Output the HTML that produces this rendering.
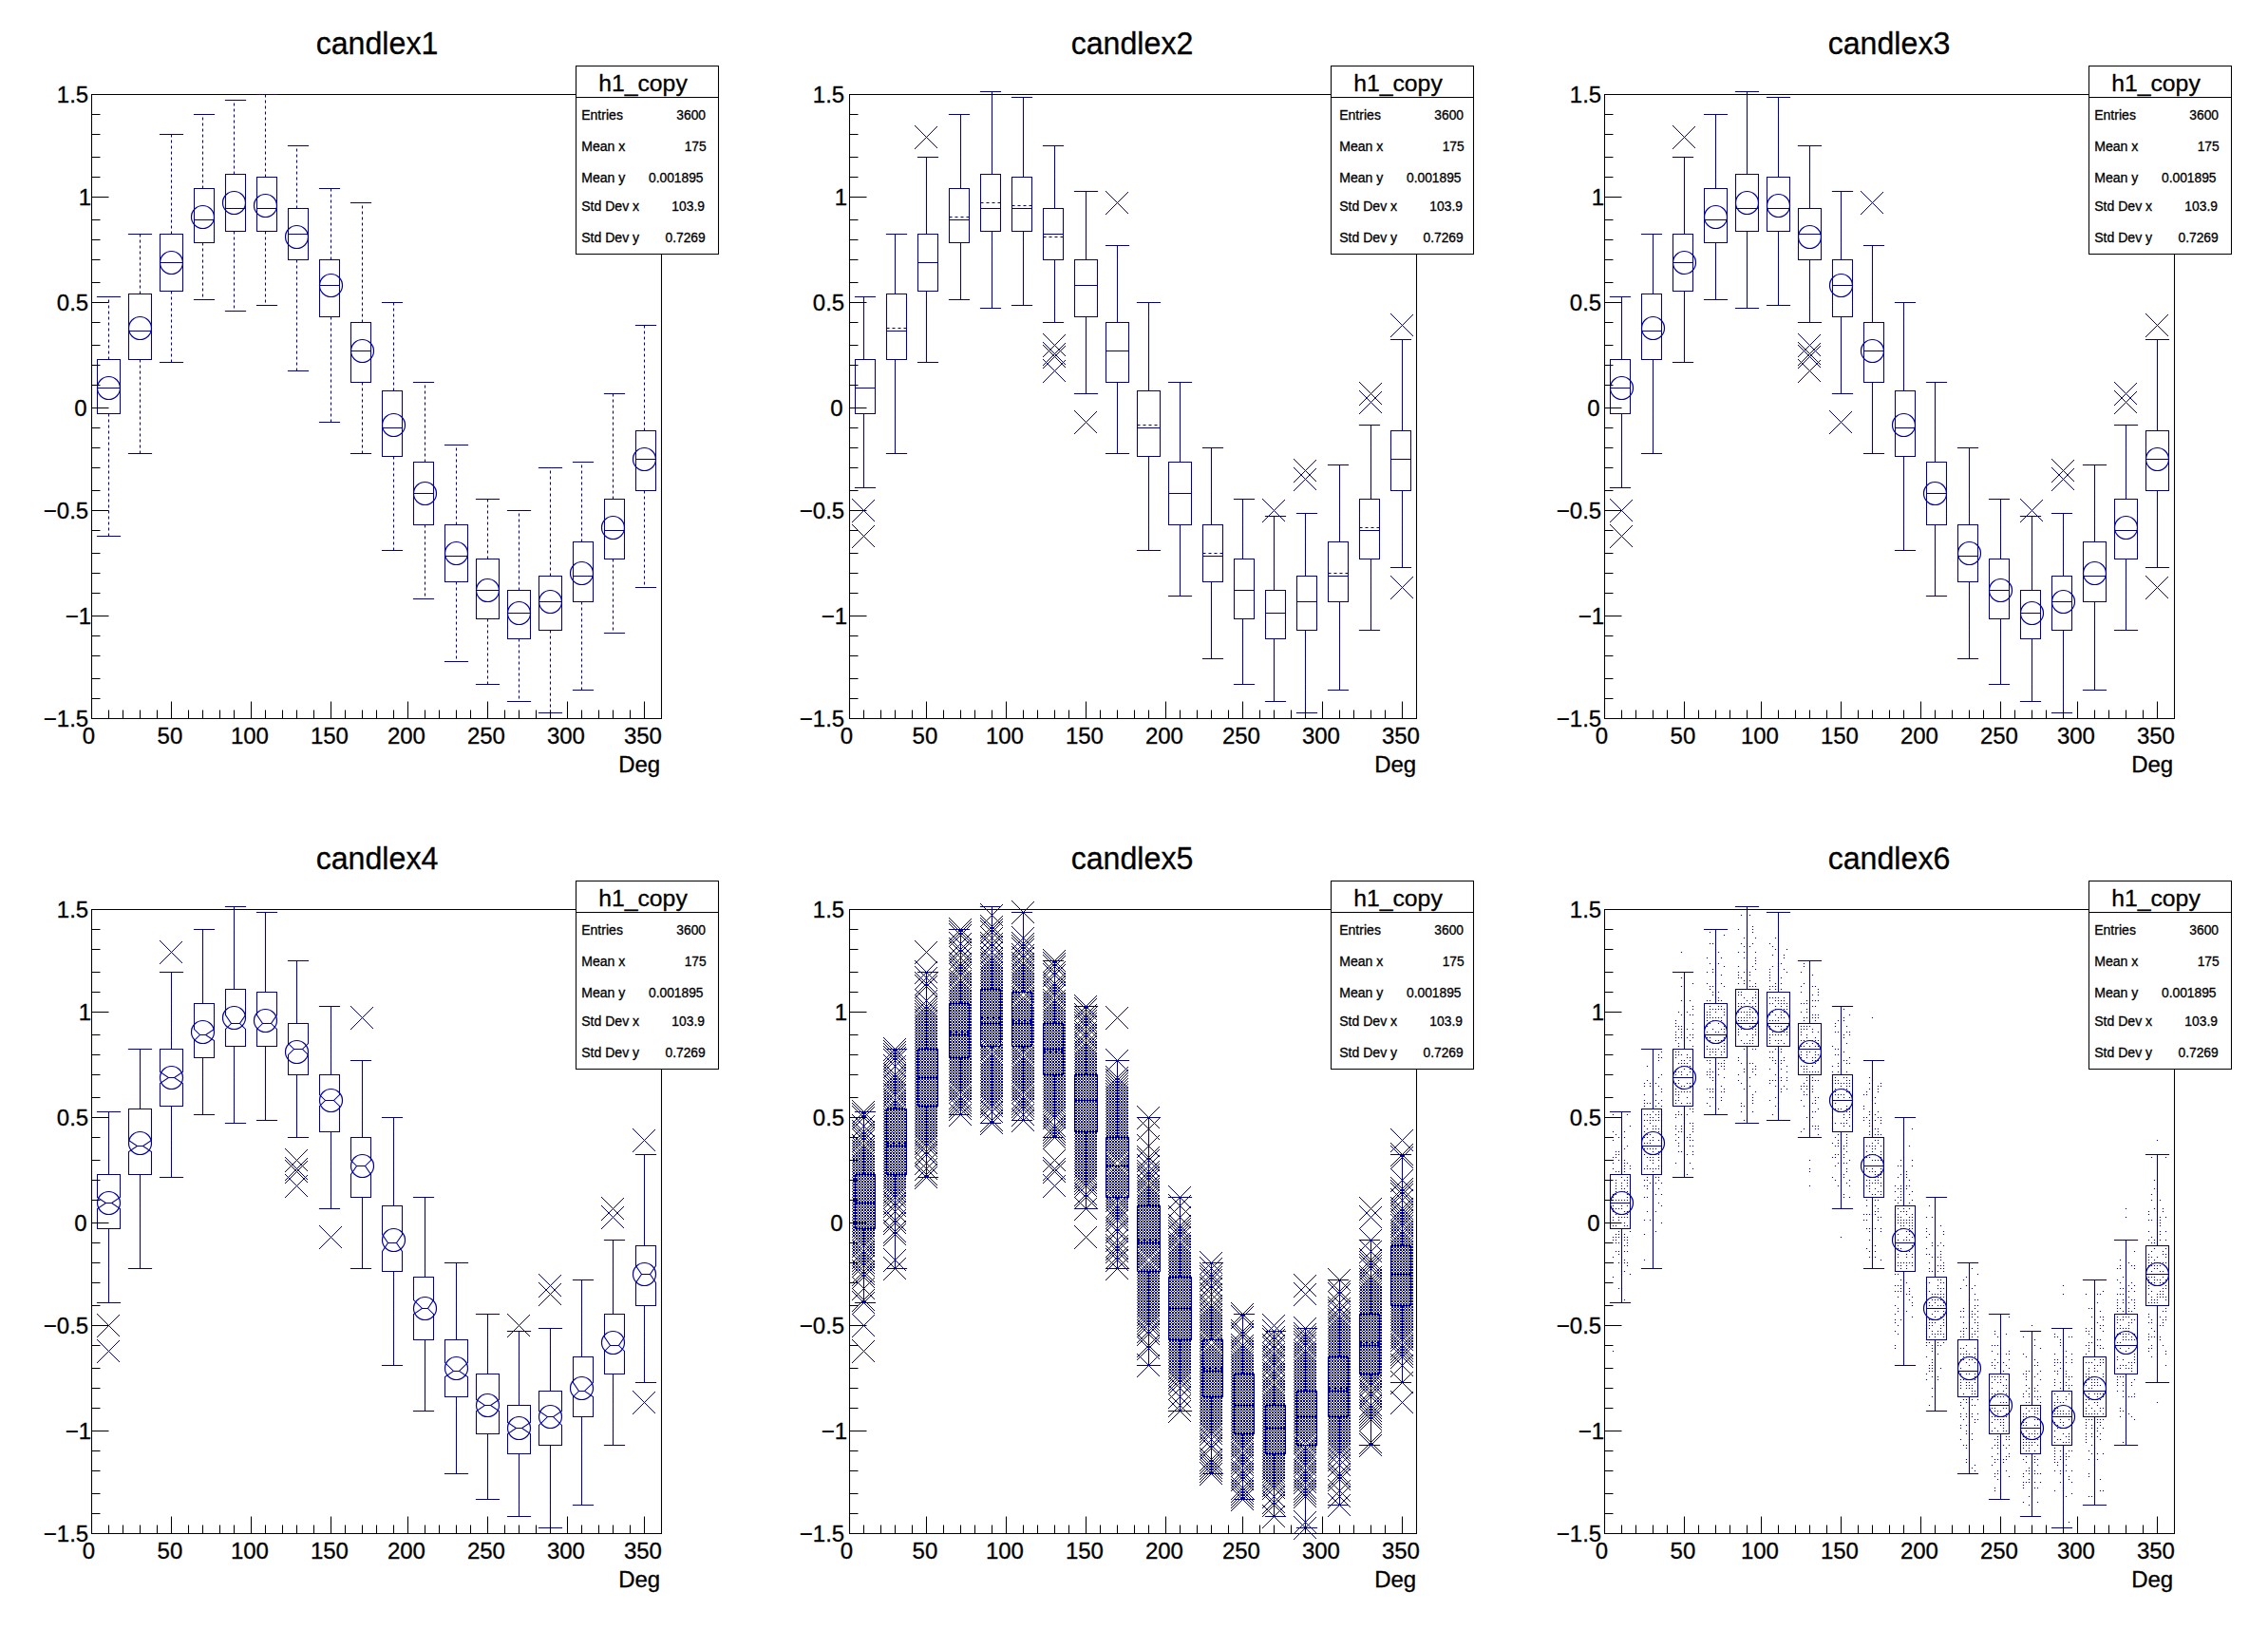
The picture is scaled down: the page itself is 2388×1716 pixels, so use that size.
<!DOCTYPE html><html><head><meta charset="utf-8"><title>candle plots</title><style>html,body{margin:0;padding:0;background:#fff}svg{display:block}text{font-family:"Liberation Sans",sans-serif;fill:#000;stroke:#000;stroke-width:.3px}</style></head><body>
<svg width="2388" height="1716" viewBox="0 0 2388 1716">
<rect width="2388" height="1716" fill="#fff"/>
<g><path d="M96.5 99.5H696.5V756.5H96.5Z" fill="none" stroke="#000" stroke-width="1.05"/><path d="M102.5 378.5H126.5V435.5H102.5ZM102.5 408.5H126.5M101.9 312.5H127.1M101.9 564.5H127.1M135.5 309.5H159.5V378.5H135.5ZM135.5 348.5H159.5M134.9 246.5H160.1M134.9 477.5H160.1M168.5 246.5H192.5V306.5H168.5ZM168.5 276.5H192.5M167.9 141.5H193.1M167.9 381.5H193.1M204.5 198.5H225.5V255.5H204.5ZM204.5 231.5H225.5M203.9 120.5H226.1M203.9 315.5H226.1M237.5 183.5H258.5V243.5H237.5ZM237.5 219.5H258.5M236.9 105.5H259.1M236.9 327.5H259.1M270.5 186.5H291.5V243.5H270.5ZM270.5 219.5H291.5M269.9 99.5H292.1M269.9 321.5H292.1M303.5 219.5H324.5V273.5H303.5ZM303.5 246.5H324.5M302.9 153.5H325.1M302.9 390.5H325.1M336.5 273.5H357.5V333.5H336.5ZM336.5 300.5H357.5M335.9 198.5H358.1M335.9 444.5H358.1M369.5 339.5H390.5V402.5H369.5ZM369.5 369.5H390.5M368.9 213.5H391.1M368.9 477.5H391.1M402.5 411.5H423.5V480.5H402.5ZM402.5 450.5H423.5M401.9 318.5H424.1M401.9 579.5H424.1M435.5 486.5H456.5V552.5H435.5ZM435.5 519.5H456.5M434.9 402.5H457.1M434.9 630.5H457.1M468.5 552.5H492.5V612.5H468.5ZM468.5 585.5H492.5M467.9 468.5H493.1M467.9 696.5H493.1M501.5 588.5H525.5V651.5H501.5ZM501.5 621.5H525.5M500.9 525.5H526.1M500.9 720.5H526.1M534.5 621.5H558.5V672.5H534.5ZM534.5 645.5H558.5M533.9 537.5H559.1M533.9 738.5H559.1M567.5 606.5H591.5V663.5H567.5ZM567.5 633.5H591.5M566.9 492.5H592.1M566.9 750.5H592.1M603.5 570.5H624.5V633.5H603.5ZM603.5 606.5H624.5M602.9 486.5H625.1M602.9 726.5H625.1M636.5 525.5H657.5V588.5H636.5ZM636.5 558.5H657.5M635.9 414.5H658.1M635.9 666.5H658.1M669.5 453.5H690.5V516.5H669.5ZM669.5 483.5H690.5M668.9 342.5H691.1M668.9 618.5H691.1" fill="none" stroke="#000099" stroke-width="1.05"/><path d="M114.5 378.5V312.5M114.5 435.5V564.5M147.5 309.5V246.5M147.5 378.5V477.5M180.5 246.5V141.5M180.5 306.5V381.5M213.5 198.5V120.5M213.5 255.5V315.5M246.5 183.5V105.5M246.5 243.5V327.5M279.5 186.5V99.5M279.5 243.5V321.5M312.5 219.5V153.5M312.5 273.5V390.5M348.5 273.5V198.5M348.5 333.5V444.5M381.5 339.5V213.5M381.5 402.5V477.5M414.5 411.5V318.5M414.5 480.5V579.5M447.5 486.5V402.5M447.5 552.5V630.5M480.5 552.5V468.5M480.5 612.5V696.5M513.5 588.5V525.5M513.5 651.5V720.5M546.5 621.5V537.5M546.5 672.5V738.5M579.5 606.5V492.5M579.5 663.5V750.5M612.5 570.5V486.5M612.5 633.5V726.5M645.5 525.5V414.5M645.5 588.5V666.5M678.5 453.5V342.5M678.5 516.5V618.5" fill="none" stroke="#000099" stroke-width="1.05" stroke-dasharray="3 3"/><g fill="none" stroke="#000099" stroke-width="1.2"><circle cx="114.5" cy="408.5" r="12"/><circle cx="147.5" cy="345.5" r="12"/><circle cx="180.5" cy="276.5" r="12"/><circle cx="213.5" cy="228.5" r="12"/><circle cx="246.5" cy="213.5" r="12"/><circle cx="279.5" cy="216.5" r="12"/><circle cx="312.5" cy="249.5" r="12"/><circle cx="348.5" cy="300.5" r="12"/><circle cx="381.5" cy="369.5" r="12"/><circle cx="414.5" cy="447.5" r="12"/><circle cx="447.5" cy="519.5" r="12"/><circle cx="480.5" cy="582.5" r="12"/><circle cx="513.5" cy="621.5" r="12"/><circle cx="546.5" cy="645.5" r="12"/><circle cx="579.5" cy="633.5" r="12"/><circle cx="612.5" cy="603.5" r="12"/><circle cx="645.5" cy="555.5" r="12"/><circle cx="678.5" cy="483.5" r="12"/></g><path d="M96.5 756.5V738.5M114.5 756.5V747.5M129.5 756.5V747.5M147.5 756.5V747.5M165.5 756.5V747.5M180.5 756.5V738.5M198.5 756.5V747.5M213.5 756.5V747.5M231.5 756.5V747.5M246.5 756.5V747.5M264.5 756.5V738.5M279.5 756.5V747.5M297.5 756.5V747.5M312.5 756.5V747.5M330.5 756.5V747.5M348.5 756.5V738.5M363.5 756.5V747.5M381.5 756.5V747.5M396.5 756.5V747.5M414.5 756.5V747.5M429.5 756.5V738.5M447.5 756.5V747.5M462.5 756.5V747.5M480.5 756.5V747.5M495.5 756.5V747.5M513.5 756.5V738.5M531.5 756.5V747.5M546.5 756.5V747.5M564.5 756.5V747.5M579.5 756.5V747.5M597.5 756.5V738.5M612.5 756.5V747.5M630.5 756.5V747.5M645.5 756.5V747.5M663.5 756.5V747.5M678.5 756.5V738.5M96.5 756.5H114.5M96.5 735.5H105.5M96.5 714.5H105.5M96.5 690.5H105.5M96.5 669.5H105.5M96.5 648.5H114.5M96.5 624.5H105.5M96.5 603.5H105.5M96.5 582.5H105.5M96.5 558.5H105.5M96.5 537.5H114.5M96.5 516.5H105.5M96.5 492.5H105.5M96.5 471.5H105.5M96.5 450.5H105.5M96.5 429.5H114.5M96.5 405.5H105.5M96.5 384.5H105.5M96.5 363.5H105.5M96.5 339.5H105.5M96.5 318.5H114.5M96.5 297.5H105.5M96.5 273.5H105.5M96.5 252.5H105.5M96.5 231.5H105.5M96.5 207.5H114.5M96.5 186.5H105.5M96.5 165.5H105.5M96.5 141.5H105.5M96.5 120.5H105.5M96.5 99.5H114.5" fill="none" stroke="#000" stroke-width="1.05"/><path d="M606.5 69.5H756.5V267.5H606.5Z" fill="#fff" stroke="#000" stroke-width="1.05"/><path d="M606.5 102.5H756.5" fill="none" stroke="#000" stroke-width="1.05"/><text x="397" y="57" font-size="33.5" text-anchor="middle" textLength="128.7" lengthAdjust="spacingAndGlyphs">candlex1</text><text x="93.2" y="108" font-size="24" text-anchor="end">1.5</text><text x="96" y="216" font-size="24" text-anchor="end">1</text><text x="93.2" y="327" font-size="24" text-anchor="end">0.5</text><text x="91.6" y="438" font-size="24" text-anchor="end">0</text><text x="93.2" y="546" font-size="24" text-anchor="end">−0.5</text><text x="96" y="657" font-size="24" text-anchor="end">−1</text><text x="93.2" y="765" font-size="24" text-anchor="end">−1.5</text><text x="93.5" y="782.7" font-size="24" text-anchor="middle">0</text><text x="178.9" y="782.7" font-size="24" text-anchor="middle">50</text><text x="262.9" y="782.7" font-size="24" text-anchor="middle">100</text><text x="346.9" y="782.7" font-size="24" text-anchor="middle">150</text><text x="427.9" y="782.7" font-size="24" text-anchor="middle">200</text><text x="511.9" y="782.7" font-size="24" text-anchor="middle">250</text><text x="595.9" y="782.7" font-size="24" text-anchor="middle">300</text><text x="676.9" y="782.7" font-size="24" text-anchor="middle">350</text><text x="695.2" y="812.7" font-size="24" text-anchor="end">Deg</text><text x="630.2" y="95.9" font-size="24.75">h1_copy</text><text x="612.2" y="125.9" font-size="14.05">Entries</text><text x="743" y="125.9" font-size="13.8" text-anchor="end">3600</text><text x="612.2" y="159" font-size="14.05">Mean x</text><text x="743.7" y="159" font-size="13.8" text-anchor="end">175</text><text x="612.2" y="191.6" font-size="14.05">Mean y</text><text x="740.5" y="191.6" font-size="13.8" text-anchor="end">0.001895</text><text x="612.2" y="221.8" font-size="14.05">Std Dev x</text><text x="741.9" y="221.8" font-size="13.8" text-anchor="end">103.9</text><text x="612.2" y="254.7" font-size="14.05">Std Dev y</text><text x="742.7" y="254.7" font-size="13.8" text-anchor="end">0.7269</text></g>
<g><path d="M894.5 99.5H1491.5V756.5H894.5Z" fill="none" stroke="#000" stroke-width="1.05"/><path d="M897.5 525.5l23.5 23.5m-24 1l24-24M897.5 552.5l23.5 23.5m-24 1l24-24M963.5 132.5l23.5 23.5m-24 1l24-24M1098.5 351.5l23.5 23.5m-24 1l24-24M1098.5 360.5l23.5 23.5m-24 1l24-24M1098.5 363.5l23.5 23.5m-24 1l24-24M1098.5 378.5l23.5 23.5m-24 1l24-24M1131.5 432.5l23.5 23.5m-24 1l24-24M1164.5 201.5l23.5 23.5m-24 1l24-24M1329.5 525.5l23.5 23.5m-24 1l24-24M1362.5 483.5l23.5 23.5m-24 1l24-24M1362.5 492.5l23.5 23.5m-24 1l24-24M1431.5 402.5l23.5 23.5m-24 1l24-24M1431.5 411.5l23.5 23.5m-24 1l24-24M1464.5 330.5l23.5 23.5m-24 1l24-24M1464.5 606.5l23.5 23.5m-24 1l24-24" fill="none" stroke="#000099" stroke-width="1" shape-rendering="crispEdges"/><path d="M900.5 378.5H921.5V435.5H900.5ZM900.5 408.5H921.5M899.9 312.5H922.1M899.9 513.5H922.1M909.5 378.5V312.5M909.5 435.5V513.5M933.5 309.5H954.5V378.5H933.5ZM933.5 348.5H954.5M932.9 246.5H955.1M932.9 477.5H955.1M942.5 309.5V246.5M942.5 378.5V477.5M966.5 246.5H987.5V306.5H966.5ZM966.5 276.5H987.5M965.9 165.5H988.1M965.9 381.5H988.1M975.5 246.5V165.5M975.5 306.5V381.5M999.5 198.5H1020.5V255.5H999.5ZM999.5 231.5H1020.5M998.9 120.5H1021.1M998.9 315.5H1021.1M1011.5 198.5V120.5M1011.5 255.5V315.5M1032.5 183.5H1053.5V243.5H1032.5ZM1032.5 219.5H1053.5M1031.9 96.5H1054.1M1031.9 324.5H1054.1M1044.5 183.5V96.5M1044.5 243.5V324.5M1065.5 186.5H1086.5V243.5H1065.5ZM1065.5 219.5H1086.5M1064.9 102.5H1087.1M1064.9 321.5H1087.1M1077.5 186.5V102.5M1077.5 243.5V321.5M1098.5 219.5H1119.5V273.5H1098.5ZM1098.5 246.5H1119.5M1097.9 153.5H1120.1M1097.9 339.5H1120.1M1110.5 219.5V153.5M1110.5 273.5V339.5M1131.5 273.5H1155.5V333.5H1131.5ZM1131.5 300.5H1155.5M1130.9 201.5H1156.1M1130.9 414.5H1156.1M1143.5 273.5V201.5M1143.5 333.5V414.5M1164.5 339.5H1188.5V402.5H1164.5ZM1164.5 369.5H1188.5M1163.9 258.5H1189.1M1163.9 477.5H1189.1M1176.5 339.5V258.5M1176.5 402.5V477.5M1197.5 411.5H1221.5V480.5H1197.5ZM1197.5 450.5H1221.5M1196.9 318.5H1222.1M1196.9 579.5H1222.1M1209.5 411.5V318.5M1209.5 480.5V579.5M1230.5 486.5H1254.5V552.5H1230.5ZM1230.5 519.5H1254.5M1229.9 402.5H1255.1M1229.9 627.5H1255.1M1242.5 486.5V402.5M1242.5 552.5V627.5M1266.5 552.5H1287.5V612.5H1266.5ZM1266.5 585.5H1287.5M1265.9 471.5H1288.1M1265.9 693.5H1288.1M1275.5 552.5V471.5M1275.5 612.5V693.5M1299.5 588.5H1320.5V651.5H1299.5ZM1299.5 621.5H1320.5M1298.9 525.5H1321.1M1298.9 720.5H1321.1M1308.5 588.5V525.5M1308.5 651.5V720.5M1332.5 621.5H1353.5V672.5H1332.5ZM1332.5 645.5H1353.5M1331.9 543.5H1354.1M1331.9 738.5H1354.1M1341.5 621.5V543.5M1341.5 672.5V738.5M1365.5 606.5H1386.5V663.5H1365.5ZM1365.5 633.5H1386.5M1364.9 540.5H1387.1M1364.9 750.5H1387.1M1374.5 606.5V540.5M1374.5 663.5V750.5M1398.5 570.5H1419.5V633.5H1398.5ZM1398.5 606.5H1419.5M1397.9 489.5H1420.1M1397.9 726.5H1420.1M1410.5 570.5V489.5M1410.5 633.5V726.5M1431.5 525.5H1452.5V588.5H1431.5ZM1431.5 558.5H1452.5M1430.9 447.5H1453.1M1430.9 663.5H1453.1M1443.5 525.5V447.5M1443.5 588.5V663.5M1464.5 453.5H1485.5V516.5H1464.5ZM1464.5 483.5H1485.5M1463.9 357.5H1486.1M1463.9 597.5H1486.1M1476.5 453.5V357.5M1476.5 516.5V597.5" fill="none" stroke="#000099" stroke-width="1.05"/><path d="M933.5 345.5H954.5M999.5 228.5H1020.5M1032.5 213.5H1053.5M1065.5 216.5H1086.5M1098.5 249.5H1119.5M1197.5 447.5H1221.5M1266.5 582.5H1287.5M1398.5 603.5H1419.5M1431.5 555.5H1452.5" fill="none" stroke="#000099" stroke-width="1.05" stroke-dasharray="3 3"/><path d="M894.5 756.5V738.5M909.5 756.5V747.5M927.5 756.5V747.5M942.5 756.5V747.5M960.5 756.5V747.5M975.5 756.5V738.5M993.5 756.5V747.5M1011.5 756.5V747.5M1026.5 756.5V747.5M1044.5 756.5V747.5M1059.5 756.5V738.5M1077.5 756.5V747.5M1092.5 756.5V747.5M1110.5 756.5V747.5M1125.5 756.5V747.5M1143.5 756.5V738.5M1158.5 756.5V747.5M1176.5 756.5V747.5M1194.5 756.5V747.5M1209.5 756.5V747.5M1227.5 756.5V738.5M1242.5 756.5V747.5M1260.5 756.5V747.5M1275.5 756.5V747.5M1293.5 756.5V747.5M1308.5 756.5V738.5M1326.5 756.5V747.5M1341.5 756.5V747.5M1359.5 756.5V747.5M1374.5 756.5V747.5M1392.5 756.5V738.5M1410.5 756.5V747.5M1425.5 756.5V747.5M1443.5 756.5V747.5M1458.5 756.5V747.5M1476.5 756.5V738.5M894.5 756.5H912.5M894.5 735.5H903.5M894.5 714.5H903.5M894.5 690.5H903.5M894.5 669.5H903.5M894.5 648.5H912.5M894.5 624.5H903.5M894.5 603.5H903.5M894.5 582.5H903.5M894.5 558.5H903.5M894.5 537.5H912.5M894.5 516.5H903.5M894.5 492.5H903.5M894.5 471.5H903.5M894.5 450.5H903.5M894.5 429.5H912.5M894.5 405.5H903.5M894.5 384.5H903.5M894.5 363.5H903.5M894.5 339.5H903.5M894.5 318.5H912.5M894.5 297.5H903.5M894.5 273.5H903.5M894.5 252.5H903.5M894.5 231.5H903.5M894.5 207.5H912.5M894.5 186.5H903.5M894.5 165.5H903.5M894.5 141.5H903.5M894.5 120.5H903.5M894.5 99.5H912.5" fill="none" stroke="#000" stroke-width="1.05"/><path d="M1401.5 69.5H1551.5V267.5H1401.5Z" fill="#fff" stroke="#000" stroke-width="1.05"/><path d="M1401.5 102.5H1551.5" fill="none" stroke="#000" stroke-width="1.05"/><text x="1192" y="57" font-size="33.5" text-anchor="middle" textLength="128.7" lengthAdjust="spacingAndGlyphs">candlex2</text><text x="889.2" y="108" font-size="24" text-anchor="end">1.5</text><text x="892" y="216" font-size="24" text-anchor="end">1</text><text x="889.2" y="327" font-size="24" text-anchor="end">0.5</text><text x="887.6" y="438" font-size="24" text-anchor="end">0</text><text x="889.2" y="546" font-size="24" text-anchor="end">−0.5</text><text x="892" y="657" font-size="24" text-anchor="end">−1</text><text x="889.2" y="765" font-size="24" text-anchor="end">−1.5</text><text x="891.5" y="782.7" font-size="24" text-anchor="middle">0</text><text x="973.9" y="782.7" font-size="24" text-anchor="middle">50</text><text x="1057.9" y="782.7" font-size="24" text-anchor="middle">100</text><text x="1141.9" y="782.7" font-size="24" text-anchor="middle">150</text><text x="1225.9" y="782.7" font-size="24" text-anchor="middle">200</text><text x="1306.9" y="782.7" font-size="24" text-anchor="middle">250</text><text x="1390.9" y="782.7" font-size="24" text-anchor="middle">300</text><text x="1474.9" y="782.7" font-size="24" text-anchor="middle">350</text><text x="1491.2" y="812.7" font-size="24" text-anchor="end">Deg</text><text x="1425.2" y="95.9" font-size="24.75">h1_copy</text><text x="1410.2" y="125.9" font-size="14.05">Entries</text><text x="1541" y="125.9" font-size="13.8" text-anchor="end">3600</text><text x="1410.2" y="159" font-size="14.05">Mean x</text><text x="1541.7" y="159" font-size="13.8" text-anchor="end">175</text><text x="1410.2" y="191.6" font-size="14.05">Mean y</text><text x="1538.5" y="191.6" font-size="13.8" text-anchor="end">0.001895</text><text x="1410.2" y="221.8" font-size="14.05">Std Dev x</text><text x="1539.9" y="221.8" font-size="13.8" text-anchor="end">103.9</text><text x="1410.2" y="254.7" font-size="14.05">Std Dev y</text><text x="1540.7" y="254.7" font-size="13.8" text-anchor="end">0.7269</text></g>
<g><path d="M1689.5 99.5H2289.5V756.5H1689.5Z" fill="none" stroke="#000" stroke-width="1.05"/><path d="M1695.5 525.5l23.5 23.5m-24 1l24-24M1695.5 552.5l23.5 23.5m-24 1l24-24M1761.5 132.5l23.5 23.5m-24 1l24-24M1893.5 351.5l23.5 23.5m-24 1l24-24M1893.5 360.5l23.5 23.5m-24 1l24-24M1893.5 363.5l23.5 23.5m-24 1l24-24M1893.5 378.5l23.5 23.5m-24 1l24-24M1926.5 432.5l23.5 23.5m-24 1l24-24M1959.5 201.5l23.5 23.5m-24 1l24-24M2127.5 525.5l23.5 23.5m-24 1l24-24M2160.5 483.5l23.5 23.5m-24 1l24-24M2160.5 492.5l23.5 23.5m-24 1l24-24M2226.5 402.5l23.5 23.5m-24 1l24-24M2226.5 411.5l23.5 23.5m-24 1l24-24M2259.5 330.5l23.5 23.5m-24 1l24-24M2259.5 606.5l23.5 23.5m-24 1l24-24" fill="none" stroke="#000099" stroke-width="1" shape-rendering="crispEdges"/><path d="M1695.5 378.5H1716.5V435.5H1695.5ZM1695.5 408.5H1716.5M1694.9 312.5H1717.1M1694.9 513.5H1717.1M1707.5 378.5V312.5M1707.5 435.5V513.5M1728.5 309.5H1749.5V378.5H1728.5ZM1728.5 348.5H1749.5M1727.9 246.5H1750.1M1727.9 477.5H1750.1M1740.5 309.5V246.5M1740.5 378.5V477.5M1761.5 246.5H1782.5V306.5H1761.5ZM1761.5 276.5H1782.5M1760.9 165.5H1783.1M1760.9 381.5H1783.1M1773.5 246.5V165.5M1773.5 306.5V381.5M1794.5 198.5H1818.5V255.5H1794.5ZM1794.5 231.5H1818.5M1793.9 120.5H1819.1M1793.9 315.5H1819.1M1806.5 198.5V120.5M1806.5 255.5V315.5M1827.5 183.5H1851.5V243.5H1827.5ZM1827.5 219.5H1851.5M1826.9 96.5H1852.1M1826.9 324.5H1852.1M1839.5 183.5V96.5M1839.5 243.5V324.5M1860.5 186.5H1884.5V243.5H1860.5ZM1860.5 219.5H1884.5M1859.9 102.5H1885.1M1859.9 321.5H1885.1M1872.5 186.5V102.5M1872.5 243.5V321.5M1893.5 219.5H1917.5V273.5H1893.5ZM1893.5 246.5H1917.5M1892.9 153.5H1918.1M1892.9 339.5H1918.1M1905.5 219.5V153.5M1905.5 273.5V339.5M1929.5 273.5H1950.5V333.5H1929.5ZM1929.5 300.5H1950.5M1928.9 201.5H1951.1M1928.9 414.5H1951.1M1938.5 273.5V201.5M1938.5 333.5V414.5M1962.5 339.5H1983.5V402.5H1962.5ZM1962.5 369.5H1983.5M1961.9 258.5H1984.1M1961.9 477.5H1984.1M1971.5 339.5V258.5M1971.5 402.5V477.5M1995.5 411.5H2016.5V480.5H1995.5ZM1995.5 450.5H2016.5M1994.9 318.5H2017.1M1994.9 579.5H2017.1M2004.5 411.5V318.5M2004.5 480.5V579.5M2028.5 486.5H2049.5V552.5H2028.5ZM2028.5 519.5H2049.5M2027.9 402.5H2050.1M2027.9 627.5H2050.1M2037.5 486.5V402.5M2037.5 552.5V627.5M2061.5 552.5H2082.5V612.5H2061.5ZM2061.5 585.5H2082.5M2060.9 471.5H2083.1M2060.9 693.5H2083.1M2073.5 552.5V471.5M2073.5 612.5V693.5M2094.5 588.5H2115.5V651.5H2094.5ZM2094.5 621.5H2115.5M2093.9 525.5H2116.1M2093.9 720.5H2116.1M2106.5 588.5V525.5M2106.5 651.5V720.5M2127.5 621.5H2148.5V672.5H2127.5ZM2127.5 645.5H2148.5M2126.9 543.5H2149.1M2126.9 738.5H2149.1M2139.5 621.5V543.5M2139.5 672.5V738.5M2160.5 606.5H2181.5V663.5H2160.5ZM2160.5 633.5H2181.5M2159.9 540.5H2182.1M2159.9 750.5H2182.1M2172.5 606.5V540.5M2172.5 663.5V750.5M2193.5 570.5H2217.5V633.5H2193.5ZM2193.5 606.5H2217.5M2192.9 489.5H2218.1M2192.9 726.5H2218.1M2205.5 570.5V489.5M2205.5 633.5V726.5M2226.5 525.5H2250.5V588.5H2226.5ZM2226.5 558.5H2250.5M2225.9 447.5H2251.1M2225.9 663.5H2251.1M2238.5 525.5V447.5M2238.5 588.5V663.5M2259.5 453.5H2283.5V516.5H2259.5ZM2259.5 483.5H2283.5M2258.9 357.5H2284.1M2258.9 597.5H2284.1M2271.5 453.5V357.5M2271.5 516.5V597.5" fill="none" stroke="#000099" stroke-width="1.05"/><g fill="none" stroke="#000099" stroke-width="1.2"><circle cx="1707.5" cy="408.5" r="12"/><circle cx="1740.5" cy="345.5" r="12"/><circle cx="1773.5" cy="276.5" r="12"/><circle cx="1806.5" cy="228.5" r="12"/><circle cx="1839.5" cy="213.5" r="12"/><circle cx="1872.5" cy="216.5" r="12"/><circle cx="1905.5" cy="249.5" r="12"/><circle cx="1938.5" cy="300.5" r="12"/><circle cx="1971.5" cy="369.5" r="12"/><circle cx="2004.5" cy="447.5" r="12"/><circle cx="2037.5" cy="519.5" r="12"/><circle cx="2073.5" cy="582.5" r="12"/><circle cx="2106.5" cy="621.5" r="12"/><circle cx="2139.5" cy="645.5" r="12"/><circle cx="2172.5" cy="633.5" r="12"/><circle cx="2205.5" cy="603.5" r="12"/><circle cx="2238.5" cy="555.5" r="12"/><circle cx="2271.5" cy="483.5" r="12"/></g><path d="M1689.5 756.5V738.5M1707.5 756.5V747.5M1722.5 756.5V747.5M1740.5 756.5V747.5M1755.5 756.5V747.5M1773.5 756.5V738.5M1788.5 756.5V747.5M1806.5 756.5V747.5M1821.5 756.5V747.5M1839.5 756.5V747.5M1854.5 756.5V738.5M1872.5 756.5V747.5M1890.5 756.5V747.5M1905.5 756.5V747.5M1923.5 756.5V747.5M1938.5 756.5V738.5M1956.5 756.5V747.5M1971.5 756.5V747.5M1989.5 756.5V747.5M2004.5 756.5V747.5M2022.5 756.5V738.5M2037.5 756.5V747.5M2055.5 756.5V747.5M2073.5 756.5V747.5M2088.5 756.5V747.5M2106.5 756.5V738.5M2121.5 756.5V747.5M2139.5 756.5V747.5M2154.5 756.5V747.5M2172.5 756.5V747.5M2187.5 756.5V738.5M2205.5 756.5V747.5M2220.5 756.5V747.5M2238.5 756.5V747.5M2256.5 756.5V747.5M2271.5 756.5V738.5M1689.5 756.5H1707.5M1689.5 735.5H1698.5M1689.5 714.5H1698.5M1689.5 690.5H1698.5M1689.5 669.5H1698.5M1689.5 648.5H1707.5M1689.5 624.5H1698.5M1689.5 603.5H1698.5M1689.5 582.5H1698.5M1689.5 558.5H1698.5M1689.5 537.5H1707.5M1689.5 516.5H1698.5M1689.5 492.5H1698.5M1689.5 471.5H1698.5M1689.5 450.5H1698.5M1689.5 429.5H1707.5M1689.5 405.5H1698.5M1689.5 384.5H1698.5M1689.5 363.5H1698.5M1689.5 339.5H1698.5M1689.5 318.5H1707.5M1689.5 297.5H1698.5M1689.5 273.5H1698.5M1689.5 252.5H1698.5M1689.5 231.5H1698.5M1689.5 207.5H1707.5M1689.5 186.5H1698.5M1689.5 165.5H1698.5M1689.5 141.5H1698.5M1689.5 120.5H1698.5M1689.5 99.5H1707.5" fill="none" stroke="#000" stroke-width="1.05"/><path d="M2199.5 69.5H2349.5V267.5H2199.5Z" fill="#fff" stroke="#000" stroke-width="1.05"/><path d="M2199.5 102.5H2349.5" fill="none" stroke="#000" stroke-width="1.05"/><text x="1989" y="57" font-size="33.5" text-anchor="middle" textLength="128.7" lengthAdjust="spacingAndGlyphs">candlex3</text><text x="1686.2" y="108" font-size="24" text-anchor="end">1.5</text><text x="1689" y="216" font-size="24" text-anchor="end">1</text><text x="1686.2" y="327" font-size="24" text-anchor="end">0.5</text><text x="1684.6" y="438" font-size="24" text-anchor="end">0</text><text x="1686.2" y="546" font-size="24" text-anchor="end">−0.5</text><text x="1689" y="657" font-size="24" text-anchor="end">−1</text><text x="1686.2" y="765" font-size="24" text-anchor="end">−1.5</text><text x="1686.5" y="782.7" font-size="24" text-anchor="middle">0</text><text x="1771.9" y="782.7" font-size="24" text-anchor="middle">50</text><text x="1852.9" y="782.7" font-size="24" text-anchor="middle">100</text><text x="1936.9" y="782.7" font-size="24" text-anchor="middle">150</text><text x="2020.9" y="782.7" font-size="24" text-anchor="middle">200</text><text x="2104.9" y="782.7" font-size="24" text-anchor="middle">250</text><text x="2185.9" y="782.7" font-size="24" text-anchor="middle">300</text><text x="2269.9" y="782.7" font-size="24" text-anchor="middle">350</text><text x="2288.2" y="812.7" font-size="24" text-anchor="end">Deg</text><text x="2223.2" y="95.9" font-size="24.75">h1_copy</text><text x="2205.2" y="125.9" font-size="14.05">Entries</text><text x="2336" y="125.9" font-size="13.8" text-anchor="end">3600</text><text x="2205.2" y="159" font-size="14.05">Mean x</text><text x="2336.7" y="159" font-size="13.8" text-anchor="end">175</text><text x="2205.2" y="191.6" font-size="14.05">Mean y</text><text x="2333.5" y="191.6" font-size="13.8" text-anchor="end">0.001895</text><text x="2205.2" y="221.8" font-size="14.05">Std Dev x</text><text x="2334.9" y="221.8" font-size="13.8" text-anchor="end">103.9</text><text x="2205.2" y="254.7" font-size="14.05">Std Dev y</text><text x="2335.7" y="254.7" font-size="13.8" text-anchor="end">0.7269</text></g>
<g><path d="M96.5 957.5H696.5V1614.5H96.5Z" fill="none" stroke="#000" stroke-width="1.05"/><path d="M102.5 1383.5l23.5 23.5m-24 1l24-24M102.5 1410.5l23.5 23.5m-24 1l24-24M168.5 990.5l23.5 23.5m-24 1l24-24M300.5 1209.5l23.5 23.5m-24 1l24-24M300.5 1218.5l23.5 23.5m-24 1l24-24M300.5 1221.5l23.5 23.5m-24 1l24-24M300.5 1236.5l23.5 23.5m-24 1l24-24M336.5 1290.5l23.5 23.5m-24 1l24-24M369.5 1059.5l23.5 23.5m-24 1l24-24M534.5 1383.5l23.5 23.5m-24 1l24-24M567.5 1341.5l23.5 23.5m-24 1l24-24M567.5 1350.5l23.5 23.5m-24 1l24-24M633.5 1260.5l23.5 23.5m-24 1l24-24M633.5 1269.5l23.5 23.5m-24 1l24-24M666.5 1188.5l23.5 23.5m-24 1l24-24M666.5 1464.5l23.5 23.5m-24 1l24-24" fill="none" stroke="#000099" stroke-width="1" shape-rendering="crispEdges"/><path d="M102.5 1293.5L102.5 1272.5L111.5 1266.5L102.5 1260.5L102.5 1236.5L126.5 1236.5L126.5 1260.5L117.5 1266.5L126.5 1272.5L126.5 1293.5ZM111.5 1266.5H117.5M101.9 1170.5H127.1M101.9 1371.5H127.1M114.5 1236.5V1170.5M114.5 1293.5V1371.5M135.5 1236.5L135.5 1212.5L144.5 1206.5L135.5 1200.5L135.5 1167.5L159.5 1167.5L159.5 1200.5L150.5 1206.5L159.5 1212.5L159.5 1236.5ZM144.5 1206.5H150.5M134.9 1104.5H160.1M134.9 1335.5H160.1M147.5 1167.5V1104.5M147.5 1236.5V1335.5M168.5 1164.5L168.5 1140.5L177.5 1134.5L168.5 1128.5L168.5 1104.5L192.5 1104.5L192.5 1128.5L183.5 1134.5L192.5 1140.5L192.5 1164.5ZM177.5 1134.5H183.5M167.9 1023.5H193.1M167.9 1239.5H193.1M180.5 1104.5V1023.5M180.5 1164.5V1239.5M204.5 1113.5L204.5 1095.5L210.5 1089.5L204.5 1083.5L204.5 1056.5L225.5 1056.5L225.5 1083.5L216.5 1089.5L225.5 1095.5L225.5 1113.5ZM210.5 1089.5H216.5M203.9 978.5H226.1M203.9 1173.5H226.1M213.5 1056.5V978.5M213.5 1113.5V1173.5M237.5 1101.5L237.5 1083.5L243.5 1077.5L237.5 1068.5L237.5 1041.5L258.5 1041.5L258.5 1068.5L252.5 1077.5L258.5 1083.5L258.5 1101.5ZM243.5 1077.5H252.5M236.9 954.5H259.1M236.9 1182.5H259.1M246.5 1041.5V954.5M246.5 1101.5V1182.5M270.5 1101.5L270.5 1083.5L276.5 1077.5L270.5 1068.5L270.5 1044.5L291.5 1044.5L291.5 1068.5L285.5 1077.5L291.5 1083.5L291.5 1101.5ZM276.5 1077.5H285.5M269.9 960.5H292.1M269.9 1179.5H292.1M279.5 1044.5V960.5M279.5 1101.5V1179.5M303.5 1131.5L303.5 1110.5L309.5 1104.5L303.5 1098.5L303.5 1077.5L324.5 1077.5L324.5 1098.5L318.5 1104.5L324.5 1110.5L324.5 1131.5ZM309.5 1104.5H318.5M302.9 1011.5H325.1M302.9 1197.5H325.1M312.5 1077.5V1011.5M312.5 1131.5V1197.5M336.5 1191.5L336.5 1164.5L342.5 1158.5L336.5 1152.5L336.5 1131.5L357.5 1131.5L357.5 1152.5L351.5 1158.5L357.5 1164.5L357.5 1191.5ZM342.5 1158.5H351.5M335.9 1059.5H358.1M335.9 1272.5H358.1M348.5 1131.5V1059.5M348.5 1191.5V1272.5M369.5 1260.5L369.5 1236.5L375.5 1227.5L369.5 1221.5L369.5 1197.5L390.5 1197.5L390.5 1221.5L384.5 1227.5L390.5 1236.5L390.5 1260.5ZM375.5 1227.5H384.5M368.9 1116.5H391.1M368.9 1335.5H391.1M381.5 1197.5V1116.5M381.5 1260.5V1335.5M402.5 1338.5L402.5 1317.5L408.5 1308.5L402.5 1299.5L402.5 1269.5L423.5 1269.5L423.5 1299.5L417.5 1308.5L423.5 1317.5L423.5 1338.5ZM408.5 1308.5H417.5M401.9 1176.5H424.1M401.9 1437.5H424.1M414.5 1269.5V1176.5M414.5 1338.5V1437.5M435.5 1410.5L435.5 1383.5L444.5 1377.5L435.5 1368.5L435.5 1344.5L456.5 1344.5L456.5 1368.5L450.5 1377.5L456.5 1383.5L456.5 1410.5ZM444.5 1377.5H450.5M434.9 1260.5H457.1M434.9 1485.5H457.1M447.5 1344.5V1260.5M447.5 1410.5V1485.5M468.5 1470.5L468.5 1449.5L477.5 1443.5L468.5 1434.5L468.5 1410.5L492.5 1410.5L492.5 1434.5L483.5 1443.5L492.5 1449.5L492.5 1470.5ZM477.5 1443.5H483.5M467.9 1329.5H493.1M467.9 1551.5H493.1M480.5 1410.5V1329.5M480.5 1470.5V1551.5M501.5 1509.5L501.5 1485.5L510.5 1479.5L501.5 1473.5L501.5 1446.5L525.5 1446.5L525.5 1473.5L516.5 1479.5L525.5 1485.5L525.5 1509.5ZM510.5 1479.5H516.5M500.9 1383.5H526.1M500.9 1578.5H526.1M513.5 1446.5V1383.5M513.5 1509.5V1578.5M534.5 1530.5L534.5 1509.5L543.5 1503.5L534.5 1497.5L534.5 1479.5L558.5 1479.5L558.5 1497.5L549.5 1503.5L558.5 1509.5L558.5 1530.5ZM543.5 1503.5H549.5M533.9 1401.5H559.1M533.9 1596.5H559.1M546.5 1479.5V1401.5M546.5 1530.5V1596.5M567.5 1521.5L567.5 1500.5L576.5 1491.5L567.5 1485.5L567.5 1464.5L591.5 1464.5L591.5 1485.5L582.5 1491.5L591.5 1500.5L591.5 1521.5ZM576.5 1491.5H582.5M566.9 1398.5H592.1M566.9 1608.5H592.1M579.5 1464.5V1398.5M579.5 1521.5V1608.5M603.5 1491.5L603.5 1470.5L609.5 1464.5L603.5 1455.5L603.5 1428.5L624.5 1428.5L624.5 1455.5L615.5 1464.5L624.5 1470.5L624.5 1491.5ZM609.5 1464.5H615.5M602.9 1347.5H625.1M602.9 1584.5H625.1M612.5 1428.5V1347.5M612.5 1491.5V1584.5M636.5 1446.5L636.5 1422.5L642.5 1416.5L636.5 1407.5L636.5 1383.5L657.5 1383.5L657.5 1407.5L651.5 1416.5L657.5 1422.5L657.5 1446.5ZM642.5 1416.5H651.5M635.9 1305.5H658.1M635.9 1521.5H658.1M645.5 1383.5V1305.5M645.5 1446.5V1521.5M669.5 1374.5L669.5 1350.5L675.5 1341.5L669.5 1332.5L669.5 1311.5L690.5 1311.5L690.5 1332.5L684.5 1341.5L690.5 1350.5L690.5 1374.5ZM675.5 1341.5H684.5M668.9 1215.5H691.1M668.9 1455.5H691.1M678.5 1311.5V1215.5M678.5 1374.5V1455.5" fill="none" stroke="#000099" stroke-width="1.05"/><g fill="none" stroke="#000099" stroke-width="1.2"><circle cx="114.5" cy="1266.5" r="12"/><circle cx="147.5" cy="1203.5" r="12"/><circle cx="180.5" cy="1134.5" r="12"/><circle cx="213.5" cy="1086.5" r="12"/><circle cx="246.5" cy="1071.5" r="12"/><circle cx="279.5" cy="1074.5" r="12"/><circle cx="312.5" cy="1107.5" r="12"/><circle cx="348.5" cy="1158.5" r="12"/><circle cx="381.5" cy="1227.5" r="12"/><circle cx="414.5" cy="1305.5" r="12"/><circle cx="447.5" cy="1377.5" r="12"/><circle cx="480.5" cy="1440.5" r="12"/><circle cx="513.5" cy="1479.5" r="12"/><circle cx="546.5" cy="1503.5" r="12"/><circle cx="579.5" cy="1491.5" r="12"/><circle cx="612.5" cy="1461.5" r="12"/><circle cx="645.5" cy="1413.5" r="12"/><circle cx="678.5" cy="1341.5" r="12"/></g><path d="M96.5 1614.5V1596.5M114.5 1614.5V1605.5M129.5 1614.5V1605.5M147.5 1614.5V1605.5M165.5 1614.5V1605.5M180.5 1614.5V1596.5M198.5 1614.5V1605.5M213.5 1614.5V1605.5M231.5 1614.5V1605.5M246.5 1614.5V1605.5M264.5 1614.5V1596.5M279.5 1614.5V1605.5M297.5 1614.5V1605.5M312.5 1614.5V1605.5M330.5 1614.5V1605.5M348.5 1614.5V1596.5M363.5 1614.5V1605.5M381.5 1614.5V1605.5M396.5 1614.5V1605.5M414.5 1614.5V1605.5M429.5 1614.5V1596.5M447.5 1614.5V1605.5M462.5 1614.5V1605.5M480.5 1614.5V1605.5M495.5 1614.5V1605.5M513.5 1614.5V1596.5M531.5 1614.5V1605.5M546.5 1614.5V1605.5M564.5 1614.5V1605.5M579.5 1614.5V1605.5M597.5 1614.5V1596.5M612.5 1614.5V1605.5M630.5 1614.5V1605.5M645.5 1614.5V1605.5M663.5 1614.5V1605.5M678.5 1614.5V1596.5M96.5 1614.5H114.5M96.5 1593.5H105.5M96.5 1572.5H105.5M96.5 1548.5H105.5M96.5 1527.5H105.5M96.5 1506.5H114.5M96.5 1482.5H105.5M96.5 1461.5H105.5M96.5 1440.5H105.5M96.5 1416.5H105.5M96.5 1395.5H114.5M96.5 1374.5H105.5M96.5 1350.5H105.5M96.5 1329.5H105.5M96.5 1308.5H105.5M96.5 1287.5H114.5M96.5 1263.5H105.5M96.5 1242.5H105.5M96.5 1221.5H105.5M96.5 1197.5H105.5M96.5 1176.5H114.5M96.5 1155.5H105.5M96.5 1131.5H105.5M96.5 1110.5H105.5M96.5 1089.5H105.5M96.5 1065.5H114.5M96.5 1044.5H105.5M96.5 1023.5H105.5M96.5 999.5H105.5M96.5 978.5H105.5M96.5 957.5H114.5" fill="none" stroke="#000" stroke-width="1.05"/><path d="M606.5 927.5H756.5V1125.5H606.5Z" fill="#fff" stroke="#000" stroke-width="1.05"/><path d="M606.5 960.5H756.5" fill="none" stroke="#000" stroke-width="1.05"/><text x="397" y="915" font-size="33.5" text-anchor="middle" textLength="128.7" lengthAdjust="spacingAndGlyphs">candlex4</text><text x="93.2" y="966" font-size="24" text-anchor="end">1.5</text><text x="96" y="1074" font-size="24" text-anchor="end">1</text><text x="93.2" y="1185" font-size="24" text-anchor="end">0.5</text><text x="91.6" y="1296" font-size="24" text-anchor="end">0</text><text x="93.2" y="1404" font-size="24" text-anchor="end">−0.5</text><text x="96" y="1515" font-size="24" text-anchor="end">−1</text><text x="93.2" y="1623" font-size="24" text-anchor="end">−1.5</text><text x="93.5" y="1640.7" font-size="24" text-anchor="middle">0</text><text x="178.9" y="1640.7" font-size="24" text-anchor="middle">50</text><text x="262.9" y="1640.7" font-size="24" text-anchor="middle">100</text><text x="346.9" y="1640.7" font-size="24" text-anchor="middle">150</text><text x="427.9" y="1640.7" font-size="24" text-anchor="middle">200</text><text x="511.9" y="1640.7" font-size="24" text-anchor="middle">250</text><text x="595.9" y="1640.7" font-size="24" text-anchor="middle">300</text><text x="676.9" y="1640.7" font-size="24" text-anchor="middle">350</text><text x="695.2" y="1670.7" font-size="24" text-anchor="end">Deg</text><text x="630.2" y="953.9" font-size="24.75">h1_copy</text><text x="612.2" y="983.9" font-size="14.05">Entries</text><text x="743" y="983.9" font-size="13.8" text-anchor="end">3600</text><text x="612.2" y="1017" font-size="14.05">Mean x</text><text x="743.7" y="1017" font-size="13.8" text-anchor="end">175</text><text x="612.2" y="1049.6" font-size="14.05">Mean y</text><text x="740.5" y="1049.6" font-size="13.8" text-anchor="end">0.001895</text><text x="612.2" y="1079.8" font-size="14.05">Std Dev x</text><text x="741.9" y="1079.8" font-size="13.8" text-anchor="end">103.9</text><text x="612.2" y="1112.7" font-size="14.05">Std Dev y</text><text x="742.7" y="1112.7" font-size="13.8" text-anchor="end">0.7269</text></g>
<g><path d="M894.5 957.5H1491.5V1614.5H894.5Z" fill="none" stroke="#000" stroke-width="1.05"/><path d="M897.5 1158.5l23.5 23.5m-24 1l24-24M897.5 1161.5l23.5 23.5m-24 1l24-24M897.5 1164.5l23.5 23.5m-24 1l24-24M897.5 1173.5l23.5 23.5m-24 1l24-24M897.5 1179.5l23.5 23.5m-24 1l24-24M897.5 1182.5l23.5 23.5m-24 1l24-24M897.5 1185.5l23.5 23.5m-24 1l24-24M897.5 1188.5l23.5 23.5m-24 1l24-24M897.5 1194.5l23.5 23.5m-24 1l24-24M897.5 1197.5l23.5 23.5m-24 1l24-24M897.5 1200.5l23.5 23.5m-24 1l24-24M897.5 1203.5l23.5 23.5m-24 1l24-24M897.5 1206.5l23.5 23.5m-24 1l24-24M897.5 1209.5l23.5 23.5m-24 1l24-24M897.5 1212.5l23.5 23.5m-24 1l24-24M897.5 1215.5l23.5 23.5m-24 1l24-24M897.5 1218.5l23.5 23.5m-24 1l24-24M897.5 1221.5l23.5 23.5m-24 1l24-24M897.5 1224.5l23.5 23.5m-24 1l24-24M897.5 1227.5l23.5 23.5m-24 1l24-24M897.5 1230.5l23.5 23.5m-24 1l24-24M897.5 1233.5l23.5 23.5m-24 1l24-24M897.5 1236.5l23.5 23.5m-24 1l24-24M897.5 1239.5l23.5 23.5m-24 1l24-24M897.5 1242.5l23.5 23.5m-24 1l24-24M897.5 1245.5l23.5 23.5m-24 1l24-24M897.5 1248.5l23.5 23.5m-24 1l24-24M897.5 1251.5l23.5 23.5m-24 1l24-24M897.5 1254.5l23.5 23.5m-24 1l24-24M897.5 1257.5l23.5 23.5m-24 1l24-24M897.5 1260.5l23.5 23.5m-24 1l24-24M897.5 1263.5l23.5 23.5m-24 1l24-24M897.5 1266.5l23.5 23.5m-24 1l24-24M897.5 1269.5l23.5 23.5m-24 1l24-24M897.5 1272.5l23.5 23.5m-24 1l24-24M897.5 1275.5l23.5 23.5m-24 1l24-24M897.5 1278.5l23.5 23.5m-24 1l24-24M897.5 1281.5l23.5 23.5m-24 1l24-24M897.5 1284.5l23.5 23.5m-24 1l24-24M897.5 1287.5l23.5 23.5m-24 1l24-24M897.5 1290.5l23.5 23.5m-24 1l24-24M897.5 1293.5l23.5 23.5m-24 1l24-24M897.5 1296.5l23.5 23.5m-24 1l24-24M897.5 1299.5l23.5 23.5m-24 1l24-24M897.5 1305.5l23.5 23.5m-24 1l24-24M897.5 1308.5l23.5 23.5m-24 1l24-24M897.5 1311.5l23.5 23.5m-24 1l24-24M897.5 1314.5l23.5 23.5m-24 1l24-24M897.5 1317.5l23.5 23.5m-24 1l24-24M897.5 1320.5l23.5 23.5m-24 1l24-24M897.5 1326.5l23.5 23.5m-24 1l24-24M897.5 1329.5l23.5 23.5m-24 1l24-24M897.5 1332.5l23.5 23.5m-24 1l24-24M897.5 1344.5l23.5 23.5m-24 1l24-24M897.5 1356.5l23.5 23.5m-24 1l24-24M897.5 1359.5l23.5 23.5m-24 1l24-24M897.5 1383.5l23.5 23.5m-24 1l24-24M897.5 1410.5l23.5 23.5m-24 1l24-24M930.5 1092.5l23.5 23.5m-24 1l24-24M930.5 1095.5l23.5 23.5m-24 1l24-24M930.5 1098.5l23.5 23.5m-24 1l24-24M930.5 1101.5l23.5 23.5m-24 1l24-24M930.5 1104.5l23.5 23.5m-24 1l24-24M930.5 1110.5l23.5 23.5m-24 1l24-24M930.5 1119.5l23.5 23.5m-24 1l24-24M930.5 1122.5l23.5 23.5m-24 1l24-24M930.5 1125.5l23.5 23.5m-24 1l24-24M930.5 1128.5l23.5 23.5m-24 1l24-24M930.5 1131.5l23.5 23.5m-24 1l24-24M930.5 1134.5l23.5 23.5m-24 1l24-24M930.5 1137.5l23.5 23.5m-24 1l24-24M930.5 1140.5l23.5 23.5m-24 1l24-24M930.5 1146.5l23.5 23.5m-24 1l24-24M930.5 1149.5l23.5 23.5m-24 1l24-24M930.5 1152.5l23.5 23.5m-24 1l24-24M930.5 1155.5l23.5 23.5m-24 1l24-24M930.5 1158.5l23.5 23.5m-24 1l24-24M930.5 1161.5l23.5 23.5m-24 1l24-24M930.5 1164.5l23.5 23.5m-24 1l24-24M930.5 1167.5l23.5 23.5m-24 1l24-24M930.5 1170.5l23.5 23.5m-24 1l24-24M930.5 1173.5l23.5 23.5m-24 1l24-24M930.5 1176.5l23.5 23.5m-24 1l24-24M930.5 1179.5l23.5 23.5m-24 1l24-24M930.5 1182.5l23.5 23.5m-24 1l24-24M930.5 1185.5l23.5 23.5m-24 1l24-24M930.5 1188.5l23.5 23.5m-24 1l24-24M930.5 1191.5l23.5 23.5m-24 1l24-24M930.5 1194.5l23.5 23.5m-24 1l24-24M930.5 1197.5l23.5 23.5m-24 1l24-24M930.5 1200.5l23.5 23.5m-24 1l24-24M930.5 1203.5l23.5 23.5m-24 1l24-24M930.5 1206.5l23.5 23.5m-24 1l24-24M930.5 1209.5l23.5 23.5m-24 1l24-24M930.5 1212.5l23.5 23.5m-24 1l24-24M930.5 1215.5l23.5 23.5m-24 1l24-24M930.5 1218.5l23.5 23.5m-24 1l24-24M930.5 1221.5l23.5 23.5m-24 1l24-24M930.5 1224.5l23.5 23.5m-24 1l24-24M930.5 1227.5l23.5 23.5m-24 1l24-24M930.5 1230.5l23.5 23.5m-24 1l24-24M930.5 1233.5l23.5 23.5m-24 1l24-24M930.5 1236.5l23.5 23.5m-24 1l24-24M930.5 1239.5l23.5 23.5m-24 1l24-24M930.5 1242.5l23.5 23.5m-24 1l24-24M930.5 1245.5l23.5 23.5m-24 1l24-24M930.5 1248.5l23.5 23.5m-24 1l24-24M930.5 1254.5l23.5 23.5m-24 1l24-24M930.5 1257.5l23.5 23.5m-24 1l24-24M930.5 1263.5l23.5 23.5m-24 1l24-24M930.5 1272.5l23.5 23.5m-24 1l24-24M930.5 1275.5l23.5 23.5m-24 1l24-24M930.5 1284.5l23.5 23.5m-24 1l24-24M930.5 1287.5l23.5 23.5m-24 1l24-24M930.5 1314.5l23.5 23.5m-24 1l24-24M930.5 1323.5l23.5 23.5m-24 1l24-24M963.5 990.5l23.5 23.5m-24 1l24-24M963.5 1011.5l23.5 23.5m-24 1l24-24M963.5 1017.5l23.5 23.5m-24 1l24-24M963.5 1023.5l23.5 23.5m-24 1l24-24M963.5 1026.5l23.5 23.5m-24 1l24-24M963.5 1041.5l23.5 23.5m-24 1l24-24M963.5 1047.5l23.5 23.5m-24 1l24-24M963.5 1050.5l23.5 23.5m-24 1l24-24M963.5 1053.5l23.5 23.5m-24 1l24-24M963.5 1056.5l23.5 23.5m-24 1l24-24M963.5 1059.5l23.5 23.5m-24 1l24-24M963.5 1062.5l23.5 23.5m-24 1l24-24M963.5 1065.5l23.5 23.5m-24 1l24-24M963.5 1068.5l23.5 23.5m-24 1l24-24M963.5 1071.5l23.5 23.5m-24 1l24-24M963.5 1074.5l23.5 23.5m-24 1l24-24M963.5 1077.5l23.5 23.5m-24 1l24-24M963.5 1080.5l23.5 23.5m-24 1l24-24M963.5 1083.5l23.5 23.5m-24 1l24-24M963.5 1086.5l23.5 23.5m-24 1l24-24M963.5 1089.5l23.5 23.5m-24 1l24-24M963.5 1092.5l23.5 23.5m-24 1l24-24M963.5 1095.5l23.5 23.5m-24 1l24-24M963.5 1098.5l23.5 23.5m-24 1l24-24M963.5 1101.5l23.5 23.5m-24 1l24-24M963.5 1104.5l23.5 23.5m-24 1l24-24M963.5 1107.5l23.5 23.5m-24 1l24-24M963.5 1110.5l23.5 23.5m-24 1l24-24M963.5 1113.5l23.5 23.5m-24 1l24-24M963.5 1116.5l23.5 23.5m-24 1l24-24M963.5 1119.5l23.5 23.5m-24 1l24-24M963.5 1122.5l23.5 23.5m-24 1l24-24M963.5 1125.5l23.5 23.5m-24 1l24-24M963.5 1128.5l23.5 23.5m-24 1l24-24M963.5 1131.5l23.5 23.5m-24 1l24-24M963.5 1134.5l23.5 23.5m-24 1l24-24M963.5 1137.5l23.5 23.5m-24 1l24-24M963.5 1140.5l23.5 23.5m-24 1l24-24M963.5 1143.5l23.5 23.5m-24 1l24-24M963.5 1146.5l23.5 23.5m-24 1l24-24M963.5 1149.5l23.5 23.5m-24 1l24-24M963.5 1152.5l23.5 23.5m-24 1l24-24M963.5 1155.5l23.5 23.5m-24 1l24-24M963.5 1158.5l23.5 23.5m-24 1l24-24M963.5 1161.5l23.5 23.5m-24 1l24-24M963.5 1164.5l23.5 23.5m-24 1l24-24M963.5 1167.5l23.5 23.5m-24 1l24-24M963.5 1170.5l23.5 23.5m-24 1l24-24M963.5 1173.5l23.5 23.5m-24 1l24-24M963.5 1176.5l23.5 23.5m-24 1l24-24M963.5 1179.5l23.5 23.5m-24 1l24-24M963.5 1182.5l23.5 23.5m-24 1l24-24M963.5 1185.5l23.5 23.5m-24 1l24-24M963.5 1188.5l23.5 23.5m-24 1l24-24M963.5 1191.5l23.5 23.5m-24 1l24-24M963.5 1194.5l23.5 23.5m-24 1l24-24M963.5 1200.5l23.5 23.5m-24 1l24-24M963.5 1203.5l23.5 23.5m-24 1l24-24M963.5 1212.5l23.5 23.5m-24 1l24-24M963.5 1218.5l23.5 23.5m-24 1l24-24M963.5 1224.5l23.5 23.5m-24 1l24-24M963.5 1227.5l23.5 23.5m-24 1l24-24M999.5 966.5l23.5 23.5m-24 1l24-24M999.5 969.5l23.5 23.5m-24 1l24-24M999.5 972.5l23.5 23.5m-24 1l24-24M999.5 981.5l23.5 23.5m-24 1l24-24M999.5 987.5l23.5 23.5m-24 1l24-24M999.5 990.5l23.5 23.5m-24 1l24-24M999.5 996.5l23.5 23.5m-24 1l24-24M999.5 1002.5l23.5 23.5m-24 1l24-24M999.5 1005.5l23.5 23.5m-24 1l24-24M999.5 1008.5l23.5 23.5m-24 1l24-24M999.5 1011.5l23.5 23.5m-24 1l24-24M999.5 1014.5l23.5 23.5m-24 1l24-24M999.5 1020.5l23.5 23.5m-24 1l24-24M999.5 1023.5l23.5 23.5m-24 1l24-24M999.5 1026.5l23.5 23.5m-24 1l24-24M999.5 1029.5l23.5 23.5m-24 1l24-24M999.5 1032.5l23.5 23.5m-24 1l24-24M999.5 1035.5l23.5 23.5m-24 1l24-24M999.5 1038.5l23.5 23.5m-24 1l24-24M999.5 1041.5l23.5 23.5m-24 1l24-24M999.5 1044.5l23.5 23.5m-24 1l24-24M999.5 1047.5l23.5 23.5m-24 1l24-24M999.5 1050.5l23.5 23.5m-24 1l24-24M999.5 1053.5l23.5 23.5m-24 1l24-24M999.5 1056.5l23.5 23.5m-24 1l24-24M999.5 1059.5l23.5 23.5m-24 1l24-24M999.5 1062.5l23.5 23.5m-24 1l24-24M999.5 1065.5l23.5 23.5m-24 1l24-24M999.5 1068.5l23.5 23.5m-24 1l24-24M999.5 1071.5l23.5 23.5m-24 1l24-24M999.5 1074.5l23.5 23.5m-24 1l24-24M999.5 1077.5l23.5 23.5m-24 1l24-24M999.5 1080.5l23.5 23.5m-24 1l24-24M999.5 1083.5l23.5 23.5m-24 1l24-24M999.5 1086.5l23.5 23.5m-24 1l24-24M999.5 1089.5l23.5 23.5m-24 1l24-24M999.5 1092.5l23.5 23.5m-24 1l24-24M999.5 1095.5l23.5 23.5m-24 1l24-24M999.5 1098.5l23.5 23.5m-24 1l24-24M999.5 1101.5l23.5 23.5m-24 1l24-24M999.5 1104.5l23.5 23.5m-24 1l24-24M999.5 1107.5l23.5 23.5m-24 1l24-24M999.5 1110.5l23.5 23.5m-24 1l24-24M999.5 1113.5l23.5 23.5m-24 1l24-24M999.5 1116.5l23.5 23.5m-24 1l24-24M999.5 1119.5l23.5 23.5m-24 1l24-24M999.5 1122.5l23.5 23.5m-24 1l24-24M999.5 1125.5l23.5 23.5m-24 1l24-24M999.5 1128.5l23.5 23.5m-24 1l24-24M999.5 1131.5l23.5 23.5m-24 1l24-24M999.5 1134.5l23.5 23.5m-24 1l24-24M999.5 1137.5l23.5 23.5m-24 1l24-24M999.5 1143.5l23.5 23.5m-24 1l24-24M999.5 1146.5l23.5 23.5m-24 1l24-24M999.5 1149.5l23.5 23.5m-24 1l24-24M999.5 1152.5l23.5 23.5m-24 1l24-24M999.5 1155.5l23.5 23.5m-24 1l24-24M999.5 1161.5l23.5 23.5m-24 1l24-24M1032.5 951.5l23.5 23.5m-24 1l24-24M1032.5 963.5l23.5 23.5m-24 1l24-24M1032.5 966.5l23.5 23.5m-24 1l24-24M1032.5 969.5l23.5 23.5m-24 1l24-24M1032.5 975.5l23.5 23.5m-24 1l24-24M1032.5 981.5l23.5 23.5m-24 1l24-24M1032.5 984.5l23.5 23.5m-24 1l24-24M1032.5 990.5l23.5 23.5m-24 1l24-24M1032.5 996.5l23.5 23.5m-24 1l24-24M1032.5 999.5l23.5 23.5m-24 1l24-24M1032.5 1002.5l23.5 23.5m-24 1l24-24M1032.5 1005.5l23.5 23.5m-24 1l24-24M1032.5 1008.5l23.5 23.5m-24 1l24-24M1032.5 1011.5l23.5 23.5m-24 1l24-24M1032.5 1014.5l23.5 23.5m-24 1l24-24M1032.5 1017.5l23.5 23.5m-24 1l24-24M1032.5 1020.5l23.5 23.5m-24 1l24-24M1032.5 1023.5l23.5 23.5m-24 1l24-24M1032.5 1026.5l23.5 23.5m-24 1l24-24M1032.5 1029.5l23.5 23.5m-24 1l24-24M1032.5 1032.5l23.5 23.5m-24 1l24-24M1032.5 1035.5l23.5 23.5m-24 1l24-24M1032.5 1038.5l23.5 23.5m-24 1l24-24M1032.5 1041.5l23.5 23.5m-24 1l24-24M1032.5 1044.5l23.5 23.5m-24 1l24-24M1032.5 1047.5l23.5 23.5m-24 1l24-24M1032.5 1050.5l23.5 23.5m-24 1l24-24M1032.5 1053.5l23.5 23.5m-24 1l24-24M1032.5 1056.5l23.5 23.5m-24 1l24-24M1032.5 1059.5l23.5 23.5m-24 1l24-24M1032.5 1062.5l23.5 23.5m-24 1l24-24M1032.5 1065.5l23.5 23.5m-24 1l24-24M1032.5 1068.5l23.5 23.5m-24 1l24-24M1032.5 1071.5l23.5 23.5m-24 1l24-24M1032.5 1074.5l23.5 23.5m-24 1l24-24M1032.5 1077.5l23.5 23.5m-24 1l24-24M1032.5 1080.5l23.5 23.5m-24 1l24-24M1032.5 1083.5l23.5 23.5m-24 1l24-24M1032.5 1086.5l23.5 23.5m-24 1l24-24M1032.5 1089.5l23.5 23.5m-24 1l24-24M1032.5 1092.5l23.5 23.5m-24 1l24-24M1032.5 1098.5l23.5 23.5m-24 1l24-24M1032.5 1101.5l23.5 23.5m-24 1l24-24M1032.5 1104.5l23.5 23.5m-24 1l24-24M1032.5 1107.5l23.5 23.5m-24 1l24-24M1032.5 1110.5l23.5 23.5m-24 1l24-24M1032.5 1113.5l23.5 23.5m-24 1l24-24M1032.5 1116.5l23.5 23.5m-24 1l24-24M1032.5 1119.5l23.5 23.5m-24 1l24-24M1032.5 1122.5l23.5 23.5m-24 1l24-24M1032.5 1125.5l23.5 23.5m-24 1l24-24M1032.5 1128.5l23.5 23.5m-24 1l24-24M1032.5 1131.5l23.5 23.5m-24 1l24-24M1032.5 1134.5l23.5 23.5m-24 1l24-24M1032.5 1137.5l23.5 23.5m-24 1l24-24M1032.5 1140.5l23.5 23.5m-24 1l24-24M1032.5 1143.5l23.5 23.5m-24 1l24-24M1032.5 1146.5l23.5 23.5m-24 1l24-24M1032.5 1149.5l23.5 23.5m-24 1l24-24M1032.5 1152.5l23.5 23.5m-24 1l24-24M1032.5 1158.5l23.5 23.5m-24 1l24-24M1032.5 1167.5l23.5 23.5m-24 1l24-24M1032.5 1170.5l23.5 23.5m-24 1l24-24M1065.5 948.5l23.5 23.5m-24 1l24-24M1065.5 975.5l23.5 23.5m-24 1l24-24M1065.5 981.5l23.5 23.5m-24 1l24-24M1065.5 984.5l23.5 23.5m-24 1l24-24M1065.5 987.5l23.5 23.5m-24 1l24-24M1065.5 993.5l23.5 23.5m-24 1l24-24M1065.5 996.5l23.5 23.5m-24 1l24-24M1065.5 1002.5l23.5 23.5m-24 1l24-24M1065.5 1005.5l23.5 23.5m-24 1l24-24M1065.5 1008.5l23.5 23.5m-24 1l24-24M1065.5 1011.5l23.5 23.5m-24 1l24-24M1065.5 1014.5l23.5 23.5m-24 1l24-24M1065.5 1017.5l23.5 23.5m-24 1l24-24M1065.5 1020.5l23.5 23.5m-24 1l24-24M1065.5 1023.5l23.5 23.5m-24 1l24-24M1065.5 1026.5l23.5 23.5m-24 1l24-24M1065.5 1029.5l23.5 23.5m-24 1l24-24M1065.5 1032.5l23.5 23.5m-24 1l24-24M1065.5 1038.5l23.5 23.5m-24 1l24-24M1065.5 1041.5l23.5 23.5m-24 1l24-24M1065.5 1044.5l23.5 23.5m-24 1l24-24M1065.5 1047.5l23.5 23.5m-24 1l24-24M1065.5 1050.5l23.5 23.5m-24 1l24-24M1065.5 1053.5l23.5 23.5m-24 1l24-24M1065.5 1056.5l23.5 23.5m-24 1l24-24M1065.5 1059.5l23.5 23.5m-24 1l24-24M1065.5 1062.5l23.5 23.5m-24 1l24-24M1065.5 1065.5l23.5 23.5m-24 1l24-24M1065.5 1068.5l23.5 23.5m-24 1l24-24M1065.5 1071.5l23.5 23.5m-24 1l24-24M1065.5 1074.5l23.5 23.5m-24 1l24-24M1065.5 1077.5l23.5 23.5m-24 1l24-24M1065.5 1080.5l23.5 23.5m-24 1l24-24M1065.5 1083.5l23.5 23.5m-24 1l24-24M1065.5 1086.5l23.5 23.5m-24 1l24-24M1065.5 1089.5l23.5 23.5m-24 1l24-24M1065.5 1092.5l23.5 23.5m-24 1l24-24M1065.5 1095.5l23.5 23.5m-24 1l24-24M1065.5 1101.5l23.5 23.5m-24 1l24-24M1065.5 1104.5l23.5 23.5m-24 1l24-24M1065.5 1107.5l23.5 23.5m-24 1l24-24M1065.5 1110.5l23.5 23.5m-24 1l24-24M1065.5 1113.5l23.5 23.5m-24 1l24-24M1065.5 1116.5l23.5 23.5m-24 1l24-24M1065.5 1119.5l23.5 23.5m-24 1l24-24M1065.5 1122.5l23.5 23.5m-24 1l24-24M1065.5 1125.5l23.5 23.5m-24 1l24-24M1065.5 1128.5l23.5 23.5m-24 1l24-24M1065.5 1131.5l23.5 23.5m-24 1l24-24M1065.5 1134.5l23.5 23.5m-24 1l24-24M1065.5 1137.5l23.5 23.5m-24 1l24-24M1065.5 1143.5l23.5 23.5m-24 1l24-24M1065.5 1146.5l23.5 23.5m-24 1l24-24M1065.5 1149.5l23.5 23.5m-24 1l24-24M1065.5 1152.5l23.5 23.5m-24 1l24-24M1065.5 1155.5l23.5 23.5m-24 1l24-24M1065.5 1161.5l23.5 23.5m-24 1l24-24M1065.5 1167.5l23.5 23.5m-24 1l24-24M1098.5 999.5l23.5 23.5m-24 1l24-24M1098.5 1002.5l23.5 23.5m-24 1l24-24M1098.5 1005.5l23.5 23.5m-24 1l24-24M1098.5 1011.5l23.5 23.5m-24 1l24-24M1098.5 1014.5l23.5 23.5m-24 1l24-24M1098.5 1023.5l23.5 23.5m-24 1l24-24M1098.5 1026.5l23.5 23.5m-24 1l24-24M1098.5 1029.5l23.5 23.5m-24 1l24-24M1098.5 1032.5l23.5 23.5m-24 1l24-24M1098.5 1035.5l23.5 23.5m-24 1l24-24M1098.5 1041.5l23.5 23.5m-24 1l24-24M1098.5 1044.5l23.5 23.5m-24 1l24-24M1098.5 1047.5l23.5 23.5m-24 1l24-24M1098.5 1050.5l23.5 23.5m-24 1l24-24M1098.5 1053.5l23.5 23.5m-24 1l24-24M1098.5 1056.5l23.5 23.5m-24 1l24-24M1098.5 1059.5l23.5 23.5m-24 1l24-24M1098.5 1062.5l23.5 23.5m-24 1l24-24M1098.5 1065.5l23.5 23.5m-24 1l24-24M1098.5 1068.5l23.5 23.5m-24 1l24-24M1098.5 1071.5l23.5 23.5m-24 1l24-24M1098.5 1074.5l23.5 23.5m-24 1l24-24M1098.5 1077.5l23.5 23.5m-24 1l24-24M1098.5 1080.5l23.5 23.5m-24 1l24-24M1098.5 1083.5l23.5 23.5m-24 1l24-24M1098.5 1086.5l23.5 23.5m-24 1l24-24M1098.5 1089.5l23.5 23.5m-24 1l24-24M1098.5 1092.5l23.5 23.5m-24 1l24-24M1098.5 1095.5l23.5 23.5m-24 1l24-24M1098.5 1098.5l23.5 23.5m-24 1l24-24M1098.5 1101.5l23.5 23.5m-24 1l24-24M1098.5 1104.5l23.5 23.5m-24 1l24-24M1098.5 1107.5l23.5 23.5m-24 1l24-24M1098.5 1110.5l23.5 23.5m-24 1l24-24M1098.5 1113.5l23.5 23.5m-24 1l24-24M1098.5 1116.5l23.5 23.5m-24 1l24-24M1098.5 1119.5l23.5 23.5m-24 1l24-24M1098.5 1122.5l23.5 23.5m-24 1l24-24M1098.5 1125.5l23.5 23.5m-24 1l24-24M1098.5 1128.5l23.5 23.5m-24 1l24-24M1098.5 1131.5l23.5 23.5m-24 1l24-24M1098.5 1134.5l23.5 23.5m-24 1l24-24M1098.5 1137.5l23.5 23.5m-24 1l24-24M1098.5 1140.5l23.5 23.5m-24 1l24-24M1098.5 1143.5l23.5 23.5m-24 1l24-24M1098.5 1146.5l23.5 23.5m-24 1l24-24M1098.5 1149.5l23.5 23.5m-24 1l24-24M1098.5 1152.5l23.5 23.5m-24 1l24-24M1098.5 1155.5l23.5 23.5m-24 1l24-24M1098.5 1158.5l23.5 23.5m-24 1l24-24M1098.5 1161.5l23.5 23.5m-24 1l24-24M1098.5 1164.5l23.5 23.5m-24 1l24-24M1098.5 1173.5l23.5 23.5m-24 1l24-24M1098.5 1176.5l23.5 23.5m-24 1l24-24M1098.5 1179.5l23.5 23.5m-24 1l24-24M1098.5 1182.5l23.5 23.5m-24 1l24-24M1098.5 1185.5l23.5 23.5m-24 1l24-24M1098.5 1209.5l23.5 23.5m-24 1l24-24M1098.5 1218.5l23.5 23.5m-24 1l24-24M1098.5 1221.5l23.5 23.5m-24 1l24-24M1098.5 1236.5l23.5 23.5m-24 1l24-24M1131.5 1047.5l23.5 23.5m-24 1l24-24M1131.5 1050.5l23.5 23.5m-24 1l24-24M1131.5 1056.5l23.5 23.5m-24 1l24-24M1131.5 1059.5l23.5 23.5m-24 1l24-24M1131.5 1062.5l23.5 23.5m-24 1l24-24M1131.5 1065.5l23.5 23.5m-24 1l24-24M1131.5 1068.5l23.5 23.5m-24 1l24-24M1131.5 1074.5l23.5 23.5m-24 1l24-24M1131.5 1077.5l23.5 23.5m-24 1l24-24M1131.5 1080.5l23.5 23.5m-24 1l24-24M1131.5 1086.5l23.5 23.5m-24 1l24-24M1131.5 1089.5l23.5 23.5m-24 1l24-24M1131.5 1092.5l23.5 23.5m-24 1l24-24M1131.5 1095.5l23.5 23.5m-24 1l24-24M1131.5 1098.5l23.5 23.5m-24 1l24-24M1131.5 1101.5l23.5 23.5m-24 1l24-24M1131.5 1104.5l23.5 23.5m-24 1l24-24M1131.5 1107.5l23.5 23.5m-24 1l24-24M1131.5 1110.5l23.5 23.5m-24 1l24-24M1131.5 1113.5l23.5 23.5m-24 1l24-24M1131.5 1116.5l23.5 23.5m-24 1l24-24M1131.5 1119.5l23.5 23.5m-24 1l24-24M1131.5 1122.5l23.5 23.5m-24 1l24-24M1131.5 1125.5l23.5 23.5m-24 1l24-24M1131.5 1128.5l23.5 23.5m-24 1l24-24M1131.5 1131.5l23.5 23.5m-24 1l24-24M1131.5 1134.5l23.5 23.5m-24 1l24-24M1131.5 1137.5l23.5 23.5m-24 1l24-24M1131.5 1140.5l23.5 23.5m-24 1l24-24M1131.5 1143.5l23.5 23.5m-24 1l24-24M1131.5 1146.5l23.5 23.5m-24 1l24-24M1131.5 1149.5l23.5 23.5m-24 1l24-24M1131.5 1152.5l23.5 23.5m-24 1l24-24M1131.5 1155.5l23.5 23.5m-24 1l24-24M1131.5 1158.5l23.5 23.5m-24 1l24-24M1131.5 1161.5l23.5 23.5m-24 1l24-24M1131.5 1164.5l23.5 23.5m-24 1l24-24M1131.5 1167.5l23.5 23.5m-24 1l24-24M1131.5 1170.5l23.5 23.5m-24 1l24-24M1131.5 1173.5l23.5 23.5m-24 1l24-24M1131.5 1176.5l23.5 23.5m-24 1l24-24M1131.5 1179.5l23.5 23.5m-24 1l24-24M1131.5 1182.5l23.5 23.5m-24 1l24-24M1131.5 1185.5l23.5 23.5m-24 1l24-24M1131.5 1188.5l23.5 23.5m-24 1l24-24M1131.5 1191.5l23.5 23.5m-24 1l24-24M1131.5 1194.5l23.5 23.5m-24 1l24-24M1131.5 1197.5l23.5 23.5m-24 1l24-24M1131.5 1200.5l23.5 23.5m-24 1l24-24M1131.5 1203.5l23.5 23.5m-24 1l24-24M1131.5 1206.5l23.5 23.5m-24 1l24-24M1131.5 1209.5l23.5 23.5m-24 1l24-24M1131.5 1212.5l23.5 23.5m-24 1l24-24M1131.5 1215.5l23.5 23.5m-24 1l24-24M1131.5 1218.5l23.5 23.5m-24 1l24-24M1131.5 1221.5l23.5 23.5m-24 1l24-24M1131.5 1224.5l23.5 23.5m-24 1l24-24M1131.5 1227.5l23.5 23.5m-24 1l24-24M1131.5 1230.5l23.5 23.5m-24 1l24-24M1131.5 1233.5l23.5 23.5m-24 1l24-24M1131.5 1236.5l23.5 23.5m-24 1l24-24M1131.5 1245.5l23.5 23.5m-24 1l24-24M1131.5 1248.5l23.5 23.5m-24 1l24-24M1131.5 1260.5l23.5 23.5m-24 1l24-24M1131.5 1290.5l23.5 23.5m-24 1l24-24M1164.5 1059.5l23.5 23.5m-24 1l24-24M1164.5 1104.5l23.5 23.5m-24 1l24-24M1164.5 1122.5l23.5 23.5m-24 1l24-24M1164.5 1125.5l23.5 23.5m-24 1l24-24M1164.5 1128.5l23.5 23.5m-24 1l24-24M1164.5 1131.5l23.5 23.5m-24 1l24-24M1164.5 1134.5l23.5 23.5m-24 1l24-24M1164.5 1137.5l23.5 23.5m-24 1l24-24M1164.5 1140.5l23.5 23.5m-24 1l24-24M1164.5 1143.5l23.5 23.5m-24 1l24-24M1164.5 1146.5l23.5 23.5m-24 1l24-24M1164.5 1149.5l23.5 23.5m-24 1l24-24M1164.5 1152.5l23.5 23.5m-24 1l24-24M1164.5 1155.5l23.5 23.5m-24 1l24-24M1164.5 1158.5l23.5 23.5m-24 1l24-24M1164.5 1161.5l23.5 23.5m-24 1l24-24M1164.5 1164.5l23.5 23.5m-24 1l24-24M1164.5 1167.5l23.5 23.5m-24 1l24-24M1164.5 1170.5l23.5 23.5m-24 1l24-24M1164.5 1173.5l23.5 23.5m-24 1l24-24M1164.5 1176.5l23.5 23.5m-24 1l24-24M1164.5 1179.5l23.5 23.5m-24 1l24-24M1164.5 1182.5l23.5 23.5m-24 1l24-24M1164.5 1185.5l23.5 23.5m-24 1l24-24M1164.5 1188.5l23.5 23.5m-24 1l24-24M1164.5 1191.5l23.5 23.5m-24 1l24-24M1164.5 1194.5l23.5 23.5m-24 1l24-24M1164.5 1197.5l23.5 23.5m-24 1l24-24M1164.5 1200.5l23.5 23.5m-24 1l24-24M1164.5 1203.5l23.5 23.5m-24 1l24-24M1164.5 1206.5l23.5 23.5m-24 1l24-24M1164.5 1209.5l23.5 23.5m-24 1l24-24M1164.5 1215.5l23.5 23.5m-24 1l24-24M1164.5 1218.5l23.5 23.5m-24 1l24-24M1164.5 1221.5l23.5 23.5m-24 1l24-24M1164.5 1224.5l23.5 23.5m-24 1l24-24M1164.5 1227.5l23.5 23.5m-24 1l24-24M1164.5 1230.5l23.5 23.5m-24 1l24-24M1164.5 1233.5l23.5 23.5m-24 1l24-24M1164.5 1236.5l23.5 23.5m-24 1l24-24M1164.5 1239.5l23.5 23.5m-24 1l24-24M1164.5 1242.5l23.5 23.5m-24 1l24-24M1164.5 1245.5l23.5 23.5m-24 1l24-24M1164.5 1248.5l23.5 23.5m-24 1l24-24M1164.5 1251.5l23.5 23.5m-24 1l24-24M1164.5 1257.5l23.5 23.5m-24 1l24-24M1164.5 1260.5l23.5 23.5m-24 1l24-24M1164.5 1263.5l23.5 23.5m-24 1l24-24M1164.5 1266.5l23.5 23.5m-24 1l24-24M1164.5 1269.5l23.5 23.5m-24 1l24-24M1164.5 1272.5l23.5 23.5m-24 1l24-24M1164.5 1281.5l23.5 23.5m-24 1l24-24M1164.5 1284.5l23.5 23.5m-24 1l24-24M1164.5 1293.5l23.5 23.5m-24 1l24-24M1164.5 1299.5l23.5 23.5m-24 1l24-24M1164.5 1302.5l23.5 23.5m-24 1l24-24M1164.5 1305.5l23.5 23.5m-24 1l24-24M1164.5 1311.5l23.5 23.5m-24 1l24-24M1164.5 1314.5l23.5 23.5m-24 1l24-24M1164.5 1323.5l23.5 23.5m-24 1l24-24M1197.5 1164.5l23.5 23.5m-24 1l24-24M1197.5 1176.5l23.5 23.5m-24 1l24-24M1197.5 1194.5l23.5 23.5m-24 1l24-24M1197.5 1206.5l23.5 23.5m-24 1l24-24M1197.5 1209.5l23.5 23.5m-24 1l24-24M1197.5 1215.5l23.5 23.5m-24 1l24-24M1197.5 1221.5l23.5 23.5m-24 1l24-24M1197.5 1224.5l23.5 23.5m-24 1l24-24M1197.5 1227.5l23.5 23.5m-24 1l24-24M1197.5 1230.5l23.5 23.5m-24 1l24-24M1197.5 1236.5l23.5 23.5m-24 1l24-24M1197.5 1239.5l23.5 23.5m-24 1l24-24M1197.5 1242.5l23.5 23.5m-24 1l24-24M1197.5 1245.5l23.5 23.5m-24 1l24-24M1197.5 1248.5l23.5 23.5m-24 1l24-24M1197.5 1251.5l23.5 23.5m-24 1l24-24M1197.5 1254.5l23.5 23.5m-24 1l24-24M1197.5 1257.5l23.5 23.5m-24 1l24-24M1197.5 1260.5l23.5 23.5m-24 1l24-24M1197.5 1263.5l23.5 23.5m-24 1l24-24M1197.5 1266.5l23.5 23.5m-24 1l24-24M1197.5 1269.5l23.5 23.5m-24 1l24-24M1197.5 1272.5l23.5 23.5m-24 1l24-24M1197.5 1275.5l23.5 23.5m-24 1l24-24M1197.5 1278.5l23.5 23.5m-24 1l24-24M1197.5 1281.5l23.5 23.5m-24 1l24-24M1197.5 1284.5l23.5 23.5m-24 1l24-24M1197.5 1287.5l23.5 23.5m-24 1l24-24M1197.5 1290.5l23.5 23.5m-24 1l24-24M1197.5 1293.5l23.5 23.5m-24 1l24-24M1197.5 1296.5l23.5 23.5m-24 1l24-24M1197.5 1299.5l23.5 23.5m-24 1l24-24M1197.5 1302.5l23.5 23.5m-24 1l24-24M1197.5 1305.5l23.5 23.5m-24 1l24-24M1197.5 1308.5l23.5 23.5m-24 1l24-24M1197.5 1311.5l23.5 23.5m-24 1l24-24M1197.5 1317.5l23.5 23.5m-24 1l24-24M1197.5 1320.5l23.5 23.5m-24 1l24-24M1197.5 1323.5l23.5 23.5m-24 1l24-24M1197.5 1326.5l23.5 23.5m-24 1l24-24M1197.5 1329.5l23.5 23.5m-24 1l24-24M1197.5 1332.5l23.5 23.5m-24 1l24-24M1197.5 1335.5l23.5 23.5m-24 1l24-24M1197.5 1338.5l23.5 23.5m-24 1l24-24M1197.5 1341.5l23.5 23.5m-24 1l24-24M1197.5 1344.5l23.5 23.5m-24 1l24-24M1197.5 1347.5l23.5 23.5m-24 1l24-24M1197.5 1350.5l23.5 23.5m-24 1l24-24M1197.5 1353.5l23.5 23.5m-24 1l24-24M1197.5 1356.5l23.5 23.5m-24 1l24-24M1197.5 1359.5l23.5 23.5m-24 1l24-24M1197.5 1362.5l23.5 23.5m-24 1l24-24M1197.5 1365.5l23.5 23.5m-24 1l24-24M1197.5 1368.5l23.5 23.5m-24 1l24-24M1197.5 1371.5l23.5 23.5m-24 1l24-24M1197.5 1374.5l23.5 23.5m-24 1l24-24M1197.5 1377.5l23.5 23.5m-24 1l24-24M1197.5 1380.5l23.5 23.5m-24 1l24-24M1197.5 1383.5l23.5 23.5m-24 1l24-24M1197.5 1389.5l23.5 23.5m-24 1l24-24M1197.5 1392.5l23.5 23.5m-24 1l24-24M1197.5 1404.5l23.5 23.5m-24 1l24-24M1197.5 1407.5l23.5 23.5m-24 1l24-24M1197.5 1425.5l23.5 23.5m-24 1l24-24M1230.5 1248.5l23.5 23.5m-24 1l24-24M1230.5 1257.5l23.5 23.5m-24 1l24-24M1230.5 1269.5l23.5 23.5m-24 1l24-24M1230.5 1278.5l23.5 23.5m-24 1l24-24M1230.5 1281.5l23.5 23.5m-24 1l24-24M1230.5 1284.5l23.5 23.5m-24 1l24-24M1230.5 1287.5l23.5 23.5m-24 1l24-24M1230.5 1290.5l23.5 23.5m-24 1l24-24M1230.5 1296.5l23.5 23.5m-24 1l24-24M1230.5 1299.5l23.5 23.5m-24 1l24-24M1230.5 1302.5l23.5 23.5m-24 1l24-24M1230.5 1305.5l23.5 23.5m-24 1l24-24M1230.5 1308.5l23.5 23.5m-24 1l24-24M1230.5 1311.5l23.5 23.5m-24 1l24-24M1230.5 1314.5l23.5 23.5m-24 1l24-24M1230.5 1317.5l23.5 23.5m-24 1l24-24M1230.5 1320.5l23.5 23.5m-24 1l24-24M1230.5 1323.5l23.5 23.5m-24 1l24-24M1230.5 1326.5l23.5 23.5m-24 1l24-24M1230.5 1329.5l23.5 23.5m-24 1l24-24M1230.5 1332.5l23.5 23.5m-24 1l24-24M1230.5 1335.5l23.5 23.5m-24 1l24-24M1230.5 1338.5l23.5 23.5m-24 1l24-24M1230.5 1341.5l23.5 23.5m-24 1l24-24M1230.5 1344.5l23.5 23.5m-24 1l24-24M1230.5 1347.5l23.5 23.5m-24 1l24-24M1230.5 1350.5l23.5 23.5m-24 1l24-24M1230.5 1353.5l23.5 23.5m-24 1l24-24M1230.5 1356.5l23.5 23.5m-24 1l24-24M1230.5 1359.5l23.5 23.5m-24 1l24-24M1230.5 1362.5l23.5 23.5m-24 1l24-24M1230.5 1365.5l23.5 23.5m-24 1l24-24M1230.5 1368.5l23.5 23.5m-24 1l24-24M1230.5 1371.5l23.5 23.5m-24 1l24-24M1230.5 1374.5l23.5 23.5m-24 1l24-24M1230.5 1377.5l23.5 23.5m-24 1l24-24M1230.5 1380.5l23.5 23.5m-24 1l24-24M1230.5 1383.5l23.5 23.5m-24 1l24-24M1230.5 1386.5l23.5 23.5m-24 1l24-24M1230.5 1389.5l23.5 23.5m-24 1l24-24M1230.5 1392.5l23.5 23.5m-24 1l24-24M1230.5 1395.5l23.5 23.5m-24 1l24-24M1230.5 1398.5l23.5 23.5m-24 1l24-24M1230.5 1401.5l23.5 23.5m-24 1l24-24M1230.5 1404.5l23.5 23.5m-24 1l24-24M1230.5 1407.5l23.5 23.5m-24 1l24-24M1230.5 1410.5l23.5 23.5m-24 1l24-24M1230.5 1413.5l23.5 23.5m-24 1l24-24M1230.5 1416.5l23.5 23.5m-24 1l24-24M1230.5 1419.5l23.5 23.5m-24 1l24-24M1230.5 1422.5l23.5 23.5m-24 1l24-24M1230.5 1425.5l23.5 23.5m-24 1l24-24M1230.5 1428.5l23.5 23.5m-24 1l24-24M1230.5 1431.5l23.5 23.5m-24 1l24-24M1230.5 1434.5l23.5 23.5m-24 1l24-24M1230.5 1437.5l23.5 23.5m-24 1l24-24M1230.5 1440.5l23.5 23.5m-24 1l24-24M1230.5 1443.5l23.5 23.5m-24 1l24-24M1230.5 1449.5l23.5 23.5m-24 1l24-24M1230.5 1458.5l23.5 23.5m-24 1l24-24M1230.5 1467.5l23.5 23.5m-24 1l24-24M1230.5 1473.5l23.5 23.5m-24 1l24-24M1263.5 1317.5l23.5 23.5m-24 1l24-24M1263.5 1323.5l23.5 23.5m-24 1l24-24M1263.5 1329.5l23.5 23.5m-24 1l24-24M1263.5 1332.5l23.5 23.5m-24 1l24-24M1263.5 1335.5l23.5 23.5m-24 1l24-24M1263.5 1341.5l23.5 23.5m-24 1l24-24M1263.5 1344.5l23.5 23.5m-24 1l24-24M1263.5 1350.5l23.5 23.5m-24 1l24-24M1263.5 1356.5l23.5 23.5m-24 1l24-24M1263.5 1362.5l23.5 23.5m-24 1l24-24M1263.5 1365.5l23.5 23.5m-24 1l24-24M1263.5 1368.5l23.5 23.5m-24 1l24-24M1263.5 1371.5l23.5 23.5m-24 1l24-24M1263.5 1374.5l23.5 23.5m-24 1l24-24M1263.5 1377.5l23.5 23.5m-24 1l24-24M1263.5 1380.5l23.5 23.5m-24 1l24-24M1263.5 1383.5l23.5 23.5m-24 1l24-24M1263.5 1386.5l23.5 23.5m-24 1l24-24M1263.5 1389.5l23.5 23.5m-24 1l24-24M1263.5 1392.5l23.5 23.5m-24 1l24-24M1263.5 1395.5l23.5 23.5m-24 1l24-24M1263.5 1398.5l23.5 23.5m-24 1l24-24M1263.5 1404.5l23.5 23.5m-24 1l24-24M1263.5 1407.5l23.5 23.5m-24 1l24-24M1263.5 1410.5l23.5 23.5m-24 1l24-24M1263.5 1413.5l23.5 23.5m-24 1l24-24M1263.5 1416.5l23.5 23.5m-24 1l24-24M1263.5 1419.5l23.5 23.5m-24 1l24-24M1263.5 1422.5l23.5 23.5m-24 1l24-24M1263.5 1425.5l23.5 23.5m-24 1l24-24M1263.5 1428.5l23.5 23.5m-24 1l24-24M1263.5 1431.5l23.5 23.5m-24 1l24-24M1263.5 1434.5l23.5 23.5m-24 1l24-24M1263.5 1437.5l23.5 23.5m-24 1l24-24M1263.5 1440.5l23.5 23.5m-24 1l24-24M1263.5 1443.5l23.5 23.5m-24 1l24-24M1263.5 1446.5l23.5 23.5m-24 1l24-24M1263.5 1449.5l23.5 23.5m-24 1l24-24M1263.5 1452.5l23.5 23.5m-24 1l24-24M1263.5 1455.5l23.5 23.5m-24 1l24-24M1263.5 1458.5l23.5 23.5m-24 1l24-24M1263.5 1461.5l23.5 23.5m-24 1l24-24M1263.5 1464.5l23.5 23.5m-24 1l24-24M1263.5 1467.5l23.5 23.5m-24 1l24-24M1263.5 1470.5l23.5 23.5m-24 1l24-24M1263.5 1473.5l23.5 23.5m-24 1l24-24M1263.5 1476.5l23.5 23.5m-24 1l24-24M1263.5 1479.5l23.5 23.5m-24 1l24-24M1263.5 1482.5l23.5 23.5m-24 1l24-24M1263.5 1485.5l23.5 23.5m-24 1l24-24M1263.5 1488.5l23.5 23.5m-24 1l24-24M1263.5 1491.5l23.5 23.5m-24 1l24-24M1263.5 1494.5l23.5 23.5m-24 1l24-24M1263.5 1497.5l23.5 23.5m-24 1l24-24M1263.5 1503.5l23.5 23.5m-24 1l24-24M1263.5 1509.5l23.5 23.5m-24 1l24-24M1263.5 1512.5l23.5 23.5m-24 1l24-24M1263.5 1524.5l23.5 23.5m-24 1l24-24M1263.5 1527.5l23.5 23.5m-24 1l24-24M1263.5 1530.5l23.5 23.5m-24 1l24-24M1263.5 1533.5l23.5 23.5m-24 1l24-24M1263.5 1536.5l23.5 23.5m-24 1l24-24M1263.5 1539.5l23.5 23.5m-24 1l24-24M1296.5 1371.5l23.5 23.5m-24 1l24-24M1296.5 1374.5l23.5 23.5m-24 1l24-24M1296.5 1389.5l23.5 23.5m-24 1l24-24M1296.5 1392.5l23.5 23.5m-24 1l24-24M1296.5 1395.5l23.5 23.5m-24 1l24-24M1296.5 1404.5l23.5 23.5m-24 1l24-24M1296.5 1407.5l23.5 23.5m-24 1l24-24M1296.5 1410.5l23.5 23.5m-24 1l24-24M1296.5 1413.5l23.5 23.5m-24 1l24-24M1296.5 1416.5l23.5 23.5m-24 1l24-24M1296.5 1419.5l23.5 23.5m-24 1l24-24M1296.5 1422.5l23.5 23.5m-24 1l24-24M1296.5 1425.5l23.5 23.5m-24 1l24-24M1296.5 1428.5l23.5 23.5m-24 1l24-24M1296.5 1431.5l23.5 23.5m-24 1l24-24M1296.5 1434.5l23.5 23.5m-24 1l24-24M1296.5 1437.5l23.5 23.5m-24 1l24-24M1296.5 1440.5l23.5 23.5m-24 1l24-24M1296.5 1443.5l23.5 23.5m-24 1l24-24M1296.5 1446.5l23.5 23.5m-24 1l24-24M1296.5 1449.5l23.5 23.5m-24 1l24-24M1296.5 1452.5l23.5 23.5m-24 1l24-24M1296.5 1455.5l23.5 23.5m-24 1l24-24M1296.5 1458.5l23.5 23.5m-24 1l24-24M1296.5 1461.5l23.5 23.5m-24 1l24-24M1296.5 1464.5l23.5 23.5m-24 1l24-24M1296.5 1467.5l23.5 23.5m-24 1l24-24M1296.5 1470.5l23.5 23.5m-24 1l24-24M1296.5 1473.5l23.5 23.5m-24 1l24-24M1296.5 1476.5l23.5 23.5m-24 1l24-24M1296.5 1479.5l23.5 23.5m-24 1l24-24M1296.5 1482.5l23.5 23.5m-24 1l24-24M1296.5 1485.5l23.5 23.5m-24 1l24-24M1296.5 1488.5l23.5 23.5m-24 1l24-24M1296.5 1491.5l23.5 23.5m-24 1l24-24M1296.5 1494.5l23.5 23.5m-24 1l24-24M1296.5 1497.5l23.5 23.5m-24 1l24-24M1296.5 1500.5l23.5 23.5m-24 1l24-24M1296.5 1503.5l23.5 23.5m-24 1l24-24M1296.5 1506.5l23.5 23.5m-24 1l24-24M1296.5 1509.5l23.5 23.5m-24 1l24-24M1296.5 1512.5l23.5 23.5m-24 1l24-24M1296.5 1518.5l23.5 23.5m-24 1l24-24M1296.5 1521.5l23.5 23.5m-24 1l24-24M1296.5 1524.5l23.5 23.5m-24 1l24-24M1296.5 1527.5l23.5 23.5m-24 1l24-24M1296.5 1530.5l23.5 23.5m-24 1l24-24M1296.5 1536.5l23.5 23.5m-24 1l24-24M1296.5 1539.5l23.5 23.5m-24 1l24-24M1296.5 1542.5l23.5 23.5m-24 1l24-24M1296.5 1545.5l23.5 23.5m-24 1l24-24M1296.5 1554.5l23.5 23.5m-24 1l24-24M1296.5 1557.5l23.5 23.5m-24 1l24-24M1296.5 1560.5l23.5 23.5m-24 1l24-24M1296.5 1563.5l23.5 23.5m-24 1l24-24M1296.5 1566.5l23.5 23.5m-24 1l24-24M1329.5 1383.5l23.5 23.5m-24 1l24-24M1329.5 1389.5l23.5 23.5m-24 1l24-24M1329.5 1395.5l23.5 23.5m-24 1l24-24M1329.5 1398.5l23.5 23.5m-24 1l24-24M1329.5 1404.5l23.5 23.5m-24 1l24-24M1329.5 1407.5l23.5 23.5m-24 1l24-24M1329.5 1413.5l23.5 23.5m-24 1l24-24M1329.5 1416.5l23.5 23.5m-24 1l24-24M1329.5 1419.5l23.5 23.5m-24 1l24-24M1329.5 1422.5l23.5 23.5m-24 1l24-24M1329.5 1425.5l23.5 23.5m-24 1l24-24M1329.5 1431.5l23.5 23.5m-24 1l24-24M1329.5 1434.5l23.5 23.5m-24 1l24-24M1329.5 1437.5l23.5 23.5m-24 1l24-24M1329.5 1440.5l23.5 23.5m-24 1l24-24M1329.5 1446.5l23.5 23.5m-24 1l24-24M1329.5 1449.5l23.5 23.5m-24 1l24-24M1329.5 1452.5l23.5 23.5m-24 1l24-24M1329.5 1455.5l23.5 23.5m-24 1l24-24M1329.5 1458.5l23.5 23.5m-24 1l24-24M1329.5 1461.5l23.5 23.5m-24 1l24-24M1329.5 1464.5l23.5 23.5m-24 1l24-24M1329.5 1467.5l23.5 23.5m-24 1l24-24M1329.5 1470.5l23.5 23.5m-24 1l24-24M1329.5 1473.5l23.5 23.5m-24 1l24-24M1329.5 1476.5l23.5 23.5m-24 1l24-24M1329.5 1479.5l23.5 23.5m-24 1l24-24M1329.5 1482.5l23.5 23.5m-24 1l24-24M1329.5 1485.5l23.5 23.5m-24 1l24-24M1329.5 1488.5l23.5 23.5m-24 1l24-24M1329.5 1491.5l23.5 23.5m-24 1l24-24M1329.5 1494.5l23.5 23.5m-24 1l24-24M1329.5 1497.5l23.5 23.5m-24 1l24-24M1329.5 1500.5l23.5 23.5m-24 1l24-24M1329.5 1503.5l23.5 23.5m-24 1l24-24M1329.5 1506.5l23.5 23.5m-24 1l24-24M1329.5 1509.5l23.5 23.5m-24 1l24-24M1329.5 1512.5l23.5 23.5m-24 1l24-24M1329.5 1515.5l23.5 23.5m-24 1l24-24M1329.5 1518.5l23.5 23.5m-24 1l24-24M1329.5 1521.5l23.5 23.5m-24 1l24-24M1329.5 1524.5l23.5 23.5m-24 1l24-24M1329.5 1527.5l23.5 23.5m-24 1l24-24M1329.5 1530.5l23.5 23.5m-24 1l24-24M1329.5 1533.5l23.5 23.5m-24 1l24-24M1329.5 1536.5l23.5 23.5m-24 1l24-24M1329.5 1539.5l23.5 23.5m-24 1l24-24M1329.5 1542.5l23.5 23.5m-24 1l24-24M1329.5 1545.5l23.5 23.5m-24 1l24-24M1329.5 1548.5l23.5 23.5m-24 1l24-24M1329.5 1551.5l23.5 23.5m-24 1l24-24M1329.5 1554.5l23.5 23.5m-24 1l24-24M1329.5 1563.5l23.5 23.5m-24 1l24-24M1329.5 1569.5l23.5 23.5m-24 1l24-24M1329.5 1572.5l23.5 23.5m-24 1l24-24M1329.5 1584.5l23.5 23.5m-24 1l24-24M1362.5 1341.5l23.5 23.5m-24 1l24-24M1362.5 1350.5l23.5 23.5m-24 1l24-24M1362.5 1386.5l23.5 23.5m-24 1l24-24M1362.5 1392.5l23.5 23.5m-24 1l24-24M1362.5 1395.5l23.5 23.5m-24 1l24-24M1362.5 1398.5l23.5 23.5m-24 1l24-24M1362.5 1401.5l23.5 23.5m-24 1l24-24M1362.5 1404.5l23.5 23.5m-24 1l24-24M1362.5 1410.5l23.5 23.5m-24 1l24-24M1362.5 1413.5l23.5 23.5m-24 1l24-24M1362.5 1416.5l23.5 23.5m-24 1l24-24M1362.5 1419.5l23.5 23.5m-24 1l24-24M1362.5 1422.5l23.5 23.5m-24 1l24-24M1362.5 1425.5l23.5 23.5m-24 1l24-24M1362.5 1428.5l23.5 23.5m-24 1l24-24M1362.5 1431.5l23.5 23.5m-24 1l24-24M1362.5 1434.5l23.5 23.5m-24 1l24-24M1362.5 1437.5l23.5 23.5m-24 1l24-24M1362.5 1440.5l23.5 23.5m-24 1l24-24M1362.5 1443.5l23.5 23.5m-24 1l24-24M1362.5 1446.5l23.5 23.5m-24 1l24-24M1362.5 1449.5l23.5 23.5m-24 1l24-24M1362.5 1452.5l23.5 23.5m-24 1l24-24M1362.5 1455.5l23.5 23.5m-24 1l24-24M1362.5 1458.5l23.5 23.5m-24 1l24-24M1362.5 1461.5l23.5 23.5m-24 1l24-24M1362.5 1464.5l23.5 23.5m-24 1l24-24M1362.5 1467.5l23.5 23.5m-24 1l24-24M1362.5 1470.5l23.5 23.5m-24 1l24-24M1362.5 1473.5l23.5 23.5m-24 1l24-24M1362.5 1476.5l23.5 23.5m-24 1l24-24M1362.5 1479.5l23.5 23.5m-24 1l24-24M1362.5 1482.5l23.5 23.5m-24 1l24-24M1362.5 1485.5l23.5 23.5m-24 1l24-24M1362.5 1488.5l23.5 23.5m-24 1l24-24M1362.5 1491.5l23.5 23.5m-24 1l24-24M1362.5 1494.5l23.5 23.5m-24 1l24-24M1362.5 1497.5l23.5 23.5m-24 1l24-24M1362.5 1500.5l23.5 23.5m-24 1l24-24M1362.5 1503.5l23.5 23.5m-24 1l24-24M1362.5 1506.5l23.5 23.5m-24 1l24-24M1362.5 1512.5l23.5 23.5m-24 1l24-24M1362.5 1515.5l23.5 23.5m-24 1l24-24M1362.5 1518.5l23.5 23.5m-24 1l24-24M1362.5 1521.5l23.5 23.5m-24 1l24-24M1362.5 1524.5l23.5 23.5m-24 1l24-24M1362.5 1527.5l23.5 23.5m-24 1l24-24M1362.5 1530.5l23.5 23.5m-24 1l24-24M1362.5 1536.5l23.5 23.5m-24 1l24-24M1362.5 1539.5l23.5 23.5m-24 1l24-24M1362.5 1542.5l23.5 23.5m-24 1l24-24M1362.5 1545.5l23.5 23.5m-24 1l24-24M1362.5 1548.5l23.5 23.5m-24 1l24-24M1362.5 1554.5l23.5 23.5m-24 1l24-24M1362.5 1557.5l23.5 23.5m-24 1l24-24M1362.5 1560.5l23.5 23.5m-24 1l24-24M1362.5 1563.5l23.5 23.5m-24 1l24-24M1362.5 1590.5l23.5 23.5m-24 1l24-24M1362.5 1596.5l23.5 23.5m-24 1l24-24M1398.5 1335.5l23.5 23.5m-24 1l24-24M1398.5 1347.5l23.5 23.5m-24 1l24-24M1398.5 1350.5l23.5 23.5m-24 1l24-24M1398.5 1359.5l23.5 23.5m-24 1l24-24M1398.5 1365.5l23.5 23.5m-24 1l24-24M1398.5 1368.5l23.5 23.5m-24 1l24-24M1398.5 1374.5l23.5 23.5m-24 1l24-24M1398.5 1377.5l23.5 23.5m-24 1l24-24M1398.5 1380.5l23.5 23.5m-24 1l24-24M1398.5 1383.5l23.5 23.5m-24 1l24-24M1398.5 1386.5l23.5 23.5m-24 1l24-24M1398.5 1389.5l23.5 23.5m-24 1l24-24M1398.5 1392.5l23.5 23.5m-24 1l24-24M1398.5 1395.5l23.5 23.5m-24 1l24-24M1398.5 1398.5l23.5 23.5m-24 1l24-24M1398.5 1401.5l23.5 23.5m-24 1l24-24M1398.5 1404.5l23.5 23.5m-24 1l24-24M1398.5 1407.5l23.5 23.5m-24 1l24-24M1398.5 1410.5l23.5 23.5m-24 1l24-24M1398.5 1413.5l23.5 23.5m-24 1l24-24M1398.5 1416.5l23.5 23.5m-24 1l24-24M1398.5 1419.5l23.5 23.5m-24 1l24-24M1398.5 1422.5l23.5 23.5m-24 1l24-24M1398.5 1425.5l23.5 23.5m-24 1l24-24M1398.5 1428.5l23.5 23.5m-24 1l24-24M1398.5 1431.5l23.5 23.5m-24 1l24-24M1398.5 1434.5l23.5 23.5m-24 1l24-24M1398.5 1437.5l23.5 23.5m-24 1l24-24M1398.5 1440.5l23.5 23.5m-24 1l24-24M1398.5 1443.5l23.5 23.5m-24 1l24-24M1398.5 1446.5l23.5 23.5m-24 1l24-24M1398.5 1449.5l23.5 23.5m-24 1l24-24M1398.5 1452.5l23.5 23.5m-24 1l24-24M1398.5 1455.5l23.5 23.5m-24 1l24-24M1398.5 1458.5l23.5 23.5m-24 1l24-24M1398.5 1461.5l23.5 23.5m-24 1l24-24M1398.5 1464.5l23.5 23.5m-24 1l24-24M1398.5 1467.5l23.5 23.5m-24 1l24-24M1398.5 1470.5l23.5 23.5m-24 1l24-24M1398.5 1473.5l23.5 23.5m-24 1l24-24M1398.5 1476.5l23.5 23.5m-24 1l24-24M1398.5 1479.5l23.5 23.5m-24 1l24-24M1398.5 1482.5l23.5 23.5m-24 1l24-24M1398.5 1485.5l23.5 23.5m-24 1l24-24M1398.5 1488.5l23.5 23.5m-24 1l24-24M1398.5 1491.5l23.5 23.5m-24 1l24-24M1398.5 1494.5l23.5 23.5m-24 1l24-24M1398.5 1497.5l23.5 23.5m-24 1l24-24M1398.5 1500.5l23.5 23.5m-24 1l24-24M1398.5 1503.5l23.5 23.5m-24 1l24-24M1398.5 1506.5l23.5 23.5m-24 1l24-24M1398.5 1509.5l23.5 23.5m-24 1l24-24M1398.5 1512.5l23.5 23.5m-24 1l24-24M1398.5 1515.5l23.5 23.5m-24 1l24-24M1398.5 1518.5l23.5 23.5m-24 1l24-24M1398.5 1524.5l23.5 23.5m-24 1l24-24M1398.5 1530.5l23.5 23.5m-24 1l24-24M1398.5 1539.5l23.5 23.5m-24 1l24-24M1398.5 1542.5l23.5 23.5m-24 1l24-24M1398.5 1545.5l23.5 23.5m-24 1l24-24M1398.5 1557.5l23.5 23.5m-24 1l24-24M1398.5 1563.5l23.5 23.5m-24 1l24-24M1398.5 1572.5l23.5 23.5m-24 1l24-24M1431.5 1260.5l23.5 23.5m-24 1l24-24M1431.5 1269.5l23.5 23.5m-24 1l24-24M1431.5 1293.5l23.5 23.5m-24 1l24-24M1431.5 1305.5l23.5 23.5m-24 1l24-24M1431.5 1314.5l23.5 23.5m-24 1l24-24M1431.5 1317.5l23.5 23.5m-24 1l24-24M1431.5 1320.5l23.5 23.5m-24 1l24-24M1431.5 1323.5l23.5 23.5m-24 1l24-24M1431.5 1332.5l23.5 23.5m-24 1l24-24M1431.5 1335.5l23.5 23.5m-24 1l24-24M1431.5 1338.5l23.5 23.5m-24 1l24-24M1431.5 1341.5l23.5 23.5m-24 1l24-24M1431.5 1344.5l23.5 23.5m-24 1l24-24M1431.5 1347.5l23.5 23.5m-24 1l24-24M1431.5 1350.5l23.5 23.5m-24 1l24-24M1431.5 1353.5l23.5 23.5m-24 1l24-24M1431.5 1356.5l23.5 23.5m-24 1l24-24M1431.5 1359.5l23.5 23.5m-24 1l24-24M1431.5 1362.5l23.5 23.5m-24 1l24-24M1431.5 1365.5l23.5 23.5m-24 1l24-24M1431.5 1368.5l23.5 23.5m-24 1l24-24M1431.5 1371.5l23.5 23.5m-24 1l24-24M1431.5 1374.5l23.5 23.5m-24 1l24-24M1431.5 1377.5l23.5 23.5m-24 1l24-24M1431.5 1380.5l23.5 23.5m-24 1l24-24M1431.5 1383.5l23.5 23.5m-24 1l24-24M1431.5 1386.5l23.5 23.5m-24 1l24-24M1431.5 1389.5l23.5 23.5m-24 1l24-24M1431.5 1392.5l23.5 23.5m-24 1l24-24M1431.5 1395.5l23.5 23.5m-24 1l24-24M1431.5 1398.5l23.5 23.5m-24 1l24-24M1431.5 1401.5l23.5 23.5m-24 1l24-24M1431.5 1404.5l23.5 23.5m-24 1l24-24M1431.5 1407.5l23.5 23.5m-24 1l24-24M1431.5 1410.5l23.5 23.5m-24 1l24-24M1431.5 1413.5l23.5 23.5m-24 1l24-24M1431.5 1416.5l23.5 23.5m-24 1l24-24M1431.5 1419.5l23.5 23.5m-24 1l24-24M1431.5 1422.5l23.5 23.5m-24 1l24-24M1431.5 1425.5l23.5 23.5m-24 1l24-24M1431.5 1428.5l23.5 23.5m-24 1l24-24M1431.5 1431.5l23.5 23.5m-24 1l24-24M1431.5 1434.5l23.5 23.5m-24 1l24-24M1431.5 1437.5l23.5 23.5m-24 1l24-24M1431.5 1440.5l23.5 23.5m-24 1l24-24M1431.5 1443.5l23.5 23.5m-24 1l24-24M1431.5 1446.5l23.5 23.5m-24 1l24-24M1431.5 1452.5l23.5 23.5m-24 1l24-24M1431.5 1455.5l23.5 23.5m-24 1l24-24M1431.5 1458.5l23.5 23.5m-24 1l24-24M1431.5 1467.5l23.5 23.5m-24 1l24-24M1431.5 1470.5l23.5 23.5m-24 1l24-24M1431.5 1473.5l23.5 23.5m-24 1l24-24M1431.5 1476.5l23.5 23.5m-24 1l24-24M1431.5 1479.5l23.5 23.5m-24 1l24-24M1431.5 1482.5l23.5 23.5m-24 1l24-24M1431.5 1506.5l23.5 23.5m-24 1l24-24M1431.5 1509.5l23.5 23.5m-24 1l24-24M1464.5 1188.5l23.5 23.5m-24 1l24-24M1464.5 1203.5l23.5 23.5m-24 1l24-24M1464.5 1206.5l23.5 23.5m-24 1l24-24M1464.5 1230.5l23.5 23.5m-24 1l24-24M1464.5 1239.5l23.5 23.5m-24 1l24-24M1464.5 1242.5l23.5 23.5m-24 1l24-24M1464.5 1245.5l23.5 23.5m-24 1l24-24M1464.5 1251.5l23.5 23.5m-24 1l24-24M1464.5 1260.5l23.5 23.5m-24 1l24-24M1464.5 1263.5l23.5 23.5m-24 1l24-24M1464.5 1266.5l23.5 23.5m-24 1l24-24M1464.5 1269.5l23.5 23.5m-24 1l24-24M1464.5 1272.5l23.5 23.5m-24 1l24-24M1464.5 1275.5l23.5 23.5m-24 1l24-24M1464.5 1278.5l23.5 23.5m-24 1l24-24M1464.5 1284.5l23.5 23.5m-24 1l24-24M1464.5 1287.5l23.5 23.5m-24 1l24-24M1464.5 1290.5l23.5 23.5m-24 1l24-24M1464.5 1293.5l23.5 23.5m-24 1l24-24M1464.5 1296.5l23.5 23.5m-24 1l24-24M1464.5 1299.5l23.5 23.5m-24 1l24-24M1464.5 1302.5l23.5 23.5m-24 1l24-24M1464.5 1305.5l23.5 23.5m-24 1l24-24M1464.5 1308.5l23.5 23.5m-24 1l24-24M1464.5 1311.5l23.5 23.5m-24 1l24-24M1464.5 1314.5l23.5 23.5m-24 1l24-24M1464.5 1317.5l23.5 23.5m-24 1l24-24M1464.5 1320.5l23.5 23.5m-24 1l24-24M1464.5 1323.5l23.5 23.5m-24 1l24-24M1464.5 1326.5l23.5 23.5m-24 1l24-24M1464.5 1329.5l23.5 23.5m-24 1l24-24M1464.5 1332.5l23.5 23.5m-24 1l24-24M1464.5 1335.5l23.5 23.5m-24 1l24-24M1464.5 1338.5l23.5 23.5m-24 1l24-24M1464.5 1341.5l23.5 23.5m-24 1l24-24M1464.5 1344.5l23.5 23.5m-24 1l24-24M1464.5 1347.5l23.5 23.5m-24 1l24-24M1464.5 1350.5l23.5 23.5m-24 1l24-24M1464.5 1353.5l23.5 23.5m-24 1l24-24M1464.5 1356.5l23.5 23.5m-24 1l24-24M1464.5 1359.5l23.5 23.5m-24 1l24-24M1464.5 1362.5l23.5 23.5m-24 1l24-24M1464.5 1365.5l23.5 23.5m-24 1l24-24M1464.5 1368.5l23.5 23.5m-24 1l24-24M1464.5 1371.5l23.5 23.5m-24 1l24-24M1464.5 1374.5l23.5 23.5m-24 1l24-24M1464.5 1377.5l23.5 23.5m-24 1l24-24M1464.5 1380.5l23.5 23.5m-24 1l24-24M1464.5 1383.5l23.5 23.5m-24 1l24-24M1464.5 1386.5l23.5 23.5m-24 1l24-24M1464.5 1389.5l23.5 23.5m-24 1l24-24M1464.5 1392.5l23.5 23.5m-24 1l24-24M1464.5 1395.5l23.5 23.5m-24 1l24-24M1464.5 1398.5l23.5 23.5m-24 1l24-24M1464.5 1404.5l23.5 23.5m-24 1l24-24M1464.5 1407.5l23.5 23.5m-24 1l24-24M1464.5 1410.5l23.5 23.5m-24 1l24-24M1464.5 1413.5l23.5 23.5m-24 1l24-24M1464.5 1416.5l23.5 23.5m-24 1l24-24M1464.5 1425.5l23.5 23.5m-24 1l24-24M1464.5 1443.5l23.5 23.5m-24 1l24-24M1464.5 1464.5l23.5 23.5m-24 1l24-24" fill="none" stroke="#000099" stroke-width="1" shape-rendering="crispEdges"/><path d="M900.5 1236.5H921.5V1293.5H900.5ZM900.5 1266.5H921.5M899.9 1170.5H922.1M899.9 1371.5H922.1M909.5 1236.5V1170.5M909.5 1293.5V1371.5M933.5 1167.5H954.5V1236.5H933.5ZM933.5 1206.5H954.5M932.9 1104.5H955.1M932.9 1335.5H955.1M942.5 1167.5V1104.5M942.5 1236.5V1335.5M966.5 1104.5H987.5V1164.5H966.5ZM966.5 1134.5H987.5M965.9 1023.5H988.1M965.9 1239.5H988.1M975.5 1104.5V1023.5M975.5 1164.5V1239.5M999.5 1056.5H1020.5V1113.5H999.5ZM999.5 1089.5H1020.5M998.9 978.5H1021.1M998.9 1173.5H1021.1M1011.5 1056.5V978.5M1011.5 1113.5V1173.5M1032.5 1041.5H1053.5V1101.5H1032.5ZM1032.5 1077.5H1053.5M1031.9 954.5H1054.1M1031.9 1182.5H1054.1M1044.5 1041.5V954.5M1044.5 1101.5V1182.5M1065.5 1044.5H1086.5V1101.5H1065.5ZM1065.5 1077.5H1086.5M1064.9 960.5H1087.1M1064.9 1179.5H1087.1M1077.5 1044.5V960.5M1077.5 1101.5V1179.5M1098.5 1077.5H1119.5V1131.5H1098.5ZM1098.5 1104.5H1119.5M1097.9 1011.5H1120.1M1097.9 1197.5H1120.1M1110.5 1077.5V1011.5M1110.5 1131.5V1197.5M1131.5 1131.5H1155.5V1191.5H1131.5ZM1131.5 1158.5H1155.5M1130.9 1059.5H1156.1M1130.9 1272.5H1156.1M1143.5 1131.5V1059.5M1143.5 1191.5V1272.5M1164.5 1197.5H1188.5V1260.5H1164.5ZM1164.5 1227.5H1188.5M1163.9 1116.5H1189.1M1163.9 1335.5H1189.1M1176.5 1197.5V1116.5M1176.5 1260.5V1335.5M1197.5 1269.5H1221.5V1338.5H1197.5ZM1197.5 1308.5H1221.5M1196.9 1176.5H1222.1M1196.9 1437.5H1222.1M1209.5 1269.5V1176.5M1209.5 1338.5V1437.5M1230.5 1344.5H1254.5V1410.5H1230.5ZM1230.5 1377.5H1254.5M1229.9 1260.5H1255.1M1229.9 1485.5H1255.1M1242.5 1344.5V1260.5M1242.5 1410.5V1485.5M1266.5 1410.5H1287.5V1470.5H1266.5ZM1266.5 1443.5H1287.5M1265.9 1329.5H1288.1M1265.9 1551.5H1288.1M1275.5 1410.5V1329.5M1275.5 1470.5V1551.5M1299.5 1446.5H1320.5V1509.5H1299.5ZM1299.5 1479.5H1320.5M1298.9 1383.5H1321.1M1298.9 1578.5H1321.1M1308.5 1446.5V1383.5M1308.5 1509.5V1578.5M1332.5 1479.5H1353.5V1530.5H1332.5ZM1332.5 1503.5H1353.5M1331.9 1401.5H1354.1M1331.9 1596.5H1354.1M1341.5 1479.5V1401.5M1341.5 1530.5V1596.5M1365.5 1464.5H1386.5V1521.5H1365.5ZM1365.5 1491.5H1386.5M1364.9 1398.5H1387.1M1364.9 1608.5H1387.1M1374.5 1464.5V1398.5M1374.5 1521.5V1608.5M1398.5 1428.5H1419.5V1491.5H1398.5ZM1398.5 1464.5H1419.5M1397.9 1347.5H1420.1M1397.9 1584.5H1420.1M1410.5 1428.5V1347.5M1410.5 1491.5V1584.5M1431.5 1383.5H1452.5V1446.5H1431.5ZM1431.5 1416.5H1452.5M1430.9 1305.5H1453.1M1430.9 1521.5H1453.1M1443.5 1383.5V1305.5M1443.5 1446.5V1521.5M1464.5 1311.5H1485.5V1374.5H1464.5ZM1464.5 1341.5H1485.5M1463.9 1215.5H1486.1M1463.9 1455.5H1486.1M1476.5 1311.5V1215.5M1476.5 1374.5V1455.5" fill="none" stroke="#000099" stroke-width="1.05"/><path d="M933.5 1203.5H954.5M999.5 1086.5H1020.5M1032.5 1071.5H1053.5M1065.5 1074.5H1086.5M1098.5 1107.5H1119.5M1197.5 1305.5H1221.5M1266.5 1440.5H1287.5M1398.5 1461.5H1419.5M1431.5 1413.5H1452.5" fill="none" stroke="#000099" stroke-width="1.05" stroke-dasharray="3 3"/><path d="M894.5 1614.5V1596.5M909.5 1614.5V1605.5M927.5 1614.5V1605.5M942.5 1614.5V1605.5M960.5 1614.5V1605.5M975.5 1614.5V1596.5M993.5 1614.5V1605.5M1011.5 1614.5V1605.5M1026.5 1614.5V1605.5M1044.5 1614.5V1605.5M1059.5 1614.5V1596.5M1077.5 1614.5V1605.5M1092.5 1614.5V1605.5M1110.5 1614.5V1605.5M1125.5 1614.5V1605.5M1143.5 1614.5V1596.5M1158.5 1614.5V1605.5M1176.5 1614.5V1605.5M1194.5 1614.5V1605.5M1209.5 1614.5V1605.5M1227.5 1614.5V1596.5M1242.5 1614.5V1605.5M1260.5 1614.5V1605.5M1275.5 1614.5V1605.5M1293.5 1614.5V1605.5M1308.5 1614.5V1596.5M1326.5 1614.5V1605.5M1341.5 1614.5V1605.5M1359.5 1614.5V1605.5M1374.5 1614.5V1605.5M1392.5 1614.5V1596.5M1410.5 1614.5V1605.5M1425.5 1614.5V1605.5M1443.5 1614.5V1605.5M1458.5 1614.5V1605.5M1476.5 1614.5V1596.5M894.5 1614.5H912.5M894.5 1593.5H903.5M894.5 1572.5H903.5M894.5 1548.5H903.5M894.5 1527.5H903.5M894.5 1506.5H912.5M894.5 1482.5H903.5M894.5 1461.5H903.5M894.5 1440.5H903.5M894.5 1416.5H903.5M894.5 1395.5H912.5M894.5 1374.5H903.5M894.5 1350.5H903.5M894.5 1329.5H903.5M894.5 1308.5H903.5M894.5 1287.5H912.5M894.5 1263.5H903.5M894.5 1242.5H903.5M894.5 1221.5H903.5M894.5 1197.5H903.5M894.5 1176.5H912.5M894.5 1155.5H903.5M894.5 1131.5H903.5M894.5 1110.5H903.5M894.5 1089.5H903.5M894.5 1065.5H912.5M894.5 1044.5H903.5M894.5 1023.5H903.5M894.5 999.5H903.5M894.5 978.5H903.5M894.5 957.5H912.5" fill="none" stroke="#000" stroke-width="1.05"/><path d="M1401.5 927.5H1551.5V1125.5H1401.5Z" fill="#fff" stroke="#000" stroke-width="1.05"/><path d="M1401.5 960.5H1551.5" fill="none" stroke="#000" stroke-width="1.05"/><text x="1192" y="915" font-size="33.5" text-anchor="middle" textLength="128.7" lengthAdjust="spacingAndGlyphs">candlex5</text><text x="889.2" y="966" font-size="24" text-anchor="end">1.5</text><text x="892" y="1074" font-size="24" text-anchor="end">1</text><text x="889.2" y="1185" font-size="24" text-anchor="end">0.5</text><text x="887.6" y="1296" font-size="24" text-anchor="end">0</text><text x="889.2" y="1404" font-size="24" text-anchor="end">−0.5</text><text x="892" y="1515" font-size="24" text-anchor="end">−1</text><text x="889.2" y="1623" font-size="24" text-anchor="end">−1.5</text><text x="891.5" y="1640.7" font-size="24" text-anchor="middle">0</text><text x="973.9" y="1640.7" font-size="24" text-anchor="middle">50</text><text x="1057.9" y="1640.7" font-size="24" text-anchor="middle">100</text><text x="1141.9" y="1640.7" font-size="24" text-anchor="middle">150</text><text x="1225.9" y="1640.7" font-size="24" text-anchor="middle">200</text><text x="1306.9" y="1640.7" font-size="24" text-anchor="middle">250</text><text x="1390.9" y="1640.7" font-size="24" text-anchor="middle">300</text><text x="1474.9" y="1640.7" font-size="24" text-anchor="middle">350</text><text x="1491.2" y="1670.7" font-size="24" text-anchor="end">Deg</text><text x="1425.2" y="953.9" font-size="24.75">h1_copy</text><text x="1410.2" y="983.9" font-size="14.05">Entries</text><text x="1541" y="983.9" font-size="13.8" text-anchor="end">3600</text><text x="1410.2" y="1017" font-size="14.05">Mean x</text><text x="1541.7" y="1017" font-size="13.8" text-anchor="end">175</text><text x="1410.2" y="1049.6" font-size="14.05">Mean y</text><text x="1538.5" y="1049.6" font-size="13.8" text-anchor="end">0.001895</text><text x="1410.2" y="1079.8" font-size="14.05">Std Dev x</text><text x="1539.9" y="1079.8" font-size="13.8" text-anchor="end">103.9</text><text x="1410.2" y="1112.7" font-size="14.05">Std Dev y</text><text x="1540.7" y="1112.7" font-size="13.8" text-anchor="end">0.7269</text></g>
<g><path d="M1689.5 957.5H2289.5V1614.5H1689.5Z" fill="none" stroke="#000" stroke-width="1.05"/><path d="M1713.5 1281.5h0M1710.5 1251.5h0M1698.5 1302.5h0M1704.5 1215.5h0M1707.5 1266.5h0M1707.5 1269.5h0M1698.5 1260.5h0M1704.5 1236.5h0M1704.5 1317.5h0M1707.5 1281.5h0M1716.5 1260.5h0M1701.5 1245.5h0M1707.5 1233.5h0M1710.5 1305.5h0M1710.5 1242.5h0M1698.5 1329.5h0M1707.5 1245.5h0M1698.5 1281.5h0M1698.5 1218.5h0M1710.5 1281.5h0M1701.5 1254.5h0M1698.5 1224.5h0M1698.5 1344.5h0M1704.5 1356.5h0M1716.5 1236.5h0M1701.5 1248.5h0M1710.5 1338.5h0M1698.5 1191.5h0M1707.5 1293.5h0M1707.5 1206.5h0M1698.5 1293.5h0M1707.5 1221.5h0M1701.5 1212.5h0M1701.5 1290.5h0M1704.5 1299.5h0M1713.5 1263.5h0M1716.5 1296.5h0M1701.5 1218.5h0M1707.5 1308.5h0M1710.5 1224.5h0M1710.5 1302.5h0M1701.5 1194.5h0M1713.5 1308.5h0M1707.5 1302.5h0M1701.5 1176.5h0M1701.5 1233.5h0M1710.5 1311.5h0M1710.5 1254.5h0M1710.5 1368.5h0M1713.5 1239.5h0M1701.5 1305.5h0M1701.5 1272.5h0M1713.5 1260.5h0M1713.5 1242.5h0M1707.5 1278.5h0M1716.5 1281.5h0M1698.5 1230.5h0M1713.5 1245.5h0M1701.5 1302.5h0M1698.5 1173.5h0M1716.5 1239.5h0M1698.5 1290.5h0M1710.5 1197.5h0M1716.5 1341.5h0M1698.5 1269.5h0M1698.5 1257.5h0M1704.5 1302.5h0M1710.5 1191.5h0M1701.5 1299.5h0M1701.5 1308.5h0M1704.5 1320.5h0M1701.5 1266.5h0M1707.5 1194.5h0M1704.5 1308.5h0M1713.5 1317.5h0M1707.5 1239.5h0M1713.5 1305.5h0M1710.5 1233.5h0M1701.5 1236.5h0M1713.5 1290.5h0M1707.5 1248.5h0M1716.5 1257.5h0M1716.5 1248.5h0M1698.5 1197.5h0M1710.5 1329.5h0M1698.5 1275.5h0M1710.5 1221.5h0M1710.5 1290.5h0M1713.5 1329.5h0M1704.5 1233.5h0M1707.5 1338.5h0M1707.5 1323.5h0M1713.5 1254.5h0M1698.5 1263.5h0M1707.5 1263.5h0M1698.5 1200.5h0M1704.5 1284.5h0M1701.5 1293.5h0M1707.5 1272.5h0M1704.5 1212.5h0M1707.5 1329.5h0M1710.5 1266.5h0M1698.5 1305.5h0M1713.5 1269.5h0M1710.5 1317.5h0M1707.5 1224.5h0M1704.5 1272.5h0M1710.5 1299.5h0M1716.5 1185.5h0M1701.5 1215.5h0M1713.5 1248.5h0M1698.5 1266.5h0M1710.5 1227.5h0M1713.5 1275.5h0M1698.5 1236.5h0M1707.5 1356.5h0M1704.5 1263.5h0M1713.5 1206.5h0M1701.5 1251.5h0M1704.5 1197.5h0M1698.5 1284.5h0M1713.5 1257.5h0M1707.5 1230.5h0M1704.5 1329.5h0M1701.5 1257.5h0M1704.5 1296.5h0M1701.5 1242.5h0M1716.5 1230.5h0M1701.5 1263.5h0M1710.5 1230.5h0M1698.5 1323.5h0M1698.5 1272.5h0M1701.5 1317.5h0M1710.5 1263.5h0M1710.5 1287.5h0M1716.5 1293.5h0M1701.5 1278.5h0M1716.5 1251.5h0M1710.5 1326.5h0M1710.5 1209.5h0M1704.5 1281.5h0M1713.5 1302.5h0M1707.5 1341.5h0M1716.5 1266.5h0M1713.5 1332.5h0M1713.5 1224.5h0M1716.5 1227.5h0M1710.5 1275.5h0M1704.5 1221.5h0M1698.5 1221.5h0M1713.5 1278.5h0M1707.5 1251.5h0M1713.5 1173.5h0M1707.5 1236.5h0M1713.5 1311.5h0M1701.5 1170.5h0M1707.5 1371.5h0M1698.5 1395.5h0M1698.5 1422.5h0M1740.5 1239.5h0M1746.5 1191.5h0M1746.5 1239.5h0M1734.5 1173.5h0M1746.5 1173.5h0M1749.5 1107.5h0M1743.5 1215.5h0M1740.5 1137.5h0M1749.5 1287.5h0M1734.5 1179.5h0M1740.5 1254.5h0M1749.5 1218.5h0M1734.5 1227.5h0M1740.5 1185.5h0M1746.5 1161.5h0M1749.5 1200.5h0M1737.5 1167.5h0M1746.5 1251.5h0M1734.5 1218.5h0M1740.5 1209.5h0M1731.5 1242.5h0M1740.5 1218.5h0M1737.5 1182.5h0M1731.5 1158.5h0M1746.5 1179.5h0M1749.5 1227.5h0M1737.5 1179.5h0M1731.5 1197.5h0M1743.5 1140.5h0M1737.5 1161.5h0M1731.5 1140.5h0M1743.5 1275.5h0M1734.5 1122.5h0M1731.5 1236.5h0M1731.5 1152.5h0M1740.5 1170.5h0M1746.5 1170.5h0M1737.5 1203.5h0M1740.5 1191.5h0M1746.5 1218.5h0M1734.5 1161.5h0M1734.5 1197.5h0M1746.5 1200.5h0M1737.5 1218.5h0M1740.5 1251.5h0M1731.5 1179.5h0M1734.5 1137.5h0M1734.5 1251.5h0M1740.5 1230.5h0M1734.5 1230.5h0M1746.5 1188.5h0M1740.5 1212.5h0M1746.5 1230.5h0M1731.5 1215.5h0M1734.5 1248.5h0M1743.5 1206.5h0M1740.5 1221.5h0M1743.5 1209.5h0M1737.5 1245.5h0M1743.5 1185.5h0M1740.5 1167.5h0M1740.5 1176.5h0M1737.5 1221.5h0M1740.5 1179.5h0M1731.5 1161.5h0M1734.5 1206.5h0M1737.5 1194.5h0M1740.5 1152.5h0M1731.5 1173.5h0M1737.5 1230.5h0M1731.5 1209.5h0M1740.5 1200.5h0M1746.5 1212.5h0M1743.5 1164.5h0M1749.5 1215.5h0M1746.5 1116.5h0M1731.5 1299.5h0M1749.5 1209.5h0M1749.5 1245.5h0M1743.5 1188.5h0M1740.5 1206.5h0M1749.5 1233.5h0M1734.5 1209.5h0M1731.5 1185.5h0M1734.5 1239.5h0M1749.5 1149.5h0M1734.5 1242.5h0M1740.5 1197.5h0M1743.5 1296.5h0M1740.5 1224.5h0M1731.5 1248.5h0M1737.5 1215.5h0M1749.5 1257.5h0M1737.5 1176.5h0M1749.5 1173.5h0M1740.5 1215.5h0M1743.5 1245.5h0M1743.5 1173.5h0M1737.5 1143.5h0M1746.5 1134.5h0M1731.5 1260.5h0M1734.5 1260.5h0M1749.5 1158.5h0M1743.5 1158.5h0M1743.5 1179.5h0M1737.5 1236.5h0M1737.5 1173.5h0M1749.5 1203.5h0M1749.5 1185.5h0M1743.5 1239.5h0M1749.5 1191.5h0M1743.5 1152.5h0M1737.5 1209.5h0M1734.5 1236.5h0M1737.5 1284.5h0M1731.5 1230.5h0M1731.5 1203.5h0M1749.5 1212.5h0M1740.5 1248.5h0M1749.5 1131.5h0M1746.5 1215.5h0M1746.5 1110.5h0M1743.5 1230.5h0M1740.5 1188.5h0M1734.5 1275.5h0M1746.5 1143.5h0M1749.5 1179.5h0M1734.5 1203.5h0M1749.5 1269.5h0M1737.5 1200.5h0M1740.5 1233.5h0M1740.5 1236.5h0M1743.5 1257.5h0M1731.5 1326.5h0M1749.5 1113.5h0M1731.5 1143.5h0M1746.5 1176.5h0M1746.5 1221.5h0M1749.5 1236.5h0M1749.5 1170.5h0M1731.5 1284.5h0M1749.5 1146.5h0M1746.5 1242.5h0M1734.5 1194.5h0M1746.5 1113.5h0M1731.5 1164.5h0M1737.5 1140.5h0M1749.5 1164.5h0M1746.5 1227.5h0M1731.5 1191.5h0M1734.5 1188.5h0M1749.5 1206.5h0M1746.5 1266.5h0M1743.5 1104.5h0M1746.5 1335.5h0M1773.5 1176.5h0M1782.5 1182.5h0M1767.5 1107.5h0M1764.5 1194.5h0M1773.5 1119.5h0M1782.5 1137.5h0M1770.5 1164.5h0M1779.5 1167.5h0M1767.5 1164.5h0M1776.5 1092.5h0M1782.5 1212.5h0M1779.5 1068.5h0M1779.5 1161.5h0M1764.5 1074.5h0M1782.5 1152.5h0M1782.5 1131.5h0M1764.5 1224.5h0M1779.5 1089.5h0M1767.5 1170.5h0M1776.5 1110.5h0M1770.5 1083.5h0M1782.5 1134.5h0M1779.5 1128.5h0M1773.5 1146.5h0M1764.5 1173.5h0M1773.5 1125.5h0M1782.5 1200.5h0M1776.5 1065.5h0M1782.5 1191.5h0M1782.5 1161.5h0M1782.5 1068.5h0M1773.5 1077.5h0M1782.5 1155.5h0M1770.5 1068.5h0M1764.5 1152.5h0M1764.5 1140.5h0M1764.5 1158.5h0M1764.5 1149.5h0M1779.5 1143.5h0M1782.5 1092.5h0M1764.5 1176.5h0M1767.5 1191.5h0M1782.5 1164.5h0M1767.5 1212.5h0M1764.5 1200.5h0M1782.5 1206.5h0M1767.5 1197.5h0M1767.5 1110.5h0M1779.5 1182.5h0M1767.5 1128.5h0M1782.5 1146.5h0M1770.5 1122.5h0M1779.5 1113.5h0M1770.5 1185.5h0M1764.5 1092.5h0M1767.5 1119.5h0M1764.5 1146.5h0M1782.5 1059.5h0M1773.5 1149.5h0M1770.5 1110.5h0M1773.5 1095.5h0M1767.5 1155.5h0M1770.5 1161.5h0M1776.5 1134.5h0M1773.5 1167.5h0M1779.5 1224.5h0M1764.5 1089.5h0M1767.5 1158.5h0M1782.5 1167.5h0M1773.5 1200.5h0M1782.5 1116.5h0M1776.5 1122.5h0M1770.5 1188.5h0M1773.5 1074.5h0M1767.5 1140.5h0M1773.5 1143.5h0M1782.5 1035.5h0M1770.5 1053.5h0M1782.5 1215.5h0M1776.5 1119.5h0M1770.5 1149.5h0M1779.5 1125.5h0M1776.5 1161.5h0M1776.5 1215.5h0M1779.5 1194.5h0M1764.5 1077.5h0M1770.5 1089.5h0M1782.5 1188.5h0M1764.5 1086.5h0M1770.5 1146.5h0M1782.5 1083.5h0M1776.5 1140.5h0M1779.5 1206.5h0M1776.5 1173.5h0M1782.5 1089.5h0M1779.5 1116.5h0M1779.5 1140.5h0M1773.5 1071.5h0M1782.5 1128.5h0M1779.5 1053.5h0M1770.5 1131.5h0M1764.5 1110.5h0M1773.5 1182.5h0M1770.5 1143.5h0M1770.5 1119.5h0M1782.5 1170.5h0M1773.5 1059.5h0M1764.5 1128.5h0M1776.5 1083.5h0M1770.5 1080.5h0M1773.5 1116.5h0M1770.5 1092.5h0M1767.5 1137.5h0M1770.5 1191.5h0M1776.5 1113.5h0M1767.5 1206.5h0M1767.5 1083.5h0M1767.5 1080.5h0M1782.5 1140.5h0M1764.5 1095.5h0M1770.5 1212.5h0M1767.5 1134.5h0M1767.5 1098.5h0M1773.5 1236.5h0M1776.5 1149.5h0M1767.5 1203.5h0M1770.5 1128.5h0M1782.5 1062.5h0M1764.5 1161.5h0M1779.5 1200.5h0M1776.5 1164.5h0M1770.5 1173.5h0M1779.5 1134.5h0M1764.5 1080.5h0M1776.5 1131.5h0M1779.5 1197.5h0M1764.5 1185.5h0M1779.5 1149.5h0M1779.5 1122.5h0M1773.5 1191.5h0M1764.5 1188.5h0M1782.5 1113.5h0M1770.5 1086.5h0M1776.5 1197.5h0M1767.5 1101.5h0M1779.5 1095.5h0M1782.5 1125.5h0M1779.5 1104.5h0M1776.5 1155.5h0M1770.5 1029.5h0M1767.5 1149.5h0M1770.5 1038.5h0M1782.5 1101.5h0M1767.5 1065.5h0M1776.5 1236.5h0M1773.5 1179.5h0M1767.5 1173.5h0M1782.5 1077.5h0M1764.5 1104.5h0M1770.5 1116.5h0M1782.5 1230.5h0M1764.5 1107.5h0M1767.5 1092.5h0M1767.5 1152.5h0M1782.5 1185.5h0M1764.5 1113.5h0M1764.5 1131.5h0M1779.5 1023.5h0M1779.5 1239.5h0M1770.5 1002.5h0M1800.5 1062.5h0M1815.5 1038.5h0M1800.5 1089.5h0M1812.5 1122.5h0M1812.5 1053.5h0M1803.5 1071.5h0M1812.5 1110.5h0M1800.5 1146.5h0M1812.5 1101.5h0M1806.5 1071.5h0M1797.5 1116.5h0M1809.5 1062.5h0M1806.5 1140.5h0M1800.5 1107.5h0M1809.5 1053.5h0M1800.5 1134.5h0M1803.5 1155.5h0M1809.5 1044.5h0M1815.5 1113.5h0M1797.5 1068.5h0M1815.5 1068.5h0M1800.5 1104.5h0M1809.5 1056.5h0M1806.5 1035.5h0M1812.5 1083.5h0M1800.5 1092.5h0M1800.5 1038.5h0M1812.5 1119.5h0M1800.5 1068.5h0M1815.5 1083.5h0M1800.5 1053.5h0M1815.5 1065.5h0M1809.5 1002.5h0M1809.5 1131.5h0M1797.5 1092.5h0M1806.5 1146.5h0M1812.5 1071.5h0M1800.5 1155.5h0M1806.5 1014.5h0M1800.5 1077.5h0M1800.5 1128.5h0M1797.5 1128.5h0M1815.5 1080.5h0M1806.5 1161.5h0M1809.5 1077.5h0M1803.5 1098.5h0M1803.5 1020.5h0M1800.5 981.5h0M1800.5 1095.5h0M1809.5 1119.5h0M1815.5 1095.5h0M1815.5 1092.5h0M1812.5 1008.5h0M1806.5 999.5h0M1806.5 1113.5h0M1803.5 1137.5h0M1806.5 1104.5h0M1803.5 1074.5h0M1806.5 1095.5h0M1797.5 1161.5h0M1812.5 1107.5h0M1803.5 993.5h0M1809.5 1071.5h0M1803.5 1083.5h0M1803.5 1062.5h0M1800.5 1014.5h0M1803.5 1134.5h0M1806.5 1086.5h0M1800.5 1110.5h0M1806.5 1137.5h0M1797.5 1008.5h0M1815.5 1134.5h0M1800.5 1131.5h0M1815.5 1101.5h0M1812.5 1095.5h0M1800.5 1125.5h0M1806.5 1050.5h0M1797.5 1113.5h0M1797.5 1131.5h0M1815.5 1086.5h0M1800.5 1119.5h0M1803.5 1173.5h0M1815.5 1119.5h0M1803.5 1107.5h0M1806.5 1131.5h0M1797.5 1053.5h0M1803.5 1047.5h0M1812.5 1074.5h0M1806.5 1065.5h0M1815.5 1125.5h0M1809.5 1059.5h0M1806.5 1032.5h0M1800.5 1056.5h0M1809.5 1098.5h0M1815.5 1104.5h0M1806.5 1128.5h0M1815.5 1122.5h0M1812.5 1155.5h0M1812.5 1026.5h0M1812.5 1035.5h0M1797.5 1023.5h0M1797.5 1080.5h0M1815.5 1107.5h0M1803.5 1128.5h0M1800.5 1041.5h0M1797.5 1086.5h0M1815.5 1017.5h0M1815.5 984.5h0M1803.5 1149.5h0M1797.5 1104.5h0M1806.5 1026.5h0M1809.5 1167.5h0M1800.5 1059.5h0M1797.5 1065.5h0M1812.5 1089.5h0M1797.5 1035.5h0M1815.5 1116.5h0M1815.5 1098.5h0M1815.5 1146.5h0M1806.5 1062.5h0M1809.5 1104.5h0M1812.5 1158.5h0M1800.5 1164.5h0M1803.5 1146.5h0M1800.5 1116.5h0M1815.5 1149.5h0M1797.5 1146.5h0M1797.5 1101.5h0M1809.5 1050.5h0M1815.5 1062.5h0M1800.5 1113.5h0M1812.5 1059.5h0M1806.5 1110.5h0M1803.5 1044.5h0M1806.5 1056.5h0M1809.5 1125.5h0M1812.5 1062.5h0M1809.5 1089.5h0M1806.5 1107.5h0M1803.5 1104.5h0M1812.5 1143.5h0M1809.5 1086.5h0M1800.5 1149.5h0M1803.5 1023.5h0M1812.5 1149.5h0M1800.5 993.5h0M1800.5 1071.5h0M1806.5 1098.5h0M1809.5 1095.5h0M1806.5 1119.5h0M1803.5 1113.5h0M1809.5 1014.5h0M1800.5 1065.5h0M1797.5 1074.5h0M1797.5 1071.5h0M1806.5 1023.5h0M1803.5 1038.5h0M1806.5 978.5h0M1809.5 1173.5h0M1833.5 963.5h0M1848.5 1008.5h0M1830.5 1056.5h0M1830.5 1071.5h0M1848.5 1077.5h0M1839.5 1053.5h0M1836.5 1074.5h0M1845.5 1098.5h0M1845.5 1074.5h0M1848.5 1044.5h0M1836.5 1056.5h0M1845.5 1152.5h0M1839.5 1002.5h0M1830.5 1029.5h0M1836.5 1128.5h0M1845.5 1083.5h0M1845.5 1170.5h0M1845.5 1155.5h0M1839.5 1113.5h0M1839.5 1098.5h0M1848.5 1125.5h0M1848.5 1041.5h0M1845.5 1059.5h0M1833.5 1164.5h0M1836.5 1146.5h0M1848.5 1059.5h0M1830.5 1077.5h0M1833.5 1080.5h0M1845.5 1053.5h0M1836.5 1065.5h0M1839.5 1038.5h0M1845.5 1161.5h0M1848.5 1071.5h0M1836.5 1032.5h0M1833.5 1059.5h0M1848.5 1020.5h0M1848.5 1122.5h0M1833.5 1074.5h0M1848.5 1089.5h0M1833.5 1071.5h0M1839.5 1110.5h0M1836.5 1098.5h0M1842.5 1062.5h0M1830.5 1026.5h0M1836.5 1041.5h0M1830.5 1086.5h0M1839.5 1074.5h0M1830.5 1137.5h0M1842.5 1095.5h0M1839.5 1023.5h0M1830.5 1065.5h0M1848.5 1011.5h0M1830.5 1101.5h0M1848.5 1038.5h0M1839.5 1020.5h0M1830.5 1059.5h0M1839.5 1179.5h0M1845.5 1125.5h0M1830.5 1131.5h0M1842.5 1134.5h0M1836.5 1125.5h0M1842.5 1119.5h0M1839.5 1089.5h0M1839.5 1008.5h0M1845.5 981.5h0M1839.5 978.5h0M1833.5 1029.5h0M1842.5 1056.5h0M1833.5 1083.5h0M1845.5 1041.5h0M1845.5 1050.5h0M1845.5 975.5h0M1833.5 1056.5h0M1836.5 1104.5h0M1839.5 1068.5h0M1848.5 1050.5h0M1845.5 1017.5h0M1845.5 1071.5h0M1836.5 1008.5h0M1833.5 1095.5h0M1842.5 1071.5h0M1830.5 978.5h0M1830.5 1083.5h0M1845.5 978.5h0M1839.5 1119.5h0M1830.5 1023.5h0M1830.5 1089.5h0M1833.5 993.5h0M1848.5 1080.5h0M1836.5 1101.5h0M1842.5 1041.5h0M1836.5 1071.5h0M1842.5 1023.5h0M1830.5 1041.5h0M1830.5 1047.5h0M1833.5 1047.5h0M1833.5 1044.5h0M1842.5 1098.5h0M1830.5 1044.5h0M1836.5 1050.5h0M1845.5 1104.5h0M1830.5 1116.5h0M1836.5 1035.5h0M1830.5 1035.5h0M1845.5 1158.5h0M1845.5 993.5h0M1845.5 1080.5h0M1845.5 1128.5h0M1848.5 1086.5h0M1848.5 1002.5h0M1848.5 987.5h0M1830.5 1074.5h0M1839.5 1065.5h0M1845.5 1065.5h0M1839.5 1137.5h0M1830.5 1113.5h0M1848.5 1104.5h0M1830.5 1017.5h0M1845.5 1119.5h0M1848.5 1047.5h0M1845.5 1038.5h0M1836.5 1083.5h0M1836.5 1002.5h0M1845.5 1092.5h0M1833.5 1140.5h0M1833.5 1065.5h0M1836.5 1179.5h0M1842.5 1032.5h0M1842.5 996.5h0M1848.5 1131.5h0M1848.5 1083.5h0M1833.5 1161.5h0M1842.5 1143.5h0M1830.5 1002.5h0M1842.5 1038.5h0M1848.5 1056.5h0M1839.5 1101.5h0M1848.5 1035.5h0M1842.5 1080.5h0M1842.5 1026.5h0M1836.5 1023.5h0M1839.5 1149.5h0M1839.5 1071.5h0M1845.5 1089.5h0M1836.5 1164.5h0M1833.5 1170.5h0M1842.5 1068.5h0M1848.5 1149.5h0M1836.5 996.5h0M1845.5 1077.5h0M1836.5 987.5h0M1848.5 1014.5h0M1845.5 1095.5h0M1839.5 993.5h0M1833.5 1119.5h0M1842.5 1065.5h0M1848.5 1065.5h0M1842.5 963.5h0M1830.5 1182.5h0M1866.5 1056.5h0M1881.5 1056.5h0M1863.5 1101.5h0M1875.5 1134.5h0M1878.5 1116.5h0M1863.5 1113.5h0M1866.5 1137.5h0M1869.5 1062.5h0M1869.5 1116.5h0M1863.5 1050.5h0M1881.5 1089.5h0M1875.5 1125.5h0M1872.5 1014.5h0M1863.5 1140.5h0M1875.5 1053.5h0M1875.5 1149.5h0M1866.5 1173.5h0M1875.5 1080.5h0M1863.5 1083.5h0M1863.5 1089.5h0M1881.5 999.5h0M1875.5 1041.5h0M1869.5 1041.5h0M1863.5 1080.5h0M1866.5 1044.5h0M1866.5 1116.5h0M1875.5 1035.5h0M1878.5 1044.5h0M1872.5 1041.5h0M1878.5 1086.5h0M1872.5 1107.5h0M1863.5 1125.5h0M1881.5 1101.5h0M1875.5 1086.5h0M1869.5 1095.5h0M1875.5 1095.5h0M1872.5 1095.5h0M1872.5 1167.5h0M1875.5 1146.5h0M1872.5 1089.5h0M1881.5 1128.5h0M1869.5 1131.5h0M1863.5 1077.5h0M1872.5 1134.5h0M1881.5 1122.5h0M1878.5 1065.5h0M1878.5 1005.5h0M1866.5 1005.5h0M1872.5 1017.5h0M1875.5 1083.5h0M1869.5 1089.5h0M1863.5 1038.5h0M1863.5 1095.5h0M1878.5 1083.5h0M1881.5 1023.5h0M1863.5 1023.5h0M1878.5 1008.5h0M1863.5 1041.5h0M1878.5 1077.5h0M1872.5 1053.5h0M1878.5 1053.5h0M1866.5 1107.5h0M1872.5 1161.5h0M1872.5 1155.5h0M1869.5 1164.5h0M1875.5 1071.5h0M1863.5 1020.5h0M1875.5 1014.5h0M1875.5 1101.5h0M1866.5 1017.5h0M1875.5 1077.5h0M1881.5 1062.5h0M1866.5 1077.5h0M1863.5 1026.5h0M1869.5 987.5h0M1878.5 1098.5h0M1866.5 996.5h0M1863.5 1107.5h0M1872.5 1071.5h0M1875.5 1107.5h0M1872.5 1122.5h0M1872.5 1143.5h0M1872.5 1056.5h0M1875.5 1059.5h0M1866.5 1086.5h0M1866.5 1038.5h0M1875.5 1068.5h0M1881.5 1083.5h0M1869.5 1053.5h0M1878.5 1062.5h0M1881.5 1137.5h0M1872.5 1074.5h0M1875.5 1029.5h0M1878.5 1050.5h0M1872.5 1098.5h0M1869.5 1044.5h0M1863.5 1098.5h0M1875.5 1137.5h0M1872.5 1050.5h0M1863.5 1158.5h0M1863.5 1056.5h0M1872.5 1044.5h0M1869.5 1068.5h0M1872.5 1077.5h0M1863.5 1137.5h0M1878.5 1020.5h0M1881.5 1086.5h0M1869.5 1119.5h0M1869.5 1101.5h0M1881.5 1134.5h0M1869.5 1143.5h0M1878.5 1071.5h0M1863.5 993.5h0M1869.5 1059.5h0M1866.5 1113.5h0M1872.5 1080.5h0M1875.5 1119.5h0M1878.5 1113.5h0M1875.5 1062.5h0M1869.5 1050.5h0M1869.5 1074.5h0M1863.5 1029.5h0M1869.5 1155.5h0M1875.5 1089.5h0M1881.5 1080.5h0M1875.5 1056.5h0M1881.5 1059.5h0M1869.5 1035.5h0M1875.5 1116.5h0M1863.5 1068.5h0M1866.5 1074.5h0M1866.5 1089.5h0M1875.5 1065.5h0M1878.5 1056.5h0M1875.5 1104.5h0M1863.5 1032.5h0M1866.5 1050.5h0M1878.5 1143.5h0M1869.5 1080.5h0M1869.5 1038.5h0M1869.5 1137.5h0M1866.5 1065.5h0M1869.5 1104.5h0M1872.5 1020.5h0M1869.5 999.5h0M1863.5 1092.5h0M1863.5 1074.5h0M1881.5 1146.5h0M1869.5 960.5h0M1869.5 1179.5h0M1905.5 1080.5h0M1911.5 1074.5h0M1902.5 1122.5h0M1902.5 1080.5h0M1905.5 1137.5h0M1902.5 1098.5h0M1911.5 1053.5h0M1911.5 1155.5h0M1902.5 1197.5h0M1896.5 1089.5h0M1908.5 1137.5h0M1911.5 1131.5h0M1905.5 1107.5h0M1902.5 1077.5h0M1899.5 1140.5h0M1914.5 1101.5h0M1902.5 1065.5h0M1914.5 1104.5h0M1914.5 1053.5h0M1911.5 1137.5h0M1908.5 1104.5h0M1911.5 1170.5h0M1908.5 1098.5h0M1914.5 1185.5h0M1914.5 1044.5h0M1896.5 1122.5h0M1914.5 1047.5h0M1902.5 1053.5h0M1905.5 1065.5h0M1896.5 1038.5h0M1899.5 1164.5h0M1905.5 1149.5h0M1911.5 1119.5h0M1905.5 1173.5h0M1905.5 1101.5h0M1914.5 1188.5h0M1908.5 1068.5h0M1911.5 1092.5h0M1899.5 1188.5h0M1896.5 1044.5h0M1899.5 1035.5h0M1902.5 1143.5h0M1902.5 1146.5h0M1902.5 1089.5h0M1911.5 1116.5h0M1911.5 1068.5h0M1896.5 1095.5h0M1914.5 1110.5h0M1908.5 1077.5h0M1908.5 1146.5h0M1914.5 1116.5h0M1911.5 1128.5h0M1902.5 1137.5h0M1908.5 1113.5h0M1914.5 1041.5h0M1902.5 1134.5h0M1911.5 1110.5h0M1908.5 1143.5h0M1899.5 1014.5h0M1914.5 1155.5h0M1899.5 1125.5h0M1911.5 1161.5h0M1899.5 1080.5h0M1914.5 1071.5h0M1899.5 1056.5h0M1902.5 1107.5h0M1896.5 1113.5h0M1902.5 1071.5h0M1902.5 1176.5h0M1908.5 1053.5h0M1896.5 1086.5h0M1896.5 1191.5h0M1911.5 1095.5h0M1914.5 1137.5h0M1911.5 1188.5h0M1911.5 1107.5h0M1899.5 1071.5h0M1902.5 1113.5h0M1908.5 1134.5h0M1914.5 1098.5h0M1902.5 1062.5h0M1905.5 1143.5h0M1899.5 1095.5h0M1908.5 1149.5h0M1902.5 1152.5h0M1911.5 1071.5h0M1911.5 1185.5h0M1914.5 1068.5h0M1905.5 1131.5h0M1914.5 1167.5h0M1914.5 1128.5h0M1902.5 1056.5h0M1896.5 1146.5h0M1896.5 1104.5h0M1902.5 1110.5h0M1899.5 1143.5h0M1908.5 1059.5h0M1908.5 1128.5h0M1896.5 1101.5h0M1899.5 1149.5h0M1911.5 1113.5h0M1911.5 1038.5h0M1911.5 1101.5h0M1905.5 1188.5h0M1896.5 1143.5h0M1896.5 1065.5h0M1896.5 1083.5h0M1899.5 1122.5h0M1908.5 1170.5h0M1899.5 1017.5h0M1902.5 1128.5h0M1908.5 1131.5h0M1896.5 1023.5h0M1908.5 1095.5h0M1908.5 1086.5h0M1899.5 1128.5h0M1905.5 1128.5h0M1905.5 1164.5h0M1899.5 1101.5h0M1908.5 1038.5h0M1908.5 1026.5h0M1902.5 1083.5h0M1896.5 1131.5h0M1902.5 1092.5h0M1911.5 1158.5h0M1911.5 1059.5h0M1899.5 1083.5h0M1905.5 1077.5h0M1899.5 1116.5h0M1908.5 1122.5h0M1905.5 1140.5h0M1896.5 1011.5h0M1896.5 1107.5h0M1896.5 1080.5h0M1914.5 1086.5h0M1899.5 1074.5h0M1896.5 1110.5h0M1902.5 1125.5h0M1914.5 1095.5h0M1908.5 1116.5h0M1908.5 1071.5h0M1908.5 1161.5h0M1896.5 1056.5h0M1908.5 1083.5h0M1908.5 1047.5h0M1899.5 1152.5h0M1914.5 1194.5h0M1908.5 1185.5h0M1896.5 1158.5h0M1908.5 1176.5h0M1902.5 1011.5h0M1905.5 1197.5h0M1905.5 1221.5h0M1905.5 1230.5h0M1905.5 1233.5h0M1905.5 1248.5h0M1932.5 1182.5h0M1938.5 1209.5h0M1935.5 1137.5h0M1932.5 1218.5h0M1935.5 1170.5h0M1932.5 1161.5h0M1947.5 1173.5h0M1944.5 1206.5h0M1938.5 1131.5h0M1935.5 1248.5h0M1932.5 1134.5h0M1944.5 1140.5h0M1944.5 1158.5h0M1932.5 1146.5h0M1932.5 1167.5h0M1947.5 1185.5h0M1935.5 1074.5h0M1932.5 1140.5h0M1932.5 1137.5h0M1932.5 1149.5h0M1944.5 1080.5h0M1941.5 1224.5h0M1941.5 1092.5h0M1935.5 1119.5h0M1929.5 1188.5h0M1941.5 1239.5h0M1944.5 1149.5h0M1944.5 1182.5h0M1932.5 1080.5h0M1941.5 1182.5h0M1935.5 1110.5h0M1929.5 1137.5h0M1929.5 1167.5h0M1935.5 1224.5h0M1941.5 1140.5h0M1938.5 1218.5h0M1935.5 1128.5h0M1944.5 1200.5h0M1938.5 1167.5h0M1947.5 1089.5h0M1932.5 1242.5h0M1947.5 1176.5h0M1947.5 1068.5h0M1944.5 1137.5h0M1941.5 1089.5h0M1935.5 1140.5h0M1938.5 1152.5h0M1932.5 1272.5h0M1941.5 1185.5h0M1932.5 1227.5h0M1938.5 1212.5h0M1938.5 1170.5h0M1938.5 1221.5h0M1929.5 1176.5h0M1941.5 1071.5h0M1947.5 1149.5h0M1929.5 1203.5h0M1941.5 1146.5h0M1944.5 1224.5h0M1941.5 1260.5h0M1929.5 1164.5h0M1938.5 1140.5h0M1938.5 1197.5h0M1935.5 1152.5h0M1941.5 1116.5h0M1938.5 1236.5h0M1944.5 1194.5h0M1935.5 1194.5h0M1941.5 1155.5h0M1944.5 1143.5h0M1947.5 1119.5h0M1938.5 1182.5h0M1929.5 1143.5h0M1932.5 1077.5h0M1947.5 1248.5h0M1944.5 1098.5h0M1938.5 1194.5h0M1929.5 1140.5h0M1929.5 1182.5h0M1941.5 1206.5h0M1932.5 1104.5h0M1947.5 1170.5h0M1944.5 1131.5h0M1944.5 1119.5h0M1935.5 1203.5h0M1938.5 1200.5h0M1935.5 1122.5h0M1947.5 1221.5h0M1929.5 1161.5h0M1938.5 1224.5h0M1932.5 1059.5h0M1929.5 1128.5h0M1938.5 1143.5h0M1938.5 1242.5h0M1947.5 1260.5h0M1944.5 1203.5h0M1947.5 1143.5h0M1929.5 1131.5h0M1929.5 1239.5h0M1932.5 1110.5h0M1938.5 1203.5h0M1941.5 1218.5h0M1944.5 1128.5h0M1944.5 1197.5h0M1944.5 1170.5h0M1929.5 1101.5h0M1932.5 1215.5h0M1941.5 1236.5h0M1941.5 1134.5h0M1941.5 1257.5h0M1932.5 1152.5h0M1929.5 1155.5h0M1941.5 1107.5h0M1932.5 1158.5h0M1929.5 1122.5h0M1941.5 1173.5h0M1944.5 1212.5h0M1944.5 1233.5h0M1944.5 1116.5h0M1944.5 1230.5h0M1938.5 1104.5h0M1941.5 1152.5h0M1947.5 1140.5h0M1938.5 1191.5h0M1944.5 1146.5h0M1935.5 1167.5h0M1929.5 1158.5h0M1932.5 1206.5h0M1944.5 1179.5h0M1944.5 1245.5h0M1947.5 1191.5h0M1941.5 1158.5h0M1938.5 1110.5h0M1947.5 1167.5h0M1947.5 1113.5h0M1947.5 1155.5h0M1929.5 1170.5h0M1941.5 1215.5h0M1938.5 1227.5h0M1935.5 1206.5h0M1932.5 1197.5h0M1935.5 1200.5h0M1941.5 1062.5h0M1932.5 1086.5h0M1947.5 1242.5h0M1947.5 1137.5h0M1935.5 1215.5h0M1947.5 1086.5h0M1938.5 1125.5h0M1941.5 1176.5h0M1944.5 1164.5h0M1944.5 1134.5h0M1944.5 1167.5h0M1938.5 1146.5h0M1935.5 1086.5h0M1941.5 1209.5h0M1941.5 1074.5h0M1929.5 1218.5h0M1944.5 1086.5h0M1935.5 1155.5h0M1935.5 1104.5h0M1941.5 1272.5h0M1938.5 1302.5h0M1962.5 1209.5h0M1965.5 1206.5h0M1977.5 1170.5h0M1980.5 1218.5h0M1980.5 1116.5h0M1977.5 1254.5h0M1968.5 1242.5h0M1977.5 1200.5h0M1974.5 1155.5h0M1962.5 1239.5h0M1977.5 1194.5h0M1968.5 1254.5h0M1977.5 1176.5h0M1965.5 1260.5h0M1980.5 1326.5h0M1968.5 1278.5h0M1968.5 1251.5h0M1977.5 1239.5h0M1968.5 1305.5h0M1968.5 1173.5h0M1971.5 1257.5h0M1962.5 1206.5h0M1968.5 1227.5h0M1962.5 1167.5h0M1971.5 1239.5h0M1980.5 1254.5h0M1971.5 1260.5h0M1974.5 1161.5h0M1962.5 1164.5h0M1980.5 1281.5h0M1968.5 1248.5h0M1971.5 1335.5h0M1974.5 1245.5h0M1971.5 1206.5h0M1980.5 1293.5h0M1971.5 1176.5h0M1971.5 1293.5h0M1980.5 1257.5h0M1965.5 1278.5h0M1974.5 1194.5h0M1977.5 1191.5h0M1980.5 1182.5h0M1968.5 1215.5h0M1968.5 1185.5h0M1965.5 1152.5h0M1962.5 1179.5h0M1974.5 1221.5h0M1974.5 1200.5h0M1974.5 1179.5h0M1965.5 1176.5h0M1968.5 1323.5h0M1965.5 1248.5h0M1974.5 1215.5h0M1971.5 1212.5h0M1980.5 1248.5h0M1971.5 1227.5h0M1968.5 1293.5h0M1977.5 1143.5h0M1968.5 1134.5h0M1977.5 1275.5h0M1977.5 1245.5h0M1980.5 1212.5h0M1980.5 1143.5h0M1965.5 1263.5h0M1971.5 1245.5h0M1968.5 1296.5h0M1980.5 1236.5h0M1971.5 1185.5h0M1968.5 1197.5h0M1974.5 1293.5h0M1971.5 1137.5h0M1971.5 1221.5h0M1974.5 1278.5h0M1968.5 1194.5h0M1962.5 1251.5h0M1974.5 1233.5h0M1965.5 1230.5h0M1974.5 1188.5h0M1974.5 1251.5h0M1974.5 1263.5h0M1977.5 1188.5h0M1974.5 1206.5h0M1971.5 1233.5h0M1962.5 1233.5h0M1965.5 1218.5h0M1968.5 1218.5h0M1968.5 1146.5h0M1962.5 1278.5h0M1977.5 1146.5h0M1965.5 1284.5h0M1965.5 1212.5h0M1962.5 1260.5h0M1962.5 1221.5h0M1968.5 1140.5h0M1974.5 1317.5h0M1971.5 1215.5h0M1977.5 1263.5h0M1971.5 1230.5h0M1971.5 1188.5h0M1977.5 1221.5h0M1962.5 1242.5h0M1980.5 1296.5h0M1980.5 1230.5h0M1974.5 1275.5h0M1962.5 1248.5h0M1974.5 1323.5h0M1974.5 1257.5h0M1971.5 1323.5h0M1977.5 1272.5h0M1980.5 1179.5h0M1968.5 1260.5h0M1974.5 1242.5h0M1968.5 1191.5h0M1980.5 1233.5h0M1974.5 1239.5h0M1977.5 1281.5h0M1974.5 1236.5h0M1965.5 1314.5h0M1968.5 1317.5h0M1968.5 1182.5h0M1980.5 1215.5h0M1965.5 1269.5h0M1971.5 1311.5h0M1977.5 1203.5h0M1980.5 1140.5h0M1968.5 1239.5h0M1980.5 1245.5h0M1968.5 1170.5h0M1965.5 1242.5h0M1965.5 1293.5h0M1974.5 1209.5h0M1980.5 1176.5h0M1974.5 1173.5h0M1974.5 1269.5h0M1980.5 1221.5h0M1980.5 1206.5h0M1977.5 1236.5h0M1977.5 1242.5h0M1974.5 1227.5h0M1965.5 1149.5h0M1974.5 1311.5h0M1971.5 1197.5h0M1971.5 1209.5h0M1977.5 1149.5h0M1977.5 1284.5h0M1962.5 1176.5h0M1968.5 1179.5h0M1968.5 1206.5h0M1980.5 1194.5h0M1968.5 1233.5h0M1968.5 1245.5h0M1971.5 1158.5h0M1980.5 1239.5h0M1971.5 1203.5h0M1971.5 1179.5h0M1974.5 1260.5h0M1962.5 1284.5h0M1962.5 1152.5h0M1971.5 1278.5h0M1965.5 1116.5h0M1980.5 1335.5h0M1971.5 1071.5h0M2010.5 1305.5h0M1995.5 1278.5h0M2013.5 1329.5h0M2001.5 1254.5h0M2007.5 1296.5h0M2001.5 1269.5h0M1998.5 1269.5h0M1998.5 1281.5h0M2007.5 1332.5h0M2007.5 1251.5h0M2010.5 1299.5h0M2007.5 1287.5h0M2010.5 1308.5h0M1995.5 1317.5h0M1998.5 1338.5h0M2013.5 1254.5h0M1998.5 1353.5h0M2001.5 1236.5h0M2004.5 1305.5h0M1998.5 1266.5h0M2004.5 1287.5h0M2004.5 1290.5h0M2001.5 1290.5h0M2004.5 1347.5h0M2010.5 1356.5h0M2013.5 1311.5h0M2007.5 1329.5h0M2007.5 1302.5h0M2004.5 1254.5h0M2010.5 1242.5h0M1995.5 1296.5h0M2013.5 1290.5h0M2001.5 1227.5h0M2007.5 1275.5h0M1998.5 1365.5h0M1995.5 1281.5h0M2007.5 1362.5h0M2001.5 1317.5h0M1998.5 1380.5h0M1998.5 1320.5h0M2004.5 1263.5h0M2013.5 1386.5h0M2007.5 1239.5h0M2010.5 1287.5h0M2013.5 1371.5h0M2007.5 1284.5h0M2001.5 1248.5h0M2001.5 1275.5h0M1998.5 1305.5h0M2013.5 1293.5h0M2010.5 1362.5h0M2001.5 1332.5h0M1995.5 1287.5h0M2001.5 1221.5h0M2001.5 1335.5h0M2004.5 1293.5h0M1998.5 1299.5h0M2013.5 1338.5h0M2013.5 1284.5h0M1998.5 1287.5h0M2007.5 1305.5h0M1995.5 1263.5h0M2007.5 1308.5h0M2010.5 1269.5h0M1995.5 1341.5h0M2010.5 1329.5h0M1998.5 1329.5h0M2007.5 1350.5h0M1995.5 1290.5h0M2001.5 1263.5h0M2004.5 1275.5h0M1995.5 1359.5h0M2013.5 1302.5h0M1998.5 1341.5h0M2001.5 1308.5h0M2007.5 1335.5h0M1998.5 1239.5h0M2007.5 1317.5h0M2013.5 1323.5h0M2004.5 1272.5h0M2001.5 1257.5h0M2001.5 1293.5h0M2013.5 1308.5h0M2004.5 1284.5h0M2001.5 1347.5h0M2007.5 1323.5h0M1998.5 1278.5h0M1995.5 1323.5h0M2013.5 1278.5h0M1998.5 1377.5h0M1998.5 1260.5h0M2001.5 1353.5h0M2010.5 1359.5h0M2013.5 1263.5h0M1998.5 1284.5h0M2007.5 1320.5h0M2010.5 1272.5h0M2010.5 1248.5h0M2001.5 1260.5h0M1995.5 1419.5h0M1995.5 1254.5h0M2004.5 1329.5h0M2001.5 1359.5h0M2007.5 1278.5h0M2004.5 1338.5h0M2001.5 1281.5h0M2013.5 1227.5h0M2007.5 1380.5h0M1998.5 1323.5h0M1998.5 1404.5h0M2013.5 1332.5h0M2004.5 1251.5h0M1998.5 1227.5h0M2010.5 1296.5h0M2001.5 1356.5h0M1995.5 1383.5h0M2010.5 1293.5h0M2004.5 1383.5h0M2010.5 1266.5h0M2013.5 1287.5h0M2004.5 1233.5h0M2010.5 1290.5h0M2010.5 1281.5h0M1995.5 1401.5h0M1998.5 1314.5h0M1995.5 1392.5h0M2010.5 1317.5h0M1995.5 1389.5h0M2010.5 1257.5h0M2010.5 1206.5h0M2010.5 1368.5h0M2004.5 1218.5h0M2001.5 1329.5h0M1995.5 1248.5h0M2007.5 1233.5h0M2004.5 1257.5h0M2007.5 1248.5h0M1998.5 1359.5h0M2013.5 1320.5h0M1998.5 1251.5h0M2004.5 1344.5h0M2013.5 1188.5h0M2013.5 1365.5h0M1995.5 1353.5h0M1995.5 1374.5h0M2007.5 1236.5h0M2013.5 1374.5h0M1998.5 1272.5h0M1998.5 1311.5h0M1995.5 1338.5h0M2010.5 1284.5h0M2001.5 1389.5h0M2001.5 1251.5h0M1995.5 1416.5h0M2013.5 1221.5h0M2001.5 1287.5h0M2004.5 1308.5h0M1998.5 1332.5h0M2001.5 1314.5h0M1998.5 1395.5h0M2001.5 1284.5h0M2004.5 1242.5h0M1995.5 1302.5h0M1995.5 1293.5h0M2013.5 1281.5h0M2007.5 1176.5h0M2013.5 1437.5h0M2040.5 1347.5h0M2028.5 1395.5h0M2028.5 1356.5h0M2034.5 1434.5h0M2040.5 1452.5h0M2043.5 1359.5h0M2037.5 1362.5h0M2028.5 1362.5h0M2040.5 1332.5h0M2034.5 1395.5h0M2043.5 1365.5h0M2028.5 1401.5h0M2028.5 1344.5h0M2034.5 1422.5h0M2040.5 1368.5h0M2034.5 1389.5h0M2028.5 1281.5h0M2046.5 1395.5h0M2031.5 1407.5h0M2031.5 1350.5h0M2040.5 1449.5h0M2046.5 1335.5h0M2037.5 1419.5h0M2046.5 1392.5h0M2043.5 1347.5h0M2031.5 1269.5h0M2034.5 1401.5h0M2043.5 1320.5h0M2043.5 1368.5h0M2046.5 1350.5h0M2031.5 1329.5h0M2034.5 1419.5h0M2037.5 1416.5h0M2046.5 1383.5h0M2028.5 1377.5h0M2034.5 1308.5h0M2034.5 1338.5h0M2046.5 1407.5h0M2028.5 1383.5h0M2043.5 1308.5h0M2034.5 1281.5h0M2028.5 1416.5h0M2037.5 1410.5h0M2043.5 1398.5h0M2046.5 1374.5h0M2034.5 1470.5h0M2028.5 1350.5h0M2034.5 1416.5h0M2046.5 1299.5h0M2034.5 1431.5h0M2043.5 1377.5h0M2037.5 1443.5h0M2040.5 1356.5h0M2034.5 1368.5h0M2046.5 1389.5h0M2046.5 1332.5h0M2037.5 1455.5h0M2034.5 1323.5h0M2031.5 1395.5h0M2037.5 1371.5h0M2034.5 1374.5h0M2040.5 1401.5h0M2043.5 1404.5h0M2034.5 1365.5h0M2037.5 1368.5h0M2034.5 1443.5h0M2031.5 1320.5h0M2028.5 1452.5h0M2037.5 1341.5h0M2043.5 1401.5h0M2031.5 1374.5h0M2040.5 1380.5h0M2031.5 1413.5h0M2034.5 1449.5h0M2034.5 1461.5h0M2043.5 1326.5h0M2040.5 1353.5h0M2043.5 1356.5h0M2028.5 1398.5h0M2028.5 1404.5h0M2031.5 1299.5h0M2031.5 1392.5h0M2034.5 1383.5h0M2031.5 1443.5h0M2037.5 1365.5h0M2031.5 1398.5h0M2028.5 1446.5h0M2034.5 1440.5h0M2046.5 1380.5h0M2043.5 1332.5h0M2043.5 1374.5h0M2028.5 1413.5h0M2040.5 1416.5h0M2040.5 1404.5h0M2037.5 1407.5h0M2043.5 1440.5h0M2037.5 1386.5h0M2031.5 1359.5h0M2034.5 1311.5h0M2046.5 1371.5h0M2037.5 1461.5h0M2046.5 1413.5h0M2028.5 1359.5h0M2028.5 1296.5h0M2043.5 1395.5h0M2043.5 1350.5h0M2040.5 1323.5h0M2037.5 1404.5h0M2031.5 1371.5h0M2043.5 1290.5h0M2046.5 1362.5h0M2028.5 1407.5h0M2031.5 1338.5h0M2028.5 1293.5h0M2031.5 1335.5h0M2046.5 1365.5h0M2031.5 1437.5h0M2040.5 1425.5h0M2034.5 1404.5h0M2046.5 1404.5h0M2034.5 1437.5h0M2043.5 1362.5h0M2043.5 1386.5h0M2046.5 1338.5h0M2040.5 1377.5h0M2046.5 1356.5h0M2037.5 1320.5h0M2046.5 1311.5h0M2034.5 1392.5h0M2046.5 1329.5h0M2040.5 1485.5h0M2040.5 1338.5h0M2040.5 1362.5h0M2028.5 1320.5h0M2031.5 1440.5h0M2040.5 1311.5h0M2028.5 1302.5h0M2028.5 1410.5h0M2034.5 1362.5h0M2037.5 1392.5h0M2028.5 1314.5h0M2040.5 1413.5h0M2043.5 1416.5h0M2028.5 1371.5h0M2037.5 1323.5h0M2028.5 1428.5h0M2040.5 1389.5h0M2031.5 1479.5h0M2046.5 1344.5h0M2040.5 1374.5h0M2028.5 1386.5h0M2043.5 1317.5h0M2037.5 1314.5h0M2037.5 1344.5h0M2043.5 1335.5h0M2037.5 1389.5h0M2031.5 1389.5h0M2028.5 1260.5h0M2043.5 1323.5h0M2046.5 1296.5h0M2037.5 1380.5h0M2043.5 1485.5h0M2067.5 1419.5h0M2067.5 1482.5h0M2079.5 1542.5h0M2070.5 1461.5h0M2064.5 1386.5h0M2076.5 1428.5h0M2076.5 1386.5h0M2079.5 1479.5h0M2082.5 1392.5h0M2076.5 1491.5h0M2070.5 1428.5h0M2079.5 1428.5h0M2079.5 1377.5h0M2070.5 1452.5h0M2073.5 1476.5h0M2064.5 1455.5h0M2073.5 1446.5h0M2079.5 1410.5h0M2079.5 1425.5h0M2070.5 1536.5h0M2082.5 1437.5h0M2082.5 1470.5h0M2076.5 1356.5h0M2079.5 1464.5h0M2073.5 1368.5h0M2079.5 1404.5h0M2064.5 1443.5h0M2070.5 1458.5h0M2064.5 1356.5h0M2070.5 1551.5h0M2067.5 1347.5h0M2076.5 1515.5h0M2064.5 1380.5h0M2082.5 1461.5h0M2067.5 1431.5h0M2082.5 1425.5h0M2064.5 1515.5h0M2064.5 1407.5h0M2064.5 1425.5h0M2073.5 1497.5h0M2064.5 1452.5h0M2082.5 1419.5h0M2079.5 1497.5h0M2073.5 1392.5h0M2070.5 1488.5h0M2079.5 1353.5h0M2076.5 1479.5h0M2079.5 1446.5h0M2070.5 1476.5h0M2079.5 1449.5h0M2082.5 1458.5h0M2067.5 1407.5h0M2082.5 1368.5h0M2073.5 1386.5h0M2064.5 1446.5h0M2076.5 1431.5h0M2064.5 1500.5h0M2073.5 1509.5h0M2073.5 1461.5h0M2079.5 1374.5h0M2070.5 1506.5h0M2067.5 1473.5h0M2064.5 1419.5h0M2082.5 1464.5h0M2082.5 1401.5h0M2067.5 1377.5h0M2067.5 1401.5h0M2079.5 1383.5h0M2067.5 1392.5h0M2070.5 1425.5h0M2082.5 1494.5h0M2067.5 1398.5h0M2076.5 1464.5h0M2064.5 1461.5h0M2082.5 1395.5h0M2076.5 1509.5h0M2079.5 1452.5h0M2079.5 1467.5h0M2064.5 1503.5h0M2082.5 1449.5h0M2082.5 1398.5h0M2076.5 1404.5h0M2067.5 1494.5h0M2064.5 1458.5h0M2079.5 1455.5h0M2079.5 1494.5h0M2076.5 1467.5h0M2064.5 1488.5h0M2082.5 1488.5h0M2067.5 1380.5h0M2082.5 1473.5h0M2070.5 1416.5h0M2076.5 1473.5h0M2082.5 1380.5h0M2073.5 1515.5h0M2067.5 1425.5h0M2070.5 1491.5h0M2064.5 1476.5h0M2070.5 1398.5h0M2070.5 1509.5h0M2076.5 1488.5h0M2064.5 1440.5h0M2067.5 1404.5h0M2082.5 1374.5h0M2064.5 1401.5h0M2073.5 1485.5h0M2079.5 1362.5h0M2082.5 1443.5h0M2067.5 1443.5h0M2073.5 1410.5h0M2079.5 1434.5h0M2079.5 1419.5h0M2076.5 1458.5h0M2079.5 1401.5h0M2070.5 1524.5h0M2064.5 1479.5h0M2067.5 1386.5h0M2070.5 1353.5h0M2079.5 1389.5h0M2076.5 1383.5h0M2064.5 1491.5h0M2070.5 1446.5h0M2073.5 1437.5h0M2073.5 1455.5h0M2073.5 1431.5h0M2067.5 1521.5h0M2076.5 1335.5h0M2079.5 1548.5h0M2067.5 1452.5h0M2070.5 1521.5h0M2070.5 1455.5h0M2076.5 1398.5h0M2073.5 1428.5h0M2079.5 1392.5h0M2076.5 1380.5h0M2082.5 1428.5h0M2070.5 1434.5h0M2067.5 1428.5h0M2076.5 1545.5h0M2070.5 1473.5h0M2070.5 1344.5h0M2064.5 1431.5h0M2082.5 1422.5h0M2073.5 1458.5h0M2070.5 1422.5h0M2067.5 1467.5h0M2082.5 1341.5h0M2073.5 1380.5h0M2082.5 1386.5h0M2076.5 1461.5h0M2082.5 1407.5h0M2070.5 1500.5h0M2070.5 1539.5h0M2079.5 1368.5h0M2082.5 1440.5h0M2079.5 1443.5h0M2073.5 1425.5h0M2073.5 1500.5h0M2076.5 1407.5h0M2073.5 1329.5h0M2097.5 1497.5h0M2097.5 1461.5h0M2100.5 1491.5h0M2106.5 1452.5h0M2112.5 1425.5h0M2103.5 1416.5h0M2106.5 1497.5h0M2103.5 1536.5h0M2100.5 1467.5h0M2112.5 1488.5h0M2112.5 1548.5h0M2115.5 1458.5h0M2103.5 1407.5h0M2100.5 1485.5h0M2106.5 1494.5h0M2100.5 1446.5h0M2103.5 1494.5h0M2109.5 1494.5h0M2106.5 1476.5h0M2115.5 1425.5h0M2097.5 1434.5h0M2103.5 1557.5h0M2109.5 1506.5h0M2109.5 1449.5h0M2112.5 1437.5h0M2106.5 1491.5h0M2115.5 1386.5h0M2109.5 1476.5h0M2097.5 1506.5h0M2100.5 1404.5h0M2115.5 1476.5h0M2100.5 1482.5h0M2115.5 1554.5h0M2115.5 1512.5h0M2109.5 1503.5h0M2097.5 1470.5h0M2103.5 1521.5h0M2100.5 1437.5h0M2112.5 1515.5h0M2097.5 1449.5h0M2115.5 1464.5h0M2100.5 1479.5h0M2103.5 1464.5h0M2103.5 1455.5h0M2106.5 1572.5h0M2103.5 1551.5h0M2112.5 1491.5h0M2103.5 1524.5h0M2109.5 1500.5h0M2109.5 1470.5h0M2109.5 1497.5h0M2097.5 1482.5h0M2097.5 1533.5h0M2115.5 1461.5h0M2115.5 1491.5h0M2100.5 1569.5h0M2103.5 1530.5h0M2106.5 1386.5h0M2100.5 1503.5h0M2115.5 1500.5h0M2115.5 1449.5h0M2109.5 1482.5h0M2106.5 1470.5h0M2100.5 1452.5h0M2103.5 1425.5h0M2103.5 1434.5h0M2106.5 1449.5h0M2115.5 1470.5h0M2103.5 1470.5h0M2115.5 1440.5h0M2115.5 1521.5h0M2106.5 1512.5h0M2115.5 1488.5h0M2106.5 1425.5h0M2115.5 1497.5h0M2106.5 1509.5h0M2109.5 1458.5h0M2109.5 1539.5h0M2109.5 1383.5h0M2103.5 1515.5h0M2097.5 1524.5h0M2106.5 1500.5h0M2100.5 1551.5h0M2097.5 1491.5h0M2103.5 1485.5h0M2103.5 1518.5h0M2112.5 1533.5h0M2097.5 1437.5h0M2115.5 1533.5h0M2106.5 1530.5h0M2100.5 1539.5h0M2097.5 1467.5h0M2100.5 1431.5h0M2100.5 1515.5h0M2100.5 1566.5h0M2109.5 1536.5h0M2100.5 1470.5h0M2106.5 1485.5h0M2112.5 1452.5h0M2115.5 1446.5h0M2100.5 1416.5h0M2106.5 1419.5h0M2112.5 1461.5h0M2106.5 1575.5h0M2103.5 1512.5h0M2103.5 1449.5h0M2100.5 1440.5h0M2103.5 1467.5h0M2097.5 1422.5h0M2103.5 1548.5h0M2103.5 1488.5h0M2115.5 1473.5h0M2106.5 1467.5h0M2097.5 1542.5h0M2106.5 1455.5h0M2112.5 1512.5h0M2100.5 1554.5h0M2100.5 1401.5h0M2103.5 1506.5h0M2097.5 1455.5h0M2100.5 1521.5h0M2115.5 1506.5h0M2109.5 1464.5h0M2115.5 1431.5h0M2112.5 1506.5h0M2112.5 1482.5h0M2112.5 1476.5h0M2109.5 1443.5h0M2112.5 1467.5h0M2097.5 1416.5h0M2112.5 1458.5h0M2109.5 1434.5h0M2106.5 1428.5h0M2103.5 1491.5h0M2109.5 1521.5h0M2100.5 1449.5h0M2112.5 1404.5h0M2100.5 1509.5h0M2109.5 1491.5h0M2103.5 1509.5h0M2100.5 1536.5h0M2115.5 1422.5h0M2112.5 1446.5h0M2115.5 1530.5h0M2112.5 1536.5h0M2112.5 1524.5h0M2106.5 1536.5h0M2097.5 1446.5h0M2109.5 1509.5h0M2115.5 1515.5h0M2097.5 1578.5h0M2100.5 1494.5h0M2106.5 1446.5h0M2115.5 1383.5h0M2115.5 1578.5h0M2133.5 1527.5h0M2130.5 1494.5h0M2130.5 1446.5h0M2133.5 1533.5h0M2145.5 1551.5h0M2136.5 1512.5h0M2130.5 1524.5h0M2136.5 1479.5h0M2133.5 1443.5h0M2139.5 1470.5h0M2148.5 1524.5h0M2130.5 1425.5h0M2142.5 1464.5h0M2136.5 1443.5h0M2130.5 1530.5h0M2139.5 1521.5h0M2136.5 1545.5h0M2136.5 1467.5h0M2133.5 1500.5h0M2136.5 1548.5h0M2136.5 1461.5h0M2142.5 1518.5h0M2133.5 1548.5h0M2130.5 1491.5h0M2130.5 1515.5h0M2145.5 1515.5h0M2139.5 1482.5h0M2133.5 1560.5h0M2148.5 1515.5h0M2133.5 1476.5h0M2142.5 1566.5h0M2148.5 1443.5h0M2136.5 1575.5h0M2136.5 1551.5h0M2130.5 1479.5h0M2142.5 1530.5h0M2145.5 1542.5h0M2136.5 1485.5h0M2148.5 1470.5h0M2136.5 1476.5h0M2136.5 1560.5h0M2145.5 1446.5h0M2142.5 1548.5h0M2145.5 1473.5h0M2142.5 1527.5h0M2145.5 1464.5h0M2148.5 1560.5h0M2145.5 1503.5h0M2145.5 1536.5h0M2139.5 1548.5h0M2148.5 1497.5h0M2136.5 1470.5h0M2130.5 1512.5h0M2142.5 1437.5h0M2130.5 1497.5h0M2133.5 1446.5h0M2139.5 1443.5h0M2139.5 1518.5h0M2142.5 1515.5h0M2148.5 1551.5h0M2142.5 1560.5h0M2145.5 1530.5h0M2133.5 1512.5h0M2142.5 1500.5h0M2139.5 1551.5h0M2133.5 1452.5h0M2139.5 1467.5h0M2142.5 1539.5h0M2142.5 1482.5h0M2142.5 1491.5h0M2145.5 1500.5h0M2130.5 1521.5h0M2136.5 1557.5h0M2145.5 1458.5h0M2139.5 1476.5h0M2142.5 1410.5h0M2148.5 1509.5h0M2145.5 1470.5h0M2142.5 1536.5h0M2133.5 1428.5h0M2145.5 1485.5h0M2148.5 1476.5h0M2133.5 1464.5h0M2142.5 1461.5h0M2130.5 1407.5h0M2133.5 1491.5h0M2139.5 1530.5h0M2139.5 1428.5h0M2133.5 1506.5h0M2133.5 1521.5h0M2133.5 1515.5h0M2142.5 1416.5h0M2139.5 1437.5h0M2142.5 1488.5h0M2145.5 1488.5h0M2136.5 1524.5h0M2136.5 1503.5h0M2148.5 1482.5h0M2145.5 1566.5h0M2133.5 1518.5h0M2142.5 1485.5h0M2130.5 1509.5h0M2133.5 1530.5h0M2130.5 1560.5h0M2142.5 1431.5h0M2136.5 1521.5h0M2148.5 1419.5h0M2133.5 1449.5h0M2139.5 1509.5h0M2139.5 1539.5h0M2130.5 1467.5h0M2130.5 1500.5h0M2142.5 1479.5h0M2130.5 1470.5h0M2130.5 1551.5h0M2136.5 1518.5h0M2139.5 1554.5h0M2130.5 1554.5h0M2133.5 1488.5h0M2145.5 1434.5h0M2130.5 1518.5h0M2142.5 1551.5h0M2148.5 1530.5h0M2130.5 1566.5h0M2130.5 1581.5h0M2142.5 1506.5h0M2145.5 1581.5h0M2145.5 1494.5h0M2133.5 1482.5h0M2142.5 1449.5h0M2145.5 1521.5h0M2133.5 1458.5h0M2133.5 1503.5h0M2148.5 1479.5h0M2142.5 1533.5h0M2130.5 1563.5h0M2142.5 1470.5h0M2142.5 1509.5h0M2148.5 1452.5h0M2142.5 1494.5h0M2133.5 1497.5h0M2136.5 1509.5h0M2145.5 1509.5h0M2139.5 1491.5h0M2142.5 1512.5h0M2130.5 1536.5h0M2136.5 1491.5h0M2136.5 1584.5h0M2145.5 1482.5h0M2133.5 1539.5h0M2130.5 1488.5h0M2136.5 1527.5h0M2145.5 1437.5h0M2139.5 1401.5h0M2145.5 1596.5h0M2139.5 1395.5h0M2169.5 1560.5h0M2163.5 1479.5h0M2169.5 1488.5h0M2163.5 1524.5h0M2163.5 1443.5h0M2169.5 1476.5h0M2172.5 1461.5h0M2169.5 1416.5h0M2163.5 1437.5h0M2163.5 1512.5h0M2181.5 1482.5h0M2178.5 1491.5h0M2181.5 1518.5h0M2172.5 1569.5h0M2172.5 1518.5h0M2178.5 1518.5h0M2178.5 1488.5h0M2175.5 1455.5h0M2169.5 1485.5h0M2172.5 1479.5h0M2181.5 1473.5h0M2172.5 1491.5h0M2181.5 1431.5h0M2178.5 1512.5h0M2175.5 1488.5h0M2163.5 1407.5h0M2172.5 1431.5h0M2163.5 1482.5h0M2169.5 1536.5h0M2166.5 1491.5h0M2175.5 1443.5h0M2169.5 1527.5h0M2175.5 1473.5h0M2175.5 1422.5h0M2172.5 1488.5h0M2163.5 1467.5h0M2172.5 1485.5h0M2163.5 1452.5h0M2172.5 1548.5h0M2163.5 1455.5h0M2178.5 1485.5h0M2169.5 1440.5h0M2169.5 1497.5h0M2181.5 1560.5h0M2163.5 1569.5h0M2169.5 1551.5h0M2169.5 1434.5h0M2169.5 1410.5h0M2178.5 1467.5h0M2172.5 1437.5h0M2166.5 1488.5h0M2166.5 1503.5h0M2163.5 1476.5h0M2178.5 1449.5h0M2175.5 1446.5h0M2181.5 1434.5h0M2175.5 1533.5h0M2181.5 1425.5h0M2181.5 1485.5h0M2175.5 1434.5h0M2178.5 1452.5h0M2181.5 1458.5h0M2166.5 1443.5h0M2163.5 1458.5h0M2163.5 1527.5h0M2172.5 1530.5h0M2166.5 1407.5h0M2166.5 1470.5h0M2181.5 1503.5h0M2181.5 1515.5h0M2175.5 1512.5h0M2166.5 1476.5h0M2172.5 1497.5h0M2169.5 1455.5h0M2169.5 1494.5h0M2163.5 1434.5h0M2175.5 1458.5h0M2175.5 1464.5h0M2178.5 1533.5h0M2172.5 1428.5h0M2169.5 1548.5h0M2166.5 1500.5h0M2166.5 1446.5h0M2175.5 1428.5h0M2178.5 1527.5h0M2166.5 1431.5h0M2181.5 1467.5h0M2172.5 1509.5h0M2175.5 1449.5h0M2178.5 1461.5h0M2175.5 1518.5h0M2172.5 1440.5h0M2169.5 1533.5h0M2163.5 1536.5h0M2163.5 1533.5h0M2169.5 1503.5h0M2163.5 1506.5h0M2178.5 1602.5h0M2163.5 1404.5h0M2172.5 1422.5h0M2169.5 1515.5h0M2166.5 1485.5h0M2175.5 1398.5h0M2175.5 1470.5h0M2175.5 1503.5h0M2163.5 1485.5h0M2175.5 1548.5h0M2169.5 1461.5h0M2175.5 1536.5h0M2163.5 1425.5h0M2181.5 1497.5h0M2181.5 1527.5h0M2163.5 1431.5h0M2175.5 1542.5h0M2166.5 1482.5h0M2172.5 1476.5h0M2166.5 1515.5h0M2166.5 1473.5h0M2178.5 1407.5h0M2178.5 1509.5h0M2178.5 1494.5h0M2172.5 1500.5h0M2166.5 1434.5h0M2181.5 1548.5h0M2175.5 1530.5h0M2178.5 1515.5h0M2181.5 1449.5h0M2172.5 1539.5h0M2178.5 1458.5h0M2169.5 1413.5h0M2163.5 1548.5h0M2163.5 1488.5h0M2163.5 1530.5h0M2163.5 1539.5h0M2181.5 1407.5h0M2166.5 1542.5h0M2166.5 1539.5h0M2172.5 1566.5h0M2163.5 1497.5h0M2178.5 1557.5h0M2175.5 1575.5h0M2163.5 1518.5h0M2166.5 1464.5h0M2181.5 1572.5h0M2178.5 1554.5h0M2169.5 1398.5h0M2178.5 1608.5h0M2172.5 1353.5h0M2172.5 1362.5h0M2211.5 1485.5h0M2205.5 1485.5h0M2214.5 1488.5h0M2211.5 1395.5h0M2214.5 1359.5h0M2199.5 1494.5h0M2214.5 1434.5h0M2196.5 1509.5h0M2199.5 1413.5h0M2196.5 1518.5h0M2199.5 1479.5h0M2205.5 1491.5h0M2214.5 1401.5h0M2202.5 1494.5h0M2208.5 1443.5h0M2202.5 1464.5h0M2199.5 1536.5h0M2211.5 1362.5h0M2202.5 1386.5h0M2211.5 1473.5h0M2205.5 1464.5h0M2208.5 1410.5h0M2196.5 1503.5h0M2205.5 1440.5h0M2199.5 1488.5h0M2214.5 1482.5h0M2202.5 1482.5h0M2199.5 1461.5h0M2211.5 1500.5h0M2211.5 1467.5h0M2208.5 1416.5h0M2208.5 1497.5h0M2199.5 1434.5h0M2214.5 1449.5h0M2199.5 1452.5h0M2202.5 1377.5h0M2202.5 1407.5h0M2202.5 1503.5h0M2214.5 1470.5h0M2211.5 1458.5h0M2196.5 1398.5h0M2211.5 1386.5h0M2205.5 1515.5h0M2211.5 1410.5h0M2211.5 1431.5h0M2214.5 1419.5h0M2202.5 1452.5h0M2202.5 1521.5h0M2196.5 1491.5h0M2214.5 1494.5h0M2202.5 1530.5h0M2211.5 1398.5h0M2211.5 1515.5h0M2199.5 1527.5h0M2202.5 1461.5h0M2199.5 1446.5h0M2205.5 1467.5h0M2208.5 1470.5h0M2199.5 1554.5h0M2214.5 1386.5h0M2199.5 1470.5h0M2211.5 1482.5h0M2199.5 1467.5h0M2214.5 1389.5h0M2208.5 1584.5h0M2202.5 1398.5h0M2196.5 1455.5h0M2211.5 1419.5h0M2196.5 1416.5h0M2196.5 1476.5h0M2199.5 1473.5h0M2196.5 1401.5h0M2214.5 1503.5h0M2211.5 1437.5h0M2205.5 1455.5h0M2205.5 1524.5h0M2196.5 1494.5h0M2208.5 1473.5h0M2208.5 1512.5h0M2199.5 1404.5h0M2205.5 1536.5h0M2211.5 1557.5h0M2214.5 1395.5h0M2214.5 1467.5h0M2208.5 1503.5h0M2199.5 1377.5h0M2208.5 1476.5h0M2208.5 1452.5h0M2199.5 1416.5h0M2202.5 1434.5h0M2208.5 1392.5h0M2202.5 1512.5h0M2199.5 1401.5h0M2199.5 1449.5h0M2196.5 1464.5h0M2199.5 1419.5h0M2199.5 1575.5h0M2196.5 1473.5h0M2205.5 1476.5h0M2205.5 1488.5h0M2208.5 1458.5h0M2205.5 1431.5h0M2208.5 1464.5h0M2205.5 1542.5h0M2208.5 1455.5h0M2196.5 1458.5h0M2199.5 1428.5h0M2202.5 1509.5h0M2196.5 1449.5h0M2205.5 1413.5h0M2211.5 1509.5h0M2208.5 1371.5h0M2214.5 1431.5h0M2202.5 1458.5h0M2214.5 1446.5h0M2211.5 1380.5h0M2202.5 1575.5h0M2196.5 1446.5h0M2205.5 1458.5h0M2211.5 1428.5h0M2199.5 1422.5h0M2214.5 1569.5h0M2211.5 1464.5h0M2208.5 1530.5h0M2202.5 1413.5h0M2208.5 1488.5h0M2205.5 1452.5h0M2208.5 1362.5h0M2202.5 1449.5h0M2214.5 1530.5h0M2196.5 1488.5h0M2208.5 1479.5h0M2205.5 1437.5h0M2211.5 1569.5h0M2196.5 1434.5h0M2208.5 1467.5h0M2202.5 1491.5h0M2211.5 1494.5h0M2208.5 1536.5h0M2202.5 1428.5h0M2196.5 1362.5h0M2196.5 1428.5h0M2211.5 1497.5h0M2196.5 1512.5h0M2205.5 1443.5h0M2202.5 1455.5h0M2208.5 1494.5h0M2199.5 1551.5h0M2202.5 1488.5h0M2196.5 1485.5h0M2196.5 1515.5h0M2202.5 1500.5h0M2196.5 1425.5h0M2196.5 1482.5h0M2211.5 1434.5h0M2199.5 1440.5h0M2211.5 1416.5h0M2196.5 1500.5h0M2199.5 1443.5h0M2196.5 1497.5h0M2208.5 1506.5h0M2208.5 1437.5h0M2211.5 1347.5h0M2205.5 1584.5h0M2241.5 1329.5h0M2235.5 1371.5h0M2229.5 1449.5h0M2232.5 1485.5h0M2232.5 1416.5h0M2241.5 1386.5h0M2229.5 1392.5h0M2244.5 1380.5h0M2241.5 1404.5h0M2238.5 1410.5h0M2232.5 1332.5h0M2232.5 1437.5h0M2244.5 1416.5h0M2229.5 1458.5h0M2247.5 1434.5h0M2229.5 1452.5h0M2244.5 1392.5h0M2244.5 1458.5h0M2244.5 1410.5h0M2241.5 1380.5h0M2247.5 1425.5h0M2235.5 1407.5h0M2247.5 1404.5h0M2232.5 1440.5h0M2229.5 1362.5h0M2247.5 1332.5h0M2241.5 1392.5h0M2235.5 1383.5h0M2238.5 1398.5h0M2238.5 1347.5h0M2232.5 1404.5h0M2241.5 1401.5h0M2235.5 1404.5h0M2241.5 1353.5h0M2232.5 1356.5h0M2232.5 1491.5h0M2247.5 1317.5h0M2247.5 1428.5h0M2247.5 1371.5h0M2238.5 1383.5h0M2229.5 1431.5h0M2241.5 1434.5h0M2235.5 1485.5h0M2238.5 1359.5h0M2229.5 1455.5h0M2229.5 1374.5h0M2241.5 1365.5h0M2235.5 1380.5h0M2241.5 1419.5h0M2235.5 1431.5h0M2235.5 1449.5h0M2232.5 1395.5h0M2247.5 1431.5h0M2241.5 1440.5h0M2235.5 1344.5h0M2244.5 1350.5h0M2238.5 1479.5h0M2238.5 1356.5h0M2238.5 1404.5h0M2244.5 1434.5h0M2229.5 1464.5h0M2229.5 1380.5h0M2229.5 1440.5h0M2232.5 1419.5h0M2229.5 1368.5h0M2244.5 1491.5h0M2244.5 1443.5h0M2235.5 1470.5h0M2241.5 1398.5h0M2229.5 1371.5h0M2247.5 1353.5h0M2232.5 1413.5h0M2241.5 1371.5h0M2229.5 1389.5h0M2229.5 1386.5h0M2229.5 1377.5h0M2232.5 1335.5h0M2235.5 1389.5h0M2238.5 1446.5h0M2235.5 1362.5h0M2235.5 1518.5h0M2235.5 1368.5h0M2247.5 1410.5h0M2229.5 1335.5h0M2238.5 1407.5h0M2229.5 1413.5h0M2247.5 1452.5h0M2247.5 1359.5h0M2235.5 1446.5h0M2229.5 1305.5h0M2247.5 1374.5h0M2244.5 1440.5h0M2232.5 1449.5h0M2241.5 1359.5h0M2229.5 1347.5h0M2235.5 1455.5h0M2235.5 1386.5h0M2232.5 1482.5h0M2247.5 1377.5h0M2232.5 1389.5h0M2247.5 1368.5h0M2244.5 1455.5h0M2238.5 1422.5h0M2244.5 1332.5h0M2232.5 1326.5h0M2244.5 1407.5h0M2229.5 1404.5h0M2241.5 1377.5h0M2238.5 1437.5h0M2238.5 1386.5h0M2229.5 1398.5h0M2247.5 1467.5h0M2232.5 1398.5h0M2244.5 1368.5h0M2247.5 1494.5h0M2235.5 1437.5h0M2244.5 1389.5h0M2235.5 1410.5h0M2235.5 1356.5h0M2241.5 1470.5h0M2232.5 1377.5h0M2238.5 1368.5h0M2229.5 1428.5h0M2247.5 1470.5h0M2235.5 1464.5h0M2247.5 1389.5h0M2235.5 1458.5h0M2232.5 1362.5h0M2247.5 1335.5h0M2244.5 1470.5h0M2238.5 1440.5h0M2241.5 1488.5h0M2244.5 1356.5h0M2241.5 1395.5h0M2244.5 1383.5h0M2241.5 1410.5h0M2244.5 1437.5h0M2232.5 1350.5h0M2235.5 1398.5h0M2244.5 1305.5h0M2241.5 1521.5h0M2238.5 1272.5h0M2238.5 1281.5h0M2280.5 1296.5h0M2268.5 1371.5h0M2268.5 1251.5h0M2271.5 1353.5h0M2265.5 1371.5h0M2277.5 1365.5h0M2277.5 1275.5h0M2274.5 1341.5h0M2277.5 1356.5h0M2271.5 1332.5h0M2274.5 1329.5h0M2280.5 1305.5h0M2265.5 1308.5h0M2262.5 1284.5h0M2277.5 1272.5h0M2268.5 1350.5h0M2277.5 1350.5h0M2262.5 1344.5h0M2271.5 1251.5h0M2274.5 1353.5h0M2274.5 1284.5h0M2274.5 1338.5h0M2268.5 1407.5h0M2271.5 1302.5h0M2271.5 1362.5h0M2280.5 1314.5h0M2268.5 1272.5h0M2265.5 1419.5h0M2268.5 1311.5h0M2271.5 1323.5h0M2265.5 1359.5h0M2274.5 1410.5h0M2274.5 1350.5h0M2265.5 1338.5h0M2271.5 1395.5h0M2262.5 1383.5h0M2280.5 1386.5h0M2262.5 1320.5h0M2274.5 1359.5h0M2268.5 1335.5h0M2262.5 1410.5h0M2271.5 1284.5h0M2274.5 1386.5h0M2265.5 1368.5h0M2265.5 1416.5h0M2280.5 1323.5h0M2277.5 1395.5h0M2262.5 1305.5h0M2274.5 1332.5h0M2262.5 1275.5h0M2268.5 1329.5h0M2262.5 1326.5h0M2271.5 1329.5h0M2274.5 1287.5h0M2265.5 1407.5h0M2265.5 1302.5h0M2271.5 1275.5h0M2262.5 1323.5h0M2265.5 1389.5h0M2280.5 1356.5h0M2280.5 1389.5h0M2271.5 1287.5h0M2262.5 1386.5h0M2268.5 1305.5h0M2262.5 1362.5h0M2265.5 1284.5h0M2274.5 1305.5h0M2274.5 1290.5h0M2271.5 1398.5h0M2271.5 1290.5h0M2280.5 1311.5h0M2262.5 1353.5h0M2271.5 1341.5h0M2262.5 1329.5h0M2265.5 1218.5h0M2271.5 1347.5h0M2277.5 1338.5h0M2277.5 1362.5h0M2274.5 1365.5h0M2280.5 1320.5h0M2262.5 1419.5h0M2277.5 1359.5h0M2262.5 1350.5h0M2280.5 1218.5h0M2274.5 1311.5h0M2262.5 1404.5h0M2268.5 1332.5h0M2268.5 1374.5h0M2268.5 1347.5h0M2265.5 1263.5h0M2262.5 1332.5h0M2265.5 1350.5h0M2280.5 1422.5h0M2280.5 1329.5h0M2262.5 1392.5h0M2274.5 1407.5h0M2262.5 1296.5h0M2280.5 1437.5h0M2280.5 1380.5h0M2280.5 1281.5h0M2274.5 1347.5h0M2271.5 1254.5h0M2271.5 1383.5h0M2268.5 1314.5h0M2271.5 1368.5h0M2265.5 1365.5h0M2274.5 1395.5h0M2271.5 1401.5h0M2280.5 1365.5h0M2277.5 1320.5h0M2280.5 1353.5h0M2268.5 1326.5h0M2265.5 1332.5h0M2265.5 1392.5h0M2268.5 1353.5h0M2274.5 1281.5h0M2280.5 1377.5h0M2274.5 1263.5h0M2271.5 1371.5h0M2277.5 1329.5h0M2265.5 1341.5h0M2277.5 1416.5h0M2271.5 1377.5h0M2271.5 1335.5h0M2268.5 1401.5h0M2274.5 1296.5h0M2265.5 1329.5h0M2265.5 1323.5h0M2280.5 1368.5h0M2271.5 1308.5h0M2262.5 1356.5h0M2268.5 1368.5h0M2268.5 1242.5h0M2271.5 1425.5h0M2265.5 1257.5h0M2262.5 1407.5h0M2271.5 1428.5h0M2274.5 1299.5h0M2265.5 1398.5h0M2277.5 1344.5h0M2271.5 1365.5h0M2262.5 1347.5h0M2280.5 1347.5h0M2268.5 1308.5h0M2265.5 1428.5h0M2277.5 1317.5h0M2265.5 1317.5h0M2277.5 1392.5h0M2277.5 1311.5h0M2268.5 1344.5h0M2262.5 1371.5h0M2280.5 1425.5h0M2265.5 1344.5h0M2280.5 1374.5h0M2277.5 1389.5h0M2262.5 1278.5h0M2277.5 1380.5h0M2274.5 1362.5h0M2262.5 1422.5h0M2274.5 1215.5h0M2274.5 1455.5h0M2271.5 1200.5h0M2271.5 1476.5h0" fill="none" stroke="#000099" stroke-width="1.15" stroke-linecap="square"/><path d="M1695.5 1236.5H1716.5V1293.5H1695.5ZM1695.5 1266.5H1716.5M1694.9 1170.5H1717.1M1694.9 1371.5H1717.1M1707.5 1236.5V1170.5M1707.5 1293.5V1371.5M1728.5 1167.5H1749.5V1236.5H1728.5ZM1728.5 1206.5H1749.5M1727.9 1104.5H1750.1M1727.9 1335.5H1750.1M1740.5 1167.5V1104.5M1740.5 1236.5V1335.5M1761.5 1104.5H1782.5V1164.5H1761.5ZM1761.5 1134.5H1782.5M1760.9 1023.5H1783.1M1760.9 1239.5H1783.1M1773.5 1104.5V1023.5M1773.5 1164.5V1239.5M1794.5 1056.5H1818.5V1113.5H1794.5ZM1794.5 1089.5H1818.5M1793.9 978.5H1819.1M1793.9 1173.5H1819.1M1806.5 1056.5V978.5M1806.5 1113.5V1173.5M1827.5 1041.5H1851.5V1101.5H1827.5ZM1827.5 1077.5H1851.5M1826.9 954.5H1852.1M1826.9 1182.5H1852.1M1839.5 1041.5V954.5M1839.5 1101.5V1182.5M1860.5 1044.5H1884.5V1101.5H1860.5ZM1860.5 1077.5H1884.5M1859.9 960.5H1885.1M1859.9 1179.5H1885.1M1872.5 1044.5V960.5M1872.5 1101.5V1179.5M1893.5 1077.5H1917.5V1131.5H1893.5ZM1893.5 1104.5H1917.5M1892.9 1011.5H1918.1M1892.9 1197.5H1918.1M1905.5 1077.5V1011.5M1905.5 1131.5V1197.5M1929.5 1131.5H1950.5V1191.5H1929.5ZM1929.5 1158.5H1950.5M1928.9 1059.5H1951.1M1928.9 1272.5H1951.1M1938.5 1131.5V1059.5M1938.5 1191.5V1272.5M1962.5 1197.5H1983.5V1260.5H1962.5ZM1962.5 1227.5H1983.5M1961.9 1116.5H1984.1M1961.9 1335.5H1984.1M1971.5 1197.5V1116.5M1971.5 1260.5V1335.5M1995.5 1269.5H2016.5V1338.5H1995.5ZM1995.5 1308.5H2016.5M1994.9 1176.5H2017.1M1994.9 1437.5H2017.1M2004.5 1269.5V1176.5M2004.5 1338.5V1437.5M2028.5 1344.5H2049.5V1410.5H2028.5ZM2028.5 1377.5H2049.5M2027.9 1260.5H2050.1M2027.9 1485.5H2050.1M2037.5 1344.5V1260.5M2037.5 1410.5V1485.5M2061.5 1410.5H2082.5V1470.5H2061.5ZM2061.5 1443.5H2082.5M2060.9 1329.5H2083.1M2060.9 1551.5H2083.1M2073.5 1410.5V1329.5M2073.5 1470.5V1551.5M2094.5 1446.5H2115.5V1509.5H2094.5ZM2094.5 1479.5H2115.5M2093.9 1383.5H2116.1M2093.9 1578.5H2116.1M2106.5 1446.5V1383.5M2106.5 1509.5V1578.5M2127.5 1479.5H2148.5V1530.5H2127.5ZM2127.5 1503.5H2148.5M2126.9 1401.5H2149.1M2126.9 1596.5H2149.1M2139.5 1479.5V1401.5M2139.5 1530.5V1596.5M2160.5 1464.5H2181.5V1521.5H2160.5ZM2160.5 1491.5H2181.5M2159.9 1398.5H2182.1M2159.9 1608.5H2182.1M2172.5 1464.5V1398.5M2172.5 1521.5V1608.5M2193.5 1428.5H2217.5V1491.5H2193.5ZM2193.5 1464.5H2217.5M2192.9 1347.5H2218.1M2192.9 1584.5H2218.1M2205.5 1428.5V1347.5M2205.5 1491.5V1584.5M2226.5 1383.5H2250.5V1446.5H2226.5ZM2226.5 1416.5H2250.5M2225.9 1305.5H2251.1M2225.9 1521.5H2251.1M2238.5 1383.5V1305.5M2238.5 1446.5V1521.5M2259.5 1311.5H2283.5V1374.5H2259.5ZM2259.5 1341.5H2283.5M2258.9 1215.5H2284.1M2258.9 1455.5H2284.1M2271.5 1311.5V1215.5M2271.5 1374.5V1455.5" fill="none" stroke="#000099" stroke-width="1.05"/><g fill="none" stroke="#000099" stroke-width="1.2"><circle cx="1707.5" cy="1266.5" r="12"/><circle cx="1740.5" cy="1203.5" r="12"/><circle cx="1773.5" cy="1134.5" r="12"/><circle cx="1806.5" cy="1086.5" r="12"/><circle cx="1839.5" cy="1071.5" r="12"/><circle cx="1872.5" cy="1074.5" r="12"/><circle cx="1905.5" cy="1107.5" r="12"/><circle cx="1938.5" cy="1158.5" r="12"/><circle cx="1971.5" cy="1227.5" r="12"/><circle cx="2004.5" cy="1305.5" r="12"/><circle cx="2037.5" cy="1377.5" r="12"/><circle cx="2073.5" cy="1440.5" r="12"/><circle cx="2106.5" cy="1479.5" r="12"/><circle cx="2139.5" cy="1503.5" r="12"/><circle cx="2172.5" cy="1491.5" r="12"/><circle cx="2205.5" cy="1461.5" r="12"/><circle cx="2238.5" cy="1413.5" r="12"/><circle cx="2271.5" cy="1341.5" r="12"/></g><path d="M1689.5 1614.5V1596.5M1707.5 1614.5V1605.5M1722.5 1614.5V1605.5M1740.5 1614.5V1605.5M1755.5 1614.5V1605.5M1773.5 1614.5V1596.5M1788.5 1614.5V1605.5M1806.5 1614.5V1605.5M1821.5 1614.5V1605.5M1839.5 1614.5V1605.5M1854.5 1614.5V1596.5M1872.5 1614.5V1605.5M1890.5 1614.5V1605.5M1905.5 1614.5V1605.5M1923.5 1614.5V1605.5M1938.5 1614.5V1596.5M1956.5 1614.5V1605.5M1971.5 1614.5V1605.5M1989.5 1614.5V1605.5M2004.5 1614.5V1605.5M2022.5 1614.5V1596.5M2037.5 1614.5V1605.5M2055.5 1614.5V1605.5M2073.5 1614.5V1605.5M2088.5 1614.5V1605.5M2106.5 1614.5V1596.5M2121.5 1614.5V1605.5M2139.5 1614.5V1605.5M2154.5 1614.5V1605.5M2172.5 1614.5V1605.5M2187.5 1614.5V1596.5M2205.5 1614.5V1605.5M2220.5 1614.5V1605.5M2238.5 1614.5V1605.5M2256.5 1614.5V1605.5M2271.5 1614.5V1596.5M1689.5 1614.5H1707.5M1689.5 1593.5H1698.5M1689.5 1572.5H1698.5M1689.5 1548.5H1698.5M1689.5 1527.5H1698.5M1689.5 1506.5H1707.5M1689.5 1482.5H1698.5M1689.5 1461.5H1698.5M1689.5 1440.5H1698.5M1689.5 1416.5H1698.5M1689.5 1395.5H1707.5M1689.5 1374.5H1698.5M1689.5 1350.5H1698.5M1689.5 1329.5H1698.5M1689.5 1308.5H1698.5M1689.5 1287.5H1707.5M1689.5 1263.5H1698.5M1689.5 1242.5H1698.5M1689.5 1221.5H1698.5M1689.5 1197.5H1698.5M1689.5 1176.5H1707.5M1689.5 1155.5H1698.5M1689.5 1131.5H1698.5M1689.5 1110.5H1698.5M1689.5 1089.5H1698.5M1689.5 1065.5H1707.5M1689.5 1044.5H1698.5M1689.5 1023.5H1698.5M1689.5 999.5H1698.5M1689.5 978.5H1698.5M1689.5 957.5H1707.5" fill="none" stroke="#000" stroke-width="1.05"/><path d="M2199.5 927.5H2349.5V1125.5H2199.5Z" fill="#fff" stroke="#000" stroke-width="1.05"/><path d="M2199.5 960.5H2349.5" fill="none" stroke="#000" stroke-width="1.05"/><text x="1989" y="915" font-size="33.5" text-anchor="middle" textLength="128.7" lengthAdjust="spacingAndGlyphs">candlex6</text><text x="1686.2" y="966" font-size="24" text-anchor="end">1.5</text><text x="1689" y="1074" font-size="24" text-anchor="end">1</text><text x="1686.2" y="1185" font-size="24" text-anchor="end">0.5</text><text x="1684.6" y="1296" font-size="24" text-anchor="end">0</text><text x="1686.2" y="1404" font-size="24" text-anchor="end">−0.5</text><text x="1689" y="1515" font-size="24" text-anchor="end">−1</text><text x="1686.2" y="1623" font-size="24" text-anchor="end">−1.5</text><text x="1686.5" y="1640.7" font-size="24" text-anchor="middle">0</text><text x="1771.9" y="1640.7" font-size="24" text-anchor="middle">50</text><text x="1852.9" y="1640.7" font-size="24" text-anchor="middle">100</text><text x="1936.9" y="1640.7" font-size="24" text-anchor="middle">150</text><text x="2020.9" y="1640.7" font-size="24" text-anchor="middle">200</text><text x="2104.9" y="1640.7" font-size="24" text-anchor="middle">250</text><text x="2185.9" y="1640.7" font-size="24" text-anchor="middle">300</text><text x="2269.9" y="1640.7" font-size="24" text-anchor="middle">350</text><text x="2288.2" y="1670.7" font-size="24" text-anchor="end">Deg</text><text x="2223.2" y="953.9" font-size="24.75">h1_copy</text><text x="2205.2" y="983.9" font-size="14.05">Entries</text><text x="2336" y="983.9" font-size="13.8" text-anchor="end">3600</text><text x="2205.2" y="1017" font-size="14.05">Mean x</text><text x="2336.7" y="1017" font-size="13.8" text-anchor="end">175</text><text x="2205.2" y="1049.6" font-size="14.05">Mean y</text><text x="2333.5" y="1049.6" font-size="13.8" text-anchor="end">0.001895</text><text x="2205.2" y="1079.8" font-size="14.05">Std Dev x</text><text x="2334.9" y="1079.8" font-size="13.8" text-anchor="end">103.9</text><text x="2205.2" y="1112.7" font-size="14.05">Std Dev y</text><text x="2335.7" y="1112.7" font-size="13.8" text-anchor="end">0.7269</text></g>
</svg></body></html>
